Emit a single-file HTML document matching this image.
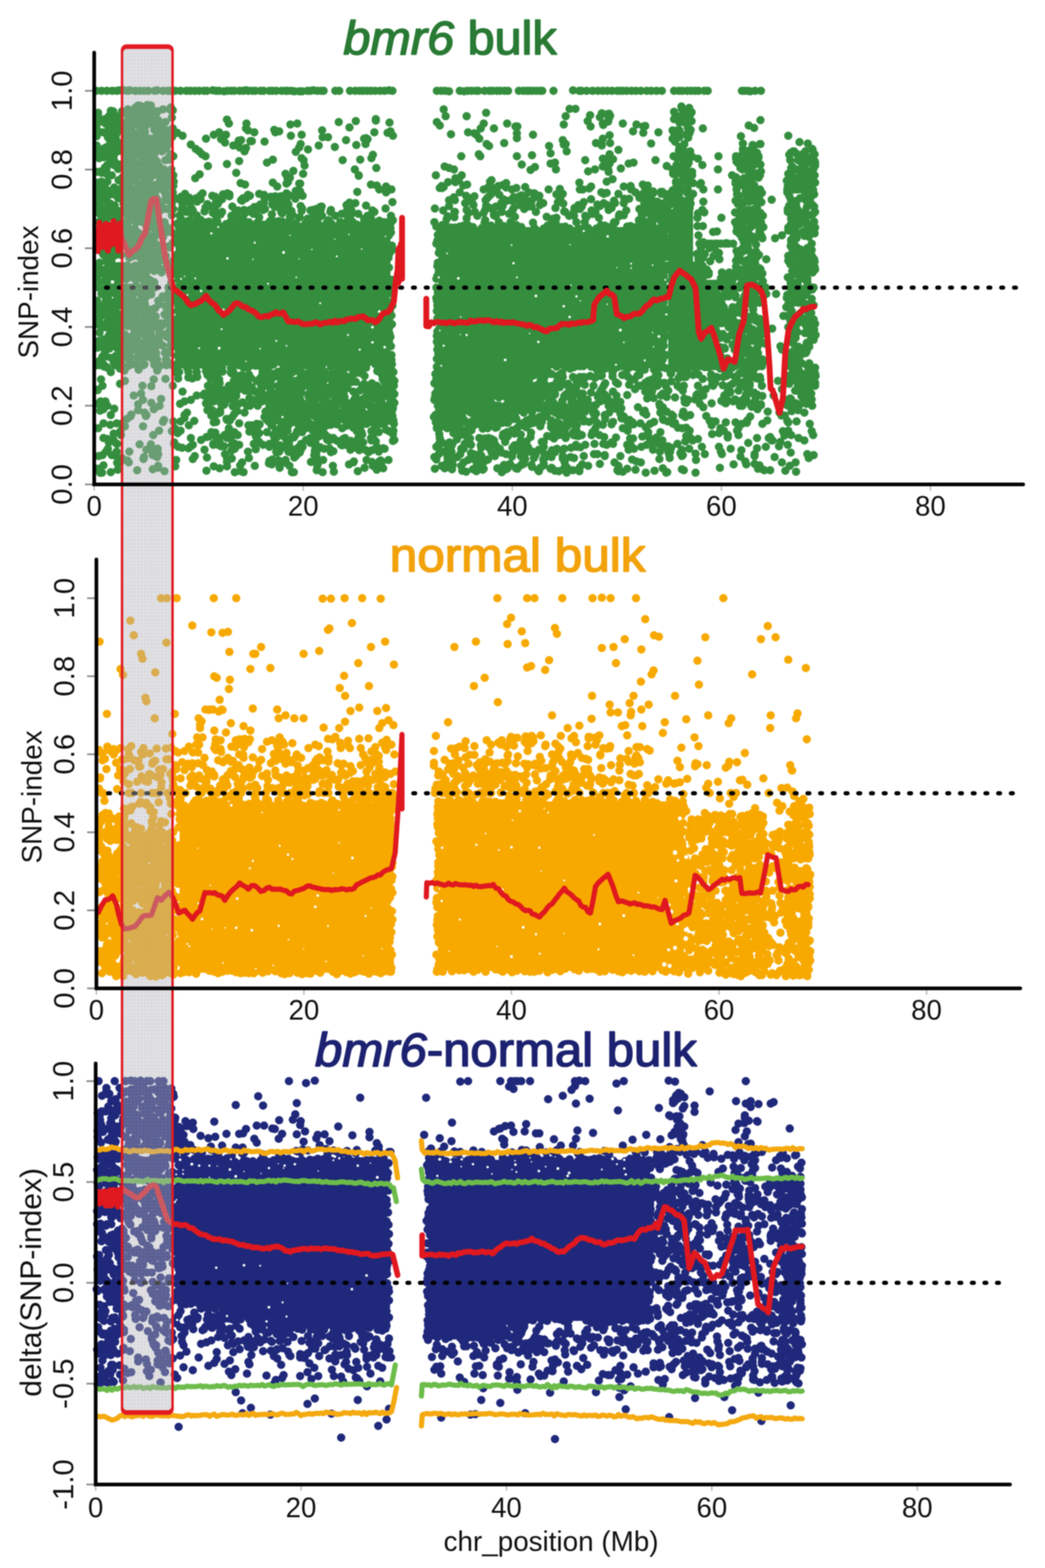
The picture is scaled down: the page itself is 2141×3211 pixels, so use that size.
<!DOCTYPE html>
<html><head><meta charset="utf-8"><style>
html,body{margin:0;padding:0;background:#fff;}
svg{display:block;}
#wrap{filter:blur(1px);width:2141px;height:3211px;}
.tk{font-family:"Liberation Sans",Arial,sans-serif;font-size:56.5px;fill:#111;}
.tky{font-family:"Liberation Sans",Arial,sans-serif;font-size:60px;fill:#111;}
.lab{font-family:"Liberation Sans",Arial,sans-serif;font-size:57px;fill:#111;}
.ttl{font-family:"Liberation Sans",Arial,sans-serif;font-size:97px;font-weight:normal;stroke-width:3px;stroke-linejoin:round;}
</style></head><body>
<div id="wrap"><svg width="2141" height="3211" viewBox="0 0 2141 3211">
<rect width="2141" height="3211" fill="#fff"/>
<rect x="364" y="456" width="436" height="293" fill="#348e3e"/>
<rect x="898" y="465" width="465" height="289" fill="#348e3e"/>
<rect x="889" y="750" width="203" height="60" fill="#348e3e"/>
<rect x="1369" y="428" width="51" height="330" fill="#348e3e"/>
<rect x="1418" y="573" width="56" height="185" fill="#348e3e"/>
<path d="M230 186h0M239 186h0M245 185h0M255 185h0M262 186h0M266 185h0M317 186h0M322 185h0M344 186h0M355 186h0M359 186h0M370 186h0M390 186h0M399 186h0M408 186h0M424 186h0M436 185h0M449 186h0M491 186h0M504 185h0M540 186h0M566 186h0M577 186h0M589 186h0M597 186h0M630 186h0M636 186h0M642 185h0M658 186h0M663 186h0M687 186h0M695 186h0M737 186h0M744 186h0M760 186h0M769 186h0M779 186h0M788 186h0M797 185h0M895 186h0M942 186h0M958 186h0M966 186h0M975 186h0M993 186h0M1003 186h0M1025 186h0M1063 186h0M1072 186h0M1079 186h0M1084 186h0M1090 186h0M1174 185h0M1187 186h0M1191 186h0M1202 186h0M1214 186h0M1254 186h0M1265 186h0M1270 186h0M1276 186h0M1313 186h0M1345 186h0M1356 186h0M1408 186h0M1424 186h0M1450 186h0M1532 186h0M197 186h0M208 186h0M219 186h0M277 186h0M286 186h0M295 186h0M304 186h0M334 186h0M348 186h0M382 186h0M418 186h0M443 186h0M459 187h0M466 186h0M474 186h0M480 186h0M498 186h0M509 186h0M517 186h0M523 186h0M534 186h0M552 186h0M558 186h0M585 186h0M603 187h0M613 187h0M619 187h0M650 186h0M717 186h0M728 186h0M752 186h0M804 186h0M904 186h0M912 186h0M920 187h0M951 187h0M980 186h0M1009 186h0M1018 186h0M1034 186h0M1041 186h0M1098 186h0M1106 186h0M1111 186h0M1134 186h0M1225 186h0M1235 186h0M1244 186h0M1284 186h0M1294 186h0M1303 186h0M1325 186h0M1334 186h0M1381 186h0M1391 186h0M1398 186h0M1416 186h0M1431 186h0M1443 186h0M1520 186h0M1525 186h0M1537 187h0M1547 186h0M1559 186h0M283 216h0M288 217h0M302 215h0M309 216h0M277 221h0M278 220h0M281 219h0M350 220h0M1396 218h0M1412 221h0M262 224h0M286 223h0M293 224h0M334 224h0M348 223h0M348 224h0M350 226h0M909 224h0M1167 223h0M1179 223h0M1397 223h0M1399 223h0M227 227h0M232 228h0M250 228h0M283 228h0M305 226h0M318 228h0M319 230h0M323 228h0M354 226h0M1381 229h0M1411 228h0M1412 228h0M201 231h0M251 231h0M257 231h0M260 234h0M267 232h0M272 233h0M279 233h0M291 233h0M294 232h0M303 231h0M321 231h0M996 231h0M1233 232h0M1248 233h0M1417 230h0M244 238h0M262 237h0M274 235h0M278 238h0M279 237h0M288 235h0M290 235h0M293 235h0M297 236h0M307 236h0M956 238h0M1209 236h0M1244 234h0M1250 237h0M1384 237h0M1398 235h0M1403 236h0M1410 237h0M1414 235h0M201 238h0M223 238h0M238 240h0M239 242h0M269 241h0M352 241h0M913 238h0M1159 238h0M1229 240h0M1248 241h0M1394 238h0M203 244h0M215 244h0M228 242h0M231 244h0M316 244h0M465 245h0M770 244h0M1247 244h0M1381 244h0M1391 244h0M1396 246h0M1558 246h0M198 249h0M232 248h0M232 248h0M244 250h0M248 248h0M264 246h0M266 248h0M287 248h0M297 248h0M307 248h0M324 246h0M339 250h0M694 250h0M729 248h0M770 247h0M895 250h0M1204 248h0M1246 249h0M1417 248h0M200 253h0M216 253h0M226 250h0M238 253h0M261 250h0M274 253h0M295 251h0M308 253h0M309 252h0M312 252h0M318 253h0M326 250h0M332 252h0M469 253h0M505 253h0M609 253h0M798 251h0M991 253h0M1039 253h0M1235 253h0M1276 253h0M1392 251h0M1396 250h0M1404 251h0M274 255h0M283 256h0M290 257h0M299 257h0M595 255h0M901 257h0M1155 255h0M1236 256h0M1304 255h0M1322 258h0M1534 257h0M223 262h0M223 259h0M240 259h0M243 259h0M258 260h0M262 259h0M263 261h0M297 259h0M322 261h0M331 259h0M716 261h0M1056 259h0M1060 259h0M1210 259h0M1318 259h0M1409 261h0M1409 259h0M1545 262h0M248 265h0M261 263h0M266 265h0M269 264h0M269 265h0M323 263h0M329 263h0M354 263h0M504 263h0M562 266h0M985 263h0M1012 263h0M1415 266h0M1440 263h0M200 267h0M229 267h0M229 269h0M237 267h0M237 267h0M242 269h0M265 267h0M288 267h0M288 267h0M291 267h0M292 267h0M296 267h0M316 266h0M333 267h0M336 267h0M342 267h0M351 267h0M353 269h0M508 267h0M572 269h0M660 267h0M800 269h0M1297 269h0M1378 267h0M1388 267h0M1392 267h0M211 271h0M267 273h0M269 272h0M283 273h0M284 271h0M297 271h0M343 271h0M363 272h0M449 271h0M521 271h0M564 271h0M767 271h0M794 272h0M959 271h0M972 273h0M1059 273h0M1318 272h0M1349 271h0M1381 272h0M1409 272h0M1413 272h0M221 276h0M238 276h0M260 276h0M272 278h0M297 277h0M338 276h0M374 278h0M438 276h0M463 276h0M596 278h0M618 276h0M924 275h0M976 276h0M1092 276h0M1249 277h0M1406 276h0M198 279h0M221 281h0M230 280h0M256 281h0M321 279h0M327 279h0M348 281h0M353 280h0M661 281h0M672 281h0M672 281h0M805 278h0M1385 280h0M1392 281h0M1410 282h0M1518 279h0M1615 278h0M237 284h0M263 284h0M268 284h0M268 284h0M276 283h0M291 284h0M309 284h0M340 284h0M347 283h0M422 284h0M453 285h0M746 284h0M750 283h0M753 285h0M982 284h0M1059 283h0M1235 284h0M1378 284h0M225 287h0M236 287h0M292 290h0M297 290h0M310 289h0M330 287h0M331 290h0M331 287h0M489 288h0M494 287h0M513 289h0M516 289h0M542 290h0M709 287h0M1153 287h0M1383 290h0M248 293h0M251 293h0M256 293h0M257 294h0M265 290h0M268 293h0M276 291h0M296 291h0M298 293h0M310 293h0M316 291h0M327 293h0M461 292h0M1033 293h0M1221 293h0M1250 293h0M1334 294h0M1638 291h0M198 298h0M268 295h0M280 298h0M293 295h0M298 296h0M309 296h0M323 298h0M346 295h0M391 296h0M616 295h0M653 298h0M730 297h0M749 295h0M997 295h0M1155 296h0M1159 295h0M1233 296h0M1402 295h0M1522 294h0M1542 297h0M1557 295h0M1558 295h0M1655 294h0M219 301h0M221 301h0M228 301h0M230 299h0M237 298h0M252 300h0M278 301h0M279 301h0M285 301h0M291 302h0M291 302h0M337 299h0M341 301h0M478 298h0M686 301h0M1002 299h0M1125 299h0M1233 298h0M1392 301h0M1545 299h0M213 304h0M235 304h0M274 304h0M285 304h0M340 304h0M401 305h0M491 302h0M504 303h0M613 302h0M631 306h0M1399 305h0M1522 305h0M1664 305h0M222 307h0M243 306h0M257 307h0M276 307h0M288 307h0M289 308h0M297 307h0M298 307h0M308 309h0M315 307h0M316 307h0M333 306h0M1267 307h0M1391 308h0M1398 308h0M1399 307h0M1536 308h0M1665 307h0M200 310h0M212 313h0M226 310h0M228 313h0M240 310h0M241 310h0M252 310h0M256 310h0M256 310h0M259 313h0M259 310h0M259 312h0M261 310h0M263 310h0M268 313h0M270 312h0M278 312h0M284 312h0M288 310h0M302 310h0M311 313h0M317 314h0M332 310h0M408 310h0M501 310h0M606 311h0M1161 310h0M1392 311h0M1392 313h0M1395 310h0M1400 312h0M1414 310h0M1522 313h0M1527 314h0M1545 310h0M1546 314h0M1551 313h0M1620 313h0M1625 310h0M1627 310h0M1650 310h0M202 316h0M206 315h0M290 317h0M292 318h0M350 316h0M414 316h0M764 317h0M981 316h0M1128 314h0M1249 316h0M1412 316h0M1526 318h0M1530 318h0M1542 316h0M1617 317h0M1632 315h0M1644 316h0M1669 316h0M217 320h0M220 320h0M225 320h0M233 320h0M256 320h0M256 321h0M257 320h0M259 320h0M260 320h0M277 320h0M291 320h0M291 320h0M295 320h0M303 320h0M347 320h0M355 320h0M421 320h0M945 320h0M984 320h0M1059 320h0M1090 318h0M1248 321h0M1380 320h0M1418 321h0M1472 320h0M1508 320h0M1523 322h0M1526 320h0M1530 322h0M1554 320h0M1653 321h0M1665 320h0M203 324h0M213 322h0M227 323h0M264 324h0M301 325h0M313 324h0M316 324h0M618 324h0M761 324h0M1235 325h0M1235 325h0M1247 322h0M1387 324h0M1395 323h0M1406 325h0M1430 325h0M1508 324h0M1545 325h0M1549 324h0M1550 324h0M1554 323h0M1642 324h0M272 330h0M301 327h0M307 329h0M308 329h0M314 326h0M339 328h0M348 327h0M490 330h0M559 327h0M622 328h0M702 328h0M738 327h0M1199 328h0M1247 328h0M1256 326h0M1343 328h0M1401 328h0M1531 330h0M1531 328h0M1551 328h0M1619 328h0M1635 328h0M1660 326h0M1666 327h0M1669 330h0M235 331h0M256 333h0M261 333h0M270 333h0M273 333h0M288 333h0M306 333h0M313 333h0M315 334h0M322 331h0M547 333h0M1137 333h0M1298 333h0M1401 333h0M1408 331h0M1411 333h0M1509 331h0M1513 333h0M1524 333h0M1534 333h0M1546 331h0M1641 332h0M1650 333h0M1656 333h0M1663 333h0M1670 333h0M220 338h0M224 335h0M233 338h0M246 337h0M255 337h0M465 336h0M1069 337h0M1128 335h0M1239 334h0M1249 335h0M1288 335h0M1386 338h0M1409 337h0M1439 338h0M1512 334h0M1517 336h0M1539 335h0M1558 337h0M265 340h0M271 339h0M293 339h0M318 341h0M326 340h0M426 340h0M624 339h0M911 341h0M1235 341h0M1244 338h0M1366 340h0M1520 340h0M1530 340h0M1545 338h0M1623 341h0M1645 338h0M1670 339h0M215 343h0M242 346h0M244 343h0M277 342h0M288 345h0M309 345h0M771 344h0M920 344h0M1096 342h0M1272 345h0M1389 343h0M1395 343h0M1403 343h0M1517 344h0M1537 343h0M1540 343h0M1621 344h0M1667 345h0M218 347h0M257 347h0M261 347h0M294 347h0M294 347h0M296 348h0M323 347h0M323 347h0M336 347h0M351 347h0M727 347h0M930 347h0M1087 348h0M1139 347h0M1219 347h0M1246 347h0M1378 347h0M1399 347h0M1471 347h0M1521 347h0M1532 349h0M1623 347h0M1632 347h0M1632 347h0M1650 347h0M1665 347h0M198 352h0M207 351h0M208 354h0M269 352h0M281 354h0M290 352h0M292 353h0M301 353h0M328 354h0M337 352h0M341 352h0M341 351h0M484 354h0M601 350h0M1205 351h0M1247 352h0M1412 353h0M1418 352h0M1534 352h0M1536 353h0M1559 351h0M1640 351h0M1647 354h0M1657 352h0M218 356h0M296 357h0M305 357h0M349 356h0M409 357h0M585 356h0M621 356h0M1379 356h0M1382 357h0M1386 356h0M1404 356h0M1542 356h0M1546 356h0M1552 355h0M1555 356h0M1556 354h0M1615 356h0M1622 357h0M1640 355h0M1650 356h0M1652 357h0M229 359h0M259 359h0M267 360h0M281 360h0M290 359h0M298 361h0M316 358h0M327 361h0M332 358h0M336 360h0M355 359h0M735 359h0M735 360h0M893 359h0M946 359h0M1399 359h0M1418 359h0M1500 359h0M1541 360h0M1543 358h0M1546 359h0M1550 359h0M1557 359h0M1623 361h0M1647 360h0M1654 360h0M1669 359h0M251 363h0M265 365h0M299 365h0M309 363h0M337 363h0M343 365h0M345 362h0M346 363h0M400 365h0M589 365h0M594 364h0M933 365h0M1400 364h0M1410 365h0M1508 363h0M1524 365h0M1535 365h0M1554 364h0M1633 365h0M1634 365h0M243 369h0M276 368h0M302 366h0M303 368h0M337 369h0M340 368h0M348 368h0M940 369h0M1007 369h0M1255 367h0M1540 367h0M199 374h0M203 374h0M208 374h0M208 372h0M220 372h0M246 370h0M260 372h0M276 371h0M295 372h0M298 372h0M303 372h0M327 372h0M356 372h0M590 373h0M918 373h0M933 373h0M1004 372h0M1243 372h0M1385 374h0M1385 372h0M1392 373h0M1399 372h0M1413 372h0M1507 372h0M1530 373h0M1612 370h0M1632 371h0M1644 373h0M1647 372h0M1663 370h0M251 374h0M257 376h0M285 376h0M291 378h0M301 374h0M308 377h0M329 376h0M335 376h0M493 375h0M502 378h0M559 374h0M587 376h0M613 376h0M615 376h0M760 378h0M957 378h0M1037 375h0M1187 374h0M1317 378h0M1412 376h0M1420 375h0M1436 375h0M1507 376h0M1511 375h0M1623 376h0M1626 376h0M1670 374h0M206 380h0M264 379h0M315 379h0M338 381h0M350 379h0M355 381h0M772 380h0M791 382h0M905 381h0M949 380h0M1021 381h0M1030 379h0M1292 381h0M1327 380h0M1391 381h0M1433 378h0M1517 379h0M1520 379h0M1521 379h0M1542 379h0M1545 379h0M1614 381h0M1661 380h0M208 383h0M234 384h0M259 384h0M291 382h0M346 382h0M568 382h0M901 385h0M906 385h0M909 383h0M1000 384h0M1010 385h0M1037 384h0M1058 385h0M1076 383h0M1211 382h0M1278 382h0M1627 386h0M1636 383h0M1638 383h0M1648 383h0M198 388h0M209 389h0M218 388h0M242 388h0M263 388h0M276 388h0M278 388h0M283 388h0M284 387h0M302 388h0M307 388h0M312 388h0M314 389h0M316 388h0M317 389h0M319 388h0M332 388h0M777 388h0M802 388h0M991 388h0M1049 388h0M1124 388h0M1147 387h0M1188 388h0M1194 388h0M1207 386h0M1293 388h0M1294 388h0M1322 388h0M1378 390h0M1383 387h0M1391 388h0M1399 388h0M1401 388h0M1405 388h0M1409 388h0M1441 388h0M1471 388h0M1509 388h0M1536 387h0M1541 388h0M1547 388h0M1557 388h0M1613 388h0M1613 389h0M1626 388h0M1632 388h0M1635 388h0M1651 388h0M1666 389h0M252 393h0M281 394h0M282 392h0M295 391h0M318 393h0M354 394h0M606 391h0M615 392h0M732 393h0M942 394h0M1018 393h0M1083 394h0M1232 394h0M1302 394h0M1338 392h0M1354 393h0M1357 393h0M1410 393h0M1528 392h0M1613 394h0M1647 391h0M1656 393h0M226 396h0M250 396h0M264 397h0M272 395h0M281 396h0M339 397h0M379 397h0M415 396h0M466 396h0M531 397h0M587 396h0M608 396h0M791 394h0M1006 395h0M1093 396h0M1095 396h0M1140 398h0M1150 395h0M1153 397h0M1237 397h0M1243 395h0M1267 397h0M1321 395h0M1332 395h0M1334 396h0M1338 396h0M1355 397h0M1358 397h0M1382 395h0M1384 397h0M1408 395h0M1420 397h0M1510 398h0M1527 398h0M1548 394h0M1561 395h0M1665 396h0M1667 397h0M198 401h0M208 400h0M227 398h0M233 398h0M245 401h0M271 399h0M286 401h0M302 401h0M303 398h0M348 400h0M353 400h0M411 400h0M435 401h0M457 398h0M470 402h0M470 398h0M508 399h0M512 401h0M541 399h0M575 402h0M591 399h0M620 401h0M955 401h0M1006 398h0M1023 399h0M1067 401h0M1069 400h0M1105 401h0M1315 400h0M1316 398h0M1331 401h0M1365 401h0M1368 398h0M1383 398h0M1387 398h0M1391 398h0M1413 398h0M1514 401h0M1529 401h0M1532 401h0M1541 399h0M1617 401h0M1668 398h0M199 402h0M215 403h0M242 406h0M246 403h0M246 403h0M259 404h0M271 406h0M283 406h0M301 405h0M302 406h0M307 403h0M315 402h0M319 403h0M354 406h0M356 404h0M371 403h0M378 406h0M388 405h0M402 406h0M441 403h0M442 406h0M498 406h0M500 406h0M504 406h0M542 406h0M555 403h0M564 402h0M579 402h0M579 402h0M584 402h0M602 402h0M930 404h0M963 406h0M972 402h0M998 406h0M1001 403h0M1052 404h0M1057 405h0M1062 403h0M1071 403h0M1075 405h0M1095 404h0M1310 405h0M1379 404h0M1390 406h0M1413 406h0M1414 406h0M1537 403h0M1548 405h0M1555 403h0M1555 406h0M1639 406h0M1652 403h0M1661 404h0M205 410h0M207 407h0M212 410h0M218 410h0M264 409h0M282 407h0M322 408h0M339 408h0M342 410h0M366 408h0M406 408h0M411 408h0M448 407h0M455 408h0M494 410h0M496 408h0M558 410h0M562 410h0M574 406h0M581 406h0M587 410h0M605 407h0M920 410h0M931 409h0M932 410h0M1031 408h0M1047 410h0M1148 408h0M1211 408h0M1279 407h0M1289 407h0M1326 408h0M1546 408h0M1548 410h0M1581 409h0M1620 408h0M1651 410h0M265 412h0M268 413h0M278 413h0M289 413h0M300 413h0M376 412h0M404 413h0M496 411h0M995 410h0M1039 411h0M1051 412h0M1080 413h0M1087 412h0M1089 412h0M1108 414h0M1143 414h0M1196 414h0M1258 411h0M1329 413h0M1334 411h0M1337 411h0M1347 413h0M1365 413h0M1369 412h0M1378 413h0M1399 411h0M1413 412h0M1441 413h0M1507 411h0M1515 411h0M1529 412h0M1535 413h0M1546 412h0M1632 412h0M1633 411h0M199 414h0M199 416h0M201 416h0M226 417h0M253 417h0M352 416h0M389 416h0M442 416h0M446 418h0M447 416h0M541 415h0M566 418h0M569 416h0M716 415h0M728 416h0M804 414h0M953 416h0M968 416h0M1027 416h0M1066 414h0M1068 416h0M1076 415h0M1113 416h0M1154 417h0M1237 416h0M1260 416h0M1278 416h0M1320 416h0M1321 416h0M1323 416h0M1355 417h0M1362 416h0M1368 416h0M1415 417h0M1512 418h0M1515 417h0M1523 416h0M1560 414h0M235 421h0M278 420h0M310 422h0M330 419h0M374 419h0M425 418h0M533 419h0M558 419h0M581 422h0M582 422h0M591 419h0M616 422h0M710 420h0M720 419h0M750 421h0M920 422h0M970 420h0M996 421h0M1028 422h0M1028 419h0M1030 422h0M1065 420h0M1084 422h0M1106 420h0M1185 420h0M1224 419h0M1229 422h0M1244 420h0M1321 421h0M1330 419h0M1338 418h0M1358 419h0M1370 421h0M1385 421h0M1396 418h0M1402 420h0M1617 421h0M1624 421h0M1626 422h0M1631 420h0M1663 418h0M205 423h0M222 425h0M223 423h0M256 423h0M283 424h0M298 425h0M349 425h0M421 425h0M423 423h0M423 425h0M436 423h0M476 423h0M521 424h0M531 426h0M563 424h0M570 423h0M571 422h0M656 424h0M659 423h0M1016 423h0M1073 425h0M1082 423h0M1089 423h0M1177 426h0M1192 423h0M1246 423h0M1253 426h0M1329 424h0M1349 425h0M1386 423h0M1398 423h0M1410 422h0M1413 426h0M1518 425h0M1519 424h0M1551 426h0M1653 424h0M1667 423h0M1668 423h0M198 430h0M208 428h0M218 426h0M259 427h0M272 428h0M308 428h0M321 428h0M341 428h0M346 428h0M355 428h0M372 429h0M387 430h0M392 426h0M440 426h0M512 430h0M517 428h0M543 428h0M578 428h0M619 427h0M641 430h0M648 428h0M790 427h0M891 427h0M994 430h0M1004 426h0M1011 428h0M1052 427h0M1074 428h0M1138 426h0M1188 428h0M1310 428h0M1315 428h0M1331 428h0M1333 428h0M1333 426h0M1342 428h0M1345 428h0M1346 428h0M1350 427h0M1353 428h0M1358 430h0M1365 427h0M1366 428h0M1533 430h0M1543 429h0M1614 428h0M1628 428h0M1633 428h0M1634 429h0M226 431h0M228 433h0M236 431h0M246 432h0M261 433h0M279 433h0M281 432h0M284 434h0M329 431h0M374 431h0M380 432h0M382 434h0M387 434h0M387 432h0M395 431h0M419 433h0M455 434h0M487 432h0M488 431h0M500 430h0M509 433h0M524 434h0M539 430h0M576 434h0M584 430h0M597 432h0M618 432h0M636 431h0M645 434h0M656 433h0M657 430h0M677 434h0M678 430h0M711 431h0M720 431h0M763 431h0M767 434h0M908 431h0M931 434h0M956 430h0M973 434h0M1028 434h0M1050 431h0M1098 434h0M1156 433h0M1158 434h0M1176 433h0M1212 431h0M1220 434h0M1247 430h0M1283 431h0M1315 433h0M1315 431h0M1323 434h0M1328 434h0M1330 431h0M1338 434h0M1345 433h0M1347 434h0M1359 432h0M1439 430h0M1614 434h0M1618 432h0M1618 431h0M1630 431h0M1650 432h0M1670 434h0M199 435h0M208 438h0M216 434h0M232 434h0M260 436h0M269 438h0M292 436h0M393 436h0M436 436h0M443 437h0M482 436h0M519 438h0M520 437h0M524 435h0M578 437h0M700 438h0M720 438h0M734 438h0M932 434h0M960 436h0M991 436h0M1012 438h0M1013 438h0M1043 438h0M1214 438h0M1317 437h0M1325 436h0M1326 436h0M1343 438h0M1344 438h0M1347 435h0M1360 435h0M1360 438h0M1364 437h0M1430 437h0M1443 435h0M1506 435h0M1518 436h0M1520 436h0M1532 438h0M1536 438h0M1545 437h0M1558 436h0M1622 438h0M1635 435h0M1648 435h0M207 442h0M218 439h0M260 440h0M268 442h0M278 441h0M283 441h0M291 442h0M308 441h0M352 441h0M368 441h0M403 441h0M452 439h0M474 442h0M500 439h0M557 439h0M595 440h0M600 441h0M753 442h0M801 442h0M1012 441h0M1166 442h0M1199 442h0M1269 439h0M1278 441h0M1315 439h0M1333 438h0M1514 440h0M1558 439h0M1622 438h0M1624 441h0M1627 441h0M1662 441h0M1666 438h0M220 442h0M229 444h0M232 446h0M244 442h0M266 444h0M274 446h0M304 443h0M313 442h0M531 445h0M594 445h0M614 445h0M639 446h0M660 442h0M687 442h0M917 443h0M931 445h0M978 442h0M1016 443h0M1055 444h0M1120 444h0M1176 442h0M1202 444h0M1268 443h0M1335 444h0M1342 444h0M1364 444h0M1369 444h0M1369 442h0M1529 442h0M1563 442h0M1621 446h0M1622 444h0M1625 445h0M1630 442h0M1639 445h0M1651 445h0M297 447h0M298 448h0M307 450h0M370 446h0M443 447h0M490 448h0M630 448h0M653 446h0M713 447h0M718 449h0M746 448h0M760 447h0M915 449h0M956 447h0M1133 448h0M1140 446h0M1227 446h0M1341 449h0M1342 447h0M1354 447h0M1429 446h0M1478 446h0M1516 448h0M1535 447h0M1539 447h0M1555 448h0M1621 449h0M1643 447h0M241 453h0M311 454h0M373 453h0M384 453h0M389 451h0M392 453h0M411 450h0M445 453h0M473 453h0M476 453h0M486 454h0M489 453h0M490 451h0M501 453h0M553 453h0M558 452h0M571 453h0M673 451h0M777 452h0M805 451h0M994 451h0M1309 451h0M1318 452h0M1337 451h0M1355 454h0M1512 452h0M1522 451h0M1523 453h0M1623 452h0M1647 453h0M1668 454h0M202 455h0M205 455h0M212 455h0M217 454h0M251 455h0M252 455h0M263 455h0M263 455h0M279 455h0M280 455h0M292 455h0M301 455h0M303 455h0M308 455h0M311 455h0M312 456h0M316 455h0M337 455h0M363 458h0M399 455h0M409 457h0M418 455h0M428 454h0M476 455h0M480 456h0M488 455h0M510 455h0M510 455h0M526 457h0M561 455h0M566 454h0M579 454h0M591 456h0M606 457h0M626 457h0M637 455h0M643 455h0M649 455h0M669 457h0M673 455h0M679 458h0M697 455h0M698 455h0M715 455h0M723 455h0M750 455h0M752 455h0M760 457h0M771 456h0M787 455h0M797 454h0M801 456h0M890 455h0M993 456h0M1022 455h0M1046 455h0M1092 456h0M1131 454h0M1138 455h0M1181 455h0M1198 455h0M1258 455h0M1261 455h0M1312 455h0M1326 455h0M1364 455h0M1368 455h0M1506 455h0M1522 456h0M1524 455h0M1539 455h0M1546 458h0M1554 455h0M1559 455h0M1626 455h0M1632 455h0M1652 455h0M213 458h0M313 461h0M317 459h0M328 459h0M329 459h0M339 462h0M366 458h0M391 460h0M435 460h0M463 459h0M536 460h0M542 460h0M597 459h0M636 459h0M653 460h0M708 458h0M731 460h0M744 459h0M906 461h0M950 462h0M959 461h0M1006 462h0M1022 461h0M1058 461h0M1122 462h0M1231 461h0M1239 462h0M1337 461h0M1541 461h0M1542 462h0M1620 460h0M1625 461h0M1638 459h0M300 464h0M340 464h0M366 465h0M894 464h0M899 466h0M916 464h0M925 466h0M942 464h0M969 465h0M996 462h0M1032 463h0M1068 465h0M1139 462h0M1149 465h0M1158 464h0M1247 465h0M1256 463h0M1285 464h0M1292 463h0M1303 465h0M1310 462h0M1319 462h0M1329 462h0M1355 466h0M1366 463h0M1429 463h0M1440 463h0M1510 464h0M1521 465h0M1539 463h0M1555 464h0M1564 465h0M1654 463h0M1670 466h0M232 466h0M257 469h0M263 468h0M275 468h0M277 470h0M302 467h0M306 466h0M337 468h0M347 468h0M800 467h0M933 466h0M987 467h0M1015 468h0M1040 468h0M1050 469h0M1095 467h0M1114 468h0M1130 468h0M1167 468h0M1185 468h0M1195 468h0M1205 467h0M1222 468h0M1350 468h0M1512 467h0M1537 466h0M1615 466h0M1629 468h0M1630 468h0M1660 467h0M217 473h0M223 471h0M225 470h0M238 472h0M256 473h0M268 470h0M318 472h0M320 472h0M346 473h0M1469 474h0M1509 474h0M1527 472h0M1531 470h0M1531 472h0M1556 474h0M1615 472h0M1628 474h0M1646 474h0M1654 473h0M1668 474h0M225 477h0M244 477h0M278 476h0M284 477h0M325 476h0M340 476h0M352 476h0M367 476h0M801 476h0M1361 475h0M1461 475h0M1557 474h0M1624 476h0M217 482h0M226 479h0M272 480h0M279 479h0M300 481h0M318 481h0M329 479h0M334 482h0M361 482h0M897 481h0M1431 482h0M1515 479h0M1519 479h0M1522 482h0M1528 482h0M1534 479h0M1602 482h0M1632 479h0M1648 479h0M1669 478h0M215 485h0M262 483h0M277 482h0M284 486h0M295 483h0M306 483h0M319 482h0M334 485h0M334 486h0M797 482h0M1361 484h0M1520 486h0M1526 485h0M1544 485h0M1558 485h0M1560 483h0M1648 483h0M1657 485h0M212 488h0M234 488h0M243 488h0M257 488h0M274 487h0M278 488h0M315 488h0M1520 487h0M1543 488h0M1548 488h0M1562 488h0M1588 488h0M1632 488h0M228 493h0M229 492h0M275 491h0M306 493h0M366 494h0M896 493h0M1362 493h0M1527 494h0M1527 490h0M1531 491h0M1537 492h0M1621 491h0M216 497h0M223 497h0M229 496h0M251 495h0M258 496h0M261 496h0M272 496h0M272 495h0M284 495h0M293 495h0M298 498h0M306 496h0M307 496h0M316 496h0M354 497h0M1441 496h0M1524 496h0M1621 495h0M255 500h0M266 498h0M299 499h0M308 501h0M308 501h0M894 499h0M1366 500h0M1433 499h0M1435 498h0M1444 499h0M1447 501h0M1451 499h0M1457 499h0M1465 499h0M1470 499h0M1477 499h0M1485 499h0M1488 498h0M1492 499h0M1502 499h0M1549 501h0M1663 499h0M204 503h0M222 503h0M266 504h0M278 504h0M288 505h0M288 503h0M324 503h0M332 503h0M346 504h0M366 502h0M803 503h0M1532 504h0M1620 504h0M1630 504h0M241 509h0M262 508h0M291 508h0M297 508h0M307 508h0M319 508h0M322 507h0M324 508h0M348 507h0M901 509h0M1366 510h0M1436 508h0M1454 508h0M1464 508h0M1521 509h0M1527 506h0M1532 508h0M1623 509h0M1628 508h0M1629 508h0M1634 508h0M1654 508h0M233 512h0M270 512h0M271 511h0M288 513h0M302 512h0M306 512h0M308 513h0M329 513h0M368 510h0M804 512h0M1534 513h0M1640 511h0M1649 513h0M1663 512h0M210 518h0M211 517h0M217 515h0M219 515h0M226 518h0M235 516h0M264 515h0M267 515h0M285 516h0M294 516h0M305 516h0M313 516h0M315 517h0M318 516h0M899 518h0M1473 518h0M1509 514h0M1524 514h0M1548 516h0M1549 515h0M1629 515h0M1650 518h0M1655 518h0M212 522h0M238 522h0M248 522h0M295 519h0M302 520h0M312 522h0M329 520h0M364 520h0M798 519h0M1358 520h0M1428 520h0M1444 520h0M1515 522h0M1518 518h0M1555 522h0M1621 522h0M1642 521h0M225 523h0M264 524h0M272 525h0M284 525h0M286 525h0M313 524h0M340 524h0M1366 526h0M1462 524h0M1512 523h0M1513 525h0M1539 525h0M1615 524h0M1631 523h0M1648 524h0M1664 525h0M229 530h0M265 528h0M324 527h0M325 527h0M336 527h0M360 529h0M796 528h0M1440 528h0M1550 527h0M1622 529h0M1663 528h0M219 532h0M289 531h0M296 531h0M301 532h0M312 531h0M331 533h0M1431 531h0M1474 531h0M1530 533h0M1537 531h0M1538 531h0M1570 531h0M1615 534h0M1616 531h0M1623 531h0M1641 532h0M1663 531h0M1668 531h0M1668 531h0M204 538h0M217 535h0M221 537h0M224 534h0M228 538h0M295 535h0M320 535h0M354 535h0M364 536h0M1455 535h0M1508 534h0M1520 534h0M1525 537h0M1544 537h0M1621 534h0M1650 535h0M1669 536h0M297 540h0M306 541h0M312 541h0M897 538h0M1434 539h0M1541 541h0M1547 539h0M1619 541h0M1634 540h0M1640 539h0M1661 539h0M1667 539h0M202 544h0M234 544h0M244 545h0M257 545h0M261 544h0M274 546h0M277 544h0M287 544h0M309 543h0M342 544h0M354 545h0M368 545h0M896 545h0M1366 544h0M1423 544h0M1439 544h0M1508 546h0M1530 545h0M1537 546h0M1623 543h0M1650 543h0M1666 544h0M220 549h0M229 547h0M233 547h0M313 546h0M325 548h0M352 549h0M797 548h0M1429 550h0M1536 547h0M1555 549h0M1645 550h0M1658 547h0M1659 547h0M1669 547h0M199 552h0M215 552h0M218 551h0M220 552h0M231 552h0M238 552h0M277 552h0M296 552h0M298 551h0M298 550h0M311 550h0M317 552h0M318 552h0M319 552h0M331 553h0M331 552h0M349 552h0M1363 554h0M1438 552h0M1448 552h0M1511 552h0M1516 552h0M1547 552h0M1558 551h0M1632 552h0M1634 552h0M1637 553h0M1658 552h0M1660 551h0M1661 552h0M1663 552h0M1670 552h0M211 555h0M214 556h0M223 555h0M230 557h0M244 558h0M253 554h0M264 554h0M267 556h0M271 555h0M273 556h0M296 557h0M316 555h0M328 554h0M361 555h0M899 556h0M1422 557h0M1432 555h0M1437 556h0M1508 555h0M1521 557h0M1524 554h0M1623 555h0M1640 556h0M204 558h0M213 562h0M219 560h0M261 561h0M265 558h0M285 560h0M300 558h0M331 558h0M1452 558h0M1479 558h0M1494 558h0M1514 558h0M1515 558h0M1518 558h0M1519 559h0M1524 561h0M1538 558h0M1543 558h0M1552 558h0M1562 560h0M1633 558h0M1639 558h0M1641 558h0M1649 560h0M1655 558h0M1664 558h0M1665 558h0M232 564h0M237 565h0M243 565h0M246 565h0M264 566h0M349 562h0M362 563h0M896 565h0M1360 565h0M1427 562h0M1435 564h0M1443 565h0M1451 562h0M1452 562h0M1491 564h0M1505 562h0M1510 565h0M1513 563h0M1519 565h0M1521 563h0M1537 565h0M1538 565h0M1549 564h0M1626 562h0M198 568h0M222 568h0M222 569h0M235 567h0M244 570h0M263 569h0M276 568h0M278 570h0M297 567h0M1423 569h0M1436 568h0M1477 570h0M1491 568h0M1518 569h0M1551 567h0M1559 568h0M1614 568h0M1619 568h0M1643 568h0M1652 566h0M198 571h0M243 573h0M258 572h0M277 572h0M283 571h0M303 571h0M366 572h0M802 573h0M894 571h0M1480 573h0M1484 571h0M1501 573h0M1534 571h0M1617 570h0M1639 571h0M1649 572h0M1654 571h0M199 575h0M204 577h0M216 574h0M296 577h0M298 577h0M308 577h0M308 574h0M309 575h0M309 575h0M316 578h0M1361 574h0M1397 578h0M1414 578h0M1426 578h0M1432 578h0M1487 574h0M1490 576h0M1543 577h0M1563 576h0M1654 578h0M219 579h0M242 579h0M298 581h0M303 578h0M303 579h0M305 579h0M351 578h0M351 578h0M1378 579h0M1407 578h0M1442 580h0M1465 581h0M1476 579h0M1522 581h0M1620 580h0M1629 579h0M1634 580h0M279 586h0M368 583h0M797 584h0M1379 582h0M1388 584h0M1452 582h0M1500 582h0M1517 583h0M1530 584h0M1557 584h0M202 589h0M216 589h0M230 589h0M231 589h0M235 589h0M235 589h0M252 589h0M258 589h0M261 589h0M267 589h0M267 589h0M272 589h0M275 589h0M279 589h0M279 589h0M286 589h0M287 589h0M290 589h0M305 589h0M309 589h0M310 586h0M313 589h0M317 586h0M317 589h0M345 589h0M348 590h0M894 589h0M1382 589h0M1475 587h0M1481 589h0M1481 589h0M1487 589h0M1496 587h0M1499 590h0M1500 589h0M1510 589h0M1511 588h0M1512 589h0M1515 589h0M1516 589h0M1527 589h0M1528 589h0M1528 589h0M1529 589h0M1534 589h0M1546 589h0M1551 589h0M1561 589h0M1569 589h0M1619 589h0M1620 589h0M1627 589h0M1635 589h0M1637 589h0M1652 589h0M1654 589h0M1659 589h0M1663 589h0M1664 589h0M1665 589h0M1667 589h0M259 592h0M270 592h0M299 590h0M367 591h0M801 593h0M1364 590h0M1462 592h0M1501 592h0M1537 592h0M1546 590h0M1653 590h0M1664 593h0M256 595h0M284 594h0M291 597h0M1485 598h0M1492 597h0M1497 594h0M1551 597h0M1643 595h0M1647 595h0M208 602h0M220 599h0M235 601h0M242 602h0M262 599h0M266 600h0M276 599h0M292 601h0M345 601h0M361 601h0M797 599h0M897 600h0M1364 601h0M1378 601h0M1468 601h0M1494 602h0M1494 598h0M1570 602h0M1590 602h0M1621 600h0M1624 599h0M1633 599h0M1642 598h0M1643 600h0M1654 598h0M220 605h0M247 603h0M247 606h0M289 603h0M297 603h0M308 603h0M310 603h0M344 605h0M345 605h0M1507 605h0M1528 602h0M1531 602h0M1543 605h0M1613 604h0M1617 605h0M1636 604h0M1636 606h0M1647 605h0M1651 604h0M221 608h0M272 607h0M300 607h0M333 607h0M344 608h0M362 609h0M802 609h0M894 610h0M1363 608h0M1477 607h0M1480 607h0M1488 607h0M1493 607h0M1507 609h0M1507 608h0M1525 607h0M1613 608h0M1626 609h0M1645 608h0M217 610h0M246 611h0M258 611h0M289 613h0M293 610h0M298 610h0M335 610h0M344 613h0M1461 610h0M1535 610h0M1549 613h0M1551 613h0M1563 610h0M1612 610h0M1663 612h0M199 616h0M217 616h0M237 617h0M244 617h0M259 616h0M264 616h0M270 616h0M273 616h0M274 617h0M292 617h0M324 616h0M362 618h0M798 617h0M895 616h0M1382 615h0M1544 616h0M1556 614h0M1559 614h0M1559 616h0M1561 616h0M1632 616h0M228 619h0M232 622h0M262 620h0M263 621h0M290 619h0M347 620h0M1360 619h0M1468 619h0M1476 622h0M1478 620h0M1518 618h0M1519 619h0M1556 620h0M1626 620h0M1636 620h0M1645 620h0M203 626h0M212 626h0M212 625h0M214 623h0M217 624h0M241 623h0M248 623h0M249 626h0M273 624h0M273 624h0M277 626h0M280 626h0M282 623h0M283 625h0M290 626h0M290 626h0M297 623h0M326 623h0M804 626h0M1479 624h0M1514 626h0M1538 623h0M1541 626h0M1615 623h0M1648 624h0M1653 623h0M1659 626h0M1661 623h0M1667 625h0M256 628h0M295 629h0M339 627h0M344 628h0M345 629h0M347 627h0M365 626h0M896 626h0M1376 628h0M1469 627h0M1483 629h0M1501 629h0M1543 627h0M1611 629h0M1663 628h0M205 631h0M211 631h0M224 634h0M230 634h0M266 632h0M267 630h0M287 631h0M295 631h0M308 634h0M318 631h0M1366 634h0M1376 633h0M1464 634h0M1504 634h0M1543 634h0M1620 634h0M1657 634h0M218 637h0M224 636h0M237 636h0M281 637h0M292 636h0M293 636h0M364 636h0M799 636h0M895 637h0M1525 636h0M1622 637h0M1647 634h0M203 638h0M206 641h0M233 639h0M233 641h0M259 640h0M263 639h0M269 642h0M301 639h0M311 642h0M342 639h0M350 639h0M1478 639h0M1493 639h0M1498 639h0M1512 640h0M1639 642h0M1656 639h0M1662 641h0M251 643h0M299 644h0M301 643h0M308 644h0M337 644h0M368 645h0M802 646h0M900 646h0M1376 643h0M1467 645h0M1499 643h0M1502 645h0M1522 644h0M1545 646h0M1638 643h0M201 647h0M206 646h0M217 647h0M237 648h0M242 647h0M256 647h0M260 647h0M261 647h0M273 647h0M274 648h0M296 647h0M296 647h0M298 647h0M299 647h0M309 650h0M319 648h0M1488 647h0M1499 647h0M1527 647h0M1540 647h0M1544 649h0M1605 647h0M1613 647h0M1629 649h0M1657 647h0M203 652h0M222 654h0M225 652h0M238 653h0M281 653h0M283 653h0M288 652h0M304 653h0M305 653h0M351 652h0M363 653h0M896 652h0M1366 654h0M1468 653h0M1478 651h0M1480 651h0M1531 653h0M1537 651h0M1537 651h0M1539 653h0M1556 653h0M1625 650h0M1639 653h0M1641 653h0M1648 653h0M1656 653h0M1660 653h0M203 656h0M203 655h0M233 658h0M233 658h0M249 658h0M271 655h0M285 656h0M298 656h0M305 658h0M310 656h0M312 657h0M315 656h0M342 658h0M797 655h0M1383 655h0M1476 656h0M1482 656h0M1504 658h0M1530 656h0M1534 656h0M1547 656h0M1551 656h0M1561 658h0M1619 656h0M1636 656h0M1650 656h0M1662 654h0M1667 654h0M223 660h0M231 660h0M240 658h0M267 660h0M268 661h0M273 658h0M305 658h0M318 660h0M353 658h0M362 662h0M1465 662h0M1489 661h0M1495 661h0M1554 660h0M1634 660h0M1637 660h0M1660 660h0M199 664h0M200 662h0M217 663h0M231 666h0M253 664h0M263 662h0M273 664h0M281 666h0M284 662h0M311 664h0M316 663h0M329 662h0M330 666h0M334 665h0M803 664h0M1365 662h0M1478 662h0M1487 662h0M1506 665h0M1508 663h0M1515 662h0M1559 665h0M1648 662h0M1670 663h0M207 670h0M215 670h0M216 670h0M249 670h0M262 668h0M277 670h0M278 670h0M291 670h0M293 667h0M299 670h0M299 670h0M319 669h0M324 667h0M329 670h0M349 667h0M1493 670h0M1515 670h0M1521 670h0M1529 670h0M1529 666h0M1532 670h0M1535 670h0M1615 670h0M1627 670h0M1629 670h0M1629 670h0M1631 667h0M1652 668h0M1663 669h0M1666 670h0M222 672h0M226 672h0M234 673h0M275 674h0M300 671h0M308 672h0M309 670h0M328 670h0M362 672h0M797 672h0M900 673h0M1363 672h0M1465 672h0M1558 674h0M1582 673h0M226 675h0M238 675h0M246 678h0M247 677h0M277 675h0M326 675h0M351 677h0M1502 677h0M1502 675h0M1526 675h0M1543 675h0M1563 677h0M1567 677h0M1618 675h0M1668 675h0M204 681h0M228 682h0M230 682h0M247 680h0M284 679h0M292 682h0M295 680h0M309 680h0M344 682h0M346 679h0M896 679h0M1360 681h0M1377 679h0M1468 679h0M1502 682h0M1520 682h0M1537 680h0M1543 679h0M1545 682h0M1560 682h0M1620 682h0M1621 679h0M1631 679h0M1634 680h0M1649 682h0M1651 680h0M1654 682h0M1661 679h0M243 686h0M256 685h0M274 684h0M293 685h0M326 685h0M334 685h0M339 685h0M368 683h0M798 683h0M1475 685h0M1481 684h0M1561 682h0M223 687h0M228 689h0M232 688h0M269 690h0M298 687h0M309 687h0M342 690h0M343 688h0M363 688h0M895 688h0M1364 688h0M1481 687h0M1497 687h0M1501 686h0M1508 690h0M1536 690h0M1539 687h0M1545 690h0M1554 690h0M1560 686h0M1671 686h0M238 693h0M270 693h0M276 691h0M280 692h0M304 693h0M348 693h0M352 692h0M800 690h0M1469 691h0M1476 692h0M1525 693h0M1538 692h0M1544 692h0M1553 693h0M1620 693h0M1630 692h0M1662 693h0M203 698h0M213 695h0M214 695h0M220 696h0M238 697h0M256 697h0M322 695h0M323 695h0M352 697h0M364 697h0M1359 697h0M1489 695h0M1509 696h0M1515 695h0M1529 695h0M1533 697h0M1544 694h0M1547 698h0M1550 695h0M1556 694h0M1617 695h0M1665 696h0M1667 696h0M227 698h0M234 699h0M248 699h0M292 702h0M304 701h0M320 699h0M324 699h0M326 699h0M351 702h0M797 699h0M895 700h0M1463 699h0M1523 701h0M1534 699h0M1542 698h0M1563 702h0M1653 702h0M209 704h0M212 704h0M256 706h0M262 706h0M279 704h0M285 706h0M322 705h0M330 706h0M1501 706h0M1504 704h0M1517 704h0M1555 704h0M1568 704h0M1625 703h0M207 706h0M211 710h0M213 709h0M217 708h0M235 708h0M266 708h0M274 710h0M274 708h0M286 710h0M290 708h0M293 708h0M309 708h0M314 706h0M334 708h0M350 707h0M353 710h0M360 708h0M801 709h0M898 708h0M1360 708h0M1516 708h0M1523 710h0M1553 708h0M1599 709h0M1636 710h0M1654 706h0M1658 710h0M200 712h0M240 713h0M261 712h0M268 712h0M276 713h0M301 711h0M318 713h0M1476 711h0M1484 712h0M1485 714h0M1551 713h0M1648 712h0M224 714h0M242 714h0M270 716h0M274 716h0M279 718h0M292 716h0M316 714h0M896 716h0M1383 717h0M1466 717h0M1505 716h0M1521 715h0M1524 715h0M1535 715h0M1602 716h0M1631 714h0M1634 716h0M215 720h0M347 719h0M366 718h0M1536 722h0M1624 720h0M1653 719h0M251 723h0M259 723h0M291 723h0M293 723h0M298 723h0M303 723h0M318 723h0M320 723h0M320 724h0M338 723h0M344 723h0M347 723h0M898 725h0M1382 726h0M1515 723h0M1517 723h0M1518 723h0M1524 723h0M1528 723h0M1533 723h0M1540 723h0M1549 723h0M1553 723h0M1613 723h0M1635 724h0M1643 725h0M1649 723h0M1651 723h0M210 730h0M218 730h0M237 729h0M309 730h0M363 728h0M802 727h0M1365 727h0M1467 727h0M1476 728h0M1518 730h0M1639 729h0M211 733h0M211 730h0M228 733h0M259 733h0M267 731h0M281 733h0M294 733h0M306 731h0M1379 733h0M1468 734h0M1539 733h0M1542 731h0M1621 731h0M236 737h0M247 736h0M313 736h0M322 736h0M340 737h0M367 737h0M802 737h0M895 735h0M1358 736h0M1480 736h0M1490 734h0M1518 736h0M1538 737h0M1550 737h0M1562 736h0M1613 736h0M1626 734h0M1630 736h0M1633 736h0M1634 738h0M204 739h0M343 740h0M1382 741h0M1481 742h0M1492 739h0M1502 741h0M1519 741h0M1530 742h0M1533 739h0M1556 739h0M1562 740h0M1563 741h0M1620 740h0M1622 742h0M1636 742h0M199 744h0M233 742h0M248 745h0M266 742h0M280 744h0M296 746h0M321 746h0M364 744h0M769 746h0M803 746h0M900 743h0M1525 744h0M1527 745h0M1544 744h0M1546 744h0M1551 744h0M1562 744h0M1643 744h0M1658 744h0M198 748h0M205 748h0M214 748h0M236 748h0M237 748h0M268 747h0M284 747h0M294 748h0M316 747h0M328 749h0M341 748h0M353 748h0M364 749h0M372 746h0M393 748h0M408 747h0M418 748h0M479 749h0M489 748h0M516 748h0M524 749h0M552 746h0M560 747h0M580 747h0M588 747h0M615 749h0M625 748h0M641 748h0M660 748h0M689 750h0M699 749h0M705 747h0M741 748h0M777 750h0M797 750h0M1187 750h0M1195 750h0M1275 750h0M1417 746h0M1432 747h0M1462 748h0M1503 747h0M1530 749h0M1614 749h0M1619 746h0M1628 747h0M1654 749h0M214 751h0M220 753h0M262 750h0M282 750h0M383 753h0M399 750h0M427 753h0M436 752h0M446 750h0M455 751h0M473 754h0M499 753h0M508 753h0M535 751h0M546 752h0M596 753h0M607 754h0M636 752h0M654 754h0M678 751h0M714 752h0M724 750h0M733 753h0M750 753h0M787 752h0M895 751h0M896 750h0M925 752h0M952 752h0M969 751h0M1007 751h0M1023 752h0M1043 752h0M1050 753h0M1087 750h0M1095 750h0M1104 753h0M1114 752h0M1140 751h0M1158 752h0M1176 752h0M1211 751h0M1248 752h0M1265 752h0M1294 751h0M1304 752h0M1356 752h0M1386 754h0M1398 753h0M1444 752h0M1451 752h0M1483 750h0M1483 750h0M1492 751h0M1499 754h0M1506 750h0M1520 750h0M1538 750h0M1539 750h0M1545 752h0M1547 753h0M1553 750h0M1561 750h0M1670 753h0M246 755h0M252 755h0M284 757h0M907 755h0M917 756h0M934 758h0M944 755h0M961 755h0M980 757h0M1013 757h0M1031 756h0M1059 757h0M1068 757h0M1078 757h0M1121 757h0M1168 755h0M1222 756h0M1229 757h0M1240 755h0M1259 755h0M1285 757h0M1311 757h0M1321 757h0M1340 757h0M1346 757h0M1364 754h0M1476 755h0M1487 756h0M1526 757h0M1624 755h0M1663 756h0M1666 756h0M227 762h0M255 759h0M322 759h0M367 762h0M386 762h0M403 762h0M422 760h0M430 760h0M439 761h0M445 760h0M456 761h0M478 762h0M538 762h0M546 762h0M552 762h0M569 762h0M571 761h0M574 762h0M582 762h0M585 762h0M600 762h0M615 759h0M641 762h0M644 760h0M651 762h0M659 762h0M665 761h0M702 761h0M724 758h0M726 761h0M728 762h0M737 762h0M740 762h0M773 760h0M779 762h0M786 762h0M787 760h0M790 758h0M794 760h0M803 759h0M806 762h0M1408 762h0M1486 758h0M1493 762h0M1522 759h0M1523 762h0M1525 762h0M1527 759h0M1529 762h0M1543 761h0M1624 762h0M1632 759h0M1637 759h0M1638 762h0M1657 758h0M1663 759h0M1665 759h0M361 763h0M448 763h0M473 763h0M475 765h0M541 765h0M551 763h0M554 764h0M615 764h0M629 765h0M645 762h0M665 765h0M680 765h0M691 763h0M730 764h0M739 764h0M781 765h0M794 764h0M939 763h0M983 765h0M989 763h0M1014 765h0M1021 764h0M1032 764h0M1046 763h0M1063 765h0M1070 763h0M1074 764h0M1074 763h0M1116 763h0M1124 763h0M1130 766h0M1150 766h0M1151 765h0M1152 763h0M1255 763h0M1374 765h0M1375 765h0M1425 762h0M1516 764h0M1628 763h0M1670 765h0M425 768h0M430 768h0M445 769h0M496 768h0M510 767h0M538 768h0M560 766h0M566 768h0M579 768h0M594 766h0M627 766h0M666 766h0M702 768h0M706 768h0M706 768h0M722 768h0M747 770h0M892 766h0M909 768h0M926 770h0M946 770h0M982 768h0M1022 769h0M1027 770h0M1093 769h0M1096 766h0M1106 766h0M1117 770h0M1141 770h0M1146 768h0M1232 768h0M1233 769h0M1275 768h0M1306 769h0M1310 768h0M1344 769h0M1349 768h0M1394 768h0M1420 768h0M1431 767h0M1457 767h0M1488 770h0M1494 767h0M1513 767h0M1528 767h0M1528 768h0M1538 770h0M1613 770h0M1622 770h0M1648 766h0M1652 769h0M1652 767h0M1659 769h0M1667 768h0M1670 768h0M1671 770h0M386 773h0M404 772h0M482 770h0M489 770h0M492 770h0M507 772h0M514 774h0M536 771h0M538 772h0M563 771h0M575 772h0M621 772h0M663 772h0M663 772h0M691 772h0M719 772h0M801 772h0M952 770h0M966 772h0M982 772h0M1011 772h0M1053 772h0M1072 772h0M1074 772h0M1153 772h0M1174 772h0M1188 772h0M1196 772h0M1199 773h0M1209 770h0M1220 772h0M1231 770h0M1255 771h0M1287 772h0M1401 772h0M1405 772h0M1468 772h0M1470 773h0M1482 772h0M1506 772h0M1534 771h0M1540 772h0M1541 772h0M1543 772h0M1548 772h0M1557 772h0M1614 772h0M1618 772h0M1644 772h0M1651 772h0M1654 772h0M207 777h0M315 777h0M339 776h0M365 775h0M394 775h0M431 775h0M433 777h0M449 777h0M510 777h0M532 776h0M552 777h0M556 777h0M557 776h0M582 777h0M582 777h0M584 777h0M594 775h0M613 777h0M619 776h0M622 776h0M626 775h0M627 777h0M632 775h0M643 777h0M644 777h0M644 774h0M649 778h0M659 775h0M665 777h0M678 777h0M688 777h0M715 775h0M784 776h0M788 775h0M789 774h0M794 777h0M798 775h0M802 774h0M805 777h0M894 776h0M897 776h0M898 777h0M911 775h0M918 774h0M951 777h0M985 777h0M996 777h0M997 777h0M1004 777h0M1082 777h0M1108 776h0M1144 776h0M1177 774h0M1219 774h0M1293 777h0M1300 777h0M1340 775h0M1390 775h0M1440 776h0M1457 776h0M1509 777h0M1550 775h0M1629 776h0M1647 777h0M1653 777h0M1668 777h0M256 780h0M479 780h0M482 782h0M483 782h0M500 779h0M526 780h0M541 780h0M576 779h0M584 781h0M584 778h0M598 780h0M599 780h0M607 780h0M634 779h0M650 778h0M684 781h0M700 780h0M706 778h0M713 780h0M717 780h0M721 782h0M724 780h0M729 782h0M787 781h0M791 779h0M808 780h0M901 781h0M950 779h0M954 779h0M961 780h0M970 782h0M989 779h0M1005 778h0M1041 779h0M1041 782h0M1049 782h0M1057 781h0M1077 782h0M1080 780h0M1114 780h0M1141 782h0M1150 779h0M1328 780h0M1334 778h0M1375 781h0M1558 778h0M1594 780h0M1615 781h0M1618 780h0M1629 779h0M1631 780h0M1633 780h0M1642 779h0M1652 781h0M1654 780h0M246 786h0M446 786h0M450 785h0M493 786h0M497 784h0M620 786h0M620 783h0M621 785h0M628 785h0M633 782h0M635 785h0M651 786h0M685 786h0M692 785h0M705 785h0M709 786h0M716 783h0M762 785h0M890 785h0M938 785h0M946 785h0M985 784h0M999 784h0M1004 783h0M1018 783h0M1031 785h0M1031 783h0M1044 783h0M1106 784h0M1164 786h0M1182 783h0M1196 786h0M1240 785h0M1262 783h0M1322 784h0M1329 786h0M1351 783h0M1361 784h0M1465 784h0M1522 783h0M1530 785h0M1617 786h0M1635 784h0M1670 784h0M448 790h0M545 788h0M578 789h0M607 788h0M636 789h0M655 789h0M746 786h0M971 789h0M992 789h0M1064 788h0M1149 787h0M1198 788h0M1266 786h0M1289 788h0M1459 788h0M1481 789h0M1501 786h0M1530 787h0M1536 786h0M1561 790h0M1670 788h0M1670 790h0M210 790h0M292 790h0M310 791h0M354 790h0M426 790h0M428 790h0M443 790h0M469 790h0M476 792h0M476 790h0M479 792h0M486 790h0M488 793h0M489 792h0M506 790h0M510 790h0M516 793h0M535 790h0M536 790h0M542 790h0M549 790h0M557 790h0M570 790h0M572 790h0M589 790h0M590 790h0M603 794h0M605 791h0M616 790h0M618 793h0M622 790h0M630 790h0M641 790h0M646 790h0M651 790h0M664 791h0M679 790h0M680 790h0M682 791h0M692 791h0M705 790h0M742 790h0M749 790h0M752 790h0M752 790h0M763 790h0M764 790h0M772 790h0M789 790h0M793 790h0M795 790h0M807 790h0M896 790h0M899 790h0M905 794h0M926 790h0M934 790h0M934 790h0M936 793h0M984 790h0M1003 790h0M1004 791h0M1034 790h0M1049 790h0M1051 790h0M1053 790h0M1059 790h0M1067 790h0M1074 794h0M1097 790h0M1100 790h0M1103 790h0M1115 790h0M1115 793h0M1122 791h0M1132 790h0M1137 790h0M1147 793h0M1163 790h0M1178 792h0M1181 792h0M1216 790h0M1237 790h0M1308 790h0M1311 790h0M1341 792h0M1347 790h0M1364 790h0M1388 790h0M1392 793h0M1401 790h0M1430 790h0M1461 790h0M1495 790h0M1517 790h0M1519 790h0M1526 792h0M1527 792h0M1535 790h0M1536 790h0M1635 790h0M1639 790h0M1640 792h0M1652 790h0M1658 790h0M1669 790h0M1669 790h0M434 796h0M483 797h0M486 795h0M536 797h0M554 796h0M572 797h0M572 795h0M580 796h0M587 798h0M608 797h0M618 795h0M638 795h0M690 797h0M696 796h0M712 795h0M745 796h0M762 798h0M775 796h0M790 795h0M791 797h0M794 796h0M803 795h0M927 795h0M933 796h0M944 796h0M957 798h0M1000 797h0M1017 794h0M1059 795h0M1062 797h0M1072 797h0M1081 796h0M1126 797h0M1135 795h0M1174 796h0M1233 797h0M1301 797h0M1323 797h0M1326 796h0M1326 796h0M1446 797h0M1602 797h0M1643 794h0M1651 795h0M1656 797h0M1658 795h0M1659 794h0M199 798h0M200 799h0M435 801h0M442 799h0M459 801h0M459 799h0M467 801h0M487 799h0M502 800h0M511 801h0M580 799h0M582 799h0M587 799h0M589 799h0M637 800h0M650 800h0M650 799h0M686 802h0M737 800h0M765 801h0M768 799h0M769 801h0M775 799h0M794 800h0M803 800h0M803 800h0M912 799h0M954 800h0M956 800h0M959 798h0M989 799h0M1039 800h0M1048 801h0M1059 799h0M1080 798h0M1101 798h0M1230 802h0M1336 801h0M1369 800h0M1399 800h0M1441 800h0M1513 800h0M1629 800h0M1630 800h0M1631 800h0M1654 800h0M374 802h0M443 804h0M454 805h0M473 805h0M523 802h0M573 804h0M575 804h0M579 802h0M589 805h0M604 804h0M616 806h0M617 804h0M636 805h0M665 803h0M676 802h0M688 804h0M694 804h0M696 802h0M724 802h0M753 802h0M767 805h0M782 802h0M804 802h0M894 804h0M896 802h0M947 805h0M952 805h0M972 802h0M984 802h0M1020 802h0M1077 802h0M1090 803h0M1090 804h0M1091 805h0M1122 802h0M1177 802h0M1180 802h0M1211 804h0M1233 803h0M1256 802h0M1322 802h0M1327 803h0M1491 802h0M1496 804h0M1496 802h0M1531 803h0M1545 804h0M1644 802h0M1658 804h0M274 810h0M289 806h0M403 810h0M416 809h0M419 806h0M421 806h0M423 809h0M427 806h0M445 809h0M453 809h0M458 809h0M475 810h0M482 808h0M531 806h0M531 809h0M534 807h0M552 806h0M561 806h0M575 809h0M592 809h0M593 806h0M598 806h0M633 806h0M645 809h0M662 806h0M666 806h0M674 808h0M683 810h0M700 809h0M704 806h0M751 810h0M759 806h0M768 806h0M780 810h0M798 810h0M804 808h0M808 807h0M892 808h0M892 806h0M894 809h0M911 810h0M913 809h0M924 809h0M925 806h0M1008 806h0M1034 809h0M1047 806h0M1067 806h0M1079 808h0M1091 809h0M1092 809h0M1093 806h0M1095 808h0M1101 806h0M1110 808h0M1116 807h0M1119 806h0M1123 806h0M1137 808h0M1137 806h0M1159 808h0M1162 806h0M1166 806h0M1167 806h0M1179 806h0M1185 806h0M1189 806h0M1192 809h0M1194 806h0M1226 809h0M1239 808h0M1263 810h0M1285 809h0M1354 810h0M1358 806h0M1427 809h0M1429 807h0M1441 810h0M1484 810h0M1528 809h0M1534 806h0M1551 808h0M1585 810h0M1662 806h0M422 812h0M434 813h0M442 814h0M471 813h0M484 811h0M544 810h0M571 813h0M594 811h0M597 813h0M611 813h0M632 812h0M637 813h0M644 812h0M650 813h0M655 813h0M689 811h0M690 812h0M706 813h0M729 813h0M751 811h0M760 813h0M774 812h0M785 813h0M903 814h0M913 813h0M960 813h0M964 813h0M965 813h0M976 811h0M989 811h0M997 811h0M1008 812h0M1022 814h0M1025 812h0M1035 812h0M1038 811h0M1047 813h0M1053 811h0M1073 812h0M1086 812h0M1092 813h0M1093 811h0M1118 811h0M1122 813h0M1156 811h0M1159 812h0M1173 813h0M1174 811h0M1225 813h0M1244 813h0M1366 813h0M1562 811h0M1642 811h0M330 817h0M433 815h0M434 815h0M454 816h0M465 815h0M472 815h0M511 815h0M549 816h0M552 816h0M567 816h0M582 815h0M615 818h0M642 814h0M652 815h0M695 815h0M699 816h0M704 818h0M726 818h0M744 817h0M751 817h0M755 815h0M769 817h0M803 815h0M891 815h0M892 815h0M901 815h0M925 816h0M929 814h0M936 817h0M939 815h0M946 817h0M947 816h0M950 816h0M960 818h0M968 817h0M970 816h0M991 815h0M993 818h0M1048 817h0M1051 817h0M1053 816h0M1056 817h0M1068 816h0M1079 817h0M1190 815h0M1195 815h0M1195 815h0M1231 818h0M1326 816h0M1339 815h0M1383 814h0M1402 816h0M1424 818h0M1484 815h0M1506 818h0M1548 815h0M1619 816h0M1621 818h0M1651 815h0M1661 818h0M1663 818h0M293 819h0M391 819h0M437 821h0M445 819h0M476 819h0M518 819h0M528 818h0M546 820h0M563 819h0M575 818h0M579 819h0M585 821h0M594 819h0M613 819h0M614 820h0M635 818h0M662 819h0M705 822h0M754 819h0M800 819h0M890 819h0M909 821h0M922 820h0M928 822h0M929 820h0M932 819h0M933 819h0M934 818h0M938 822h0M948 821h0M949 821h0M957 819h0M961 819h0M974 821h0M979 822h0M982 819h0M991 819h0M1005 819h0M1055 821h0M1071 819h0M1081 820h0M1082 821h0M1107 819h0M1130 819h0M1152 821h0M1193 819h0M1204 819h0M1243 821h0M1264 822h0M1410 819h0M1431 820h0M1431 818h0M1478 821h0M1488 821h0M1490 819h0M1502 822h0M1505 821h0M1511 821h0M1523 818h0M1529 819h0M1614 819h0M1614 819h0M1646 819h0M206 822h0M216 822h0M310 825h0M378 822h0M422 826h0M430 825h0M430 822h0M438 822h0M497 824h0M519 822h0M537 822h0M553 824h0M577 826h0M586 824h0M605 825h0M669 824h0M674 825h0M686 822h0M697 822h0M720 825h0M739 825h0M753 822h0M781 822h0M807 824h0M808 825h0M906 825h0M912 825h0M918 822h0M922 822h0M922 823h0M926 826h0M930 822h0M936 825h0M939 824h0M939 824h0M941 822h0M942 824h0M949 822h0M952 822h0M961 824h0M980 823h0M991 824h0M1047 825h0M1096 825h0M1128 823h0M1133 823h0M1171 823h0M1174 822h0M1189 824h0M1192 825h0M1194 822h0M1195 823h0M1198 822h0M1230 822h0M1252 823h0M1271 823h0M1403 824h0M1406 825h0M1485 825h0M1545 825h0M1548 825h0M1621 823h0M201 827h0M283 828h0M369 827h0M453 827h0M459 829h0M461 826h0M480 827h0M489 827h0M561 827h0M601 827h0M627 827h0M647 828h0M669 827h0M711 826h0M715 826h0M720 828h0M738 826h0M900 827h0M911 827h0M923 827h0M929 827h0M940 829h0M948 829h0M1000 828h0M1005 826h0M1012 830h0M1040 826h0M1045 827h0M1052 828h0M1069 826h0M1090 828h0M1123 826h0M1134 827h0M1203 827h0M1221 829h0M1351 827h0M1434 827h0M1458 826h0M1487 826h0M1524 826h0M1541 828h0M1542 826h0M1559 830h0M1559 828h0M1613 830h0M1631 826h0M1652 827h0M206 831h0M220 831h0M220 831h0M327 831h0M477 832h0M506 831h0M512 831h0M528 831h0M552 831h0M554 831h0M563 831h0M565 831h0M568 833h0M588 832h0M598 831h0M606 834h0M616 831h0M620 831h0M634 831h0M636 831h0M636 832h0M661 831h0M666 831h0M680 831h0M684 833h0M690 831h0M705 831h0M722 831h0M727 831h0M731 831h0M736 831h0M742 831h0M744 830h0M757 831h0M760 831h0M774 831h0M782 831h0M782 831h0M787 831h0M792 831h0M794 831h0M795 831h0M795 833h0M796 831h0M804 832h0M897 831h0M899 831h0M911 831h0M917 831h0M918 831h0M919 831h0M925 831h0M927 832h0M927 831h0M932 831h0M934 830h0M936 831h0M941 833h0M948 831h0M954 831h0M956 830h0M958 831h0M964 831h0M973 831h0M980 831h0M996 831h0M998 831h0M1000 831h0M1002 831h0M1002 831h0M1006 832h0M1018 831h0M1023 831h0M1037 830h0M1040 831h0M1062 831h0M1070 831h0M1074 831h0M1089 833h0M1097 831h0M1107 831h0M1112 831h0M1120 831h0M1123 831h0M1123 831h0M1124 831h0M1129 831h0M1137 831h0M1138 831h0M1143 831h0M1144 831h0M1147 831h0M1155 831h0M1185 831h0M1186 831h0M1186 831h0M1211 831h0M1247 831h0M1307 834h0M1352 832h0M1516 831h0M1521 831h0M1539 831h0M1540 833h0M1546 831h0M1546 831h0M1615 831h0M1629 831h0M1635 830h0M1637 831h0M1664 831h0M234 837h0M315 838h0M318 835h0M552 834h0M561 835h0M574 835h0M599 837h0M684 834h0M740 837h0M766 836h0M767 835h0M767 837h0M779 834h0M786 835h0M805 836h0M917 836h0M919 837h0M921 836h0M927 834h0M936 835h0M937 836h0M963 836h0M968 835h0M973 835h0M981 837h0M1015 837h0M1015 836h0M1041 835h0M1101 835h0M1103 836h0M1116 835h0M1117 835h0M1121 837h0M1146 836h0M1159 836h0M1163 836h0M1173 837h0M1184 837h0M1184 835h0M1190 836h0M1199 836h0M1252 835h0M1261 837h0M1261 835h0M1264 835h0M1271 837h0M1273 836h0M1358 834h0M1441 834h0M1552 838h0M205 841h0M212 838h0M283 840h0M425 840h0M435 840h0M451 841h0M556 840h0M583 840h0M601 841h0M613 840h0M615 841h0M630 840h0M635 840h0M640 840h0M651 841h0M655 840h0M688 841h0M715 841h0M733 838h0M741 841h0M790 838h0M792 838h0M801 841h0M903 838h0M912 838h0M921 839h0M924 841h0M925 838h0M930 841h0M943 841h0M949 841h0M951 838h0M955 839h0M959 838h0M962 838h0M969 839h0M977 838h0M980 838h0M1017 839h0M1024 840h0M1026 838h0M1034 838h0M1044 841h0M1047 840h0M1058 840h0M1061 840h0M1062 840h0M1075 841h0M1089 838h0M1126 841h0M1134 838h0M1148 840h0M1152 840h0M1166 841h0M1173 840h0M1175 840h0M1179 838h0M1197 838h0M1198 838h0M1200 838h0M1212 839h0M1321 841h0M1635 840h0M296 845h0M383 845h0M451 845h0M486 842h0M501 845h0M544 843h0M567 843h0M574 845h0M583 844h0M587 844h0M587 844h0M622 842h0M624 845h0M632 844h0M658 845h0M663 845h0M669 845h0M669 844h0M670 845h0M680 842h0M697 845h0M700 845h0M703 845h0M713 843h0M728 845h0M735 844h0M744 845h0M759 845h0M773 845h0M781 843h0M790 843h0M790 842h0M803 842h0M899 845h0M899 843h0M905 844h0M905 843h0M908 844h0M921 842h0M930 844h0M940 845h0M941 845h0M948 845h0M964 845h0M967 845h0M968 843h0M974 843h0M977 845h0M983 842h0M986 845h0M986 845h0M994 842h0M999 845h0M999 843h0M1001 842h0M1014 845h0M1045 843h0M1053 844h0M1073 845h0M1073 844h0M1090 844h0M1115 845h0M1134 843h0M1138 845h0M1154 845h0M1157 845h0M1163 844h0M1185 843h0M1186 845h0M1199 843h0M1218 843h0M1248 845h0M1318 845h0M1353 845h0M1366 843h0M1400 843h0M1573 843h0M1597 845h0M1622 842h0M1648 845h0M227 850h0M269 849h0M300 850h0M378 850h0M440 850h0M446 847h0M480 848h0M556 850h0M608 847h0M613 850h0M623 846h0M669 850h0M687 850h0M745 850h0M763 850h0M772 850h0M792 848h0M797 848h0M892 850h0M909 849h0M918 848h0M922 850h0M929 850h0M936 848h0M941 850h0M994 850h0M1001 848h0M1022 849h0M1042 850h0M1046 850h0M1053 847h0M1053 850h0M1055 848h0M1145 850h0M1184 847h0M1186 847h0M1186 850h0M1216 847h0M1221 847h0M1239 850h0M1271 847h0M1324 849h0M1376 849h0M1398 850h0M1414 850h0M267 853h0M299 852h0M433 851h0M476 854h0M542 854h0M568 851h0M589 852h0M597 852h0M611 854h0M630 854h0M645 853h0M650 851h0M671 853h0M671 854h0M710 850h0M719 852h0M742 852h0M746 854h0M756 852h0M797 851h0M799 852h0M802 853h0M804 852h0M889 854h0M899 852h0M913 852h0M914 852h0M916 851h0M925 853h0M926 850h0M935 853h0M939 854h0M940 853h0M942 854h0M947 854h0M980 853h0M981 852h0M994 851h0M1003 852h0M1008 851h0M1032 854h0M1035 854h0M1105 854h0M1120 853h0M1153 851h0M1160 850h0M1175 852h0M1182 853h0M1274 852h0M1278 853h0M1379 852h0M1404 854h0M1447 852h0M1537 853h0M1601 851h0M1608 851h0M260 858h0M378 856h0M464 858h0M547 858h0M547 858h0M551 858h0M562 858h0M569 858h0M593 855h0M593 858h0M601 858h0M615 858h0M627 858h0M657 858h0M658 858h0M661 858h0M662 858h0M664 857h0M668 855h0M669 856h0M670 858h0M677 858h0M687 858h0M689 856h0M693 858h0M726 857h0M728 858h0M761 856h0M766 858h0M767 858h0M776 857h0M781 855h0M784 856h0M786 858h0M789 858h0M890 854h0M893 855h0M896 856h0M900 856h0M903 858h0M906 858h0M907 858h0M910 858h0M911 854h0M914 856h0M917 858h0M919 858h0M922 858h0M933 858h0M938 858h0M939 858h0M972 858h0M981 855h0M983 858h0M984 854h0M986 857h0M988 858h0M989 858h0M990 854h0M995 858h0M998 858h0M1004 857h0M1027 858h0M1034 854h0M1035 858h0M1040 856h0M1050 858h0M1051 858h0M1058 858h0M1086 858h0M1097 858h0M1099 858h0M1103 856h0M1161 857h0M1162 857h0M1180 858h0M1195 858h0M1218 858h0M1240 858h0M1273 856h0M1274 857h0M1358 858h0M336 860h0M398 862h0M465 860h0M471 861h0M546 859h0M571 861h0M592 861h0M599 860h0M608 859h0M654 859h0M656 861h0M680 861h0M703 859h0M709 861h0M722 859h0M736 859h0M762 861h0M794 862h0M806 861h0M911 860h0M927 861h0M947 861h0M952 861h0M978 859h0M990 861h0M1000 861h0M1013 860h0M1031 862h0M1038 861h0M1079 861h0M1130 861h0M1180 859h0M1290 860h0M1359 860h0M1531 861h0M1572 861h0M1613 862h0M334 864h0M355 863h0M370 863h0M438 865h0M443 864h0M550 863h0M557 864h0M559 864h0M575 864h0M586 865h0M586 862h0M590 865h0M595 865h0M595 864h0M598 865h0M604 863h0M608 865h0M608 863h0M611 862h0M615 866h0M622 862h0M625 865h0M627 864h0M651 865h0M659 865h0M675 863h0M678 865h0M686 865h0M713 865h0M716 865h0M728 864h0M742 864h0M746 865h0M762 862h0M766 863h0M781 865h0M790 864h0M790 863h0M893 865h0M900 863h0M904 864h0M918 864h0M921 863h0M924 863h0M941 864h0M944 863h0M965 865h0M967 863h0M967 865h0M973 865h0M982 864h0M988 865h0M988 866h0M996 864h0M1005 863h0M1009 863h0M1015 864h0M1033 865h0M1041 865h0M1076 864h0M1110 864h0M1142 865h0M1163 866h0M1170 863h0M1170 864h0M1196 863h0M1207 864h0M1223 866h0M1256 864h0M1285 862h0M1296 865h0M1340 864h0M1368 863h0M1454 862h0M1459 863h0M1466 863h0M1487 865h0M1507 865h0M1615 865h0M1632 863h0M212 867h0M226 870h0M239 867h0M249 868h0M252 866h0M490 867h0M526 868h0M532 869h0M579 870h0M623 870h0M633 866h0M634 868h0M644 870h0M665 869h0M678 870h0M680 866h0M685 866h0M688 866h0M690 869h0M713 866h0M721 869h0M735 868h0M748 866h0M751 868h0M766 868h0M775 868h0M781 868h0M807 868h0M895 868h0M900 868h0M902 868h0M909 867h0M914 868h0M938 868h0M942 868h0M944 867h0M959 869h0M959 868h0M978 868h0M979 868h0M1013 870h0M1029 866h0M1040 866h0M1071 867h0M1086 868h0M1093 866h0M1129 867h0M1147 868h0M1162 866h0M1173 867h0M1174 868h0M1235 870h0M1253 869h0M1298 869h0M1312 867h0M1332 868h0M1379 868h0M1383 866h0M1520 868h0M1530 866h0M1562 868h0M1659 868h0M256 873h0M293 873h0M387 871h0M509 871h0M515 871h0M530 871h0M556 871h0M558 870h0M591 871h0M612 871h0M626 873h0M660 871h0M670 871h0M710 872h0M718 870h0M740 871h0M899 873h0M918 873h0M918 871h0M931 870h0M967 871h0M971 871h0M1063 873h0M1074 872h0M1107 873h0M1145 870h0M1162 873h0M1163 872h0M1182 871h0M1287 874h0M1458 871h0M201 877h0M358 877h0M469 877h0M574 877h0M584 876h0M626 877h0M701 877h0M724 876h0M770 874h0M895 877h0M900 877h0M915 876h0M916 877h0M917 876h0M919 874h0M925 875h0M932 877h0M937 874h0M940 877h0M962 874h0M999 877h0M999 874h0M1015 876h0M1018 875h0M1059 877h0M1077 874h0M1078 875h0M1129 875h0M1142 878h0M1220 877h0M1276 877h0M1323 875h0M1389 876h0M1398 877h0M1406 876h0M1476 877h0M1513 877h0M526 882h0M565 881h0M574 881h0M576 880h0M589 882h0M639 880h0M650 879h0M654 880h0M656 880h0M662 881h0M791 880h0M940 878h0M941 879h0M966 881h0M989 878h0M1049 881h0M1052 881h0M1134 881h0M1157 881h0M1286 882h0M1510 882h0M247 883h0M326 882h0M352 883h0M368 883h0M370 882h0M433 885h0M468 884h0M480 885h0M511 884h0M547 885h0M582 885h0M609 883h0M619 885h0M731 883h0M739 882h0M761 883h0M776 885h0M797 883h0M806 882h0M950 882h0M955 884h0M960 884h0M1039 885h0M1047 884h0M1088 886h0M1174 886h0M1178 882h0M1182 884h0M1214 885h0M1328 885h0M1353 885h0M1413 882h0M1483 882h0M1604 883h0M1615 882h0M1663 883h0M233 888h0M364 887h0M441 886h0M480 889h0M531 887h0M564 887h0M568 888h0M607 888h0M741 886h0M742 890h0M765 888h0M805 889h0M900 889h0M929 887h0M1031 889h0M1033 888h0M1040 889h0M1046 887h0M1054 888h0M1061 887h0M1459 889h0M1473 887h0M248 891h0M314 891h0M428 894h0M460 891h0M475 893h0M487 891h0M524 893h0M527 891h0M560 891h0M566 891h0M604 893h0M662 891h0M667 891h0M943 891h0M956 894h0M1030 894h0M1040 891h0M1067 890h0M1121 893h0M1129 894h0M1141 891h0M1144 891h0M1153 891h0M1159 891h0M1175 891h0M1180 892h0M1185 893h0M1192 891h0M1212 891h0M1228 891h0M1316 894h0M1406 893h0M1491 891h0M1513 891h0M1607 892h0M1621 891h0M1666 891h0M212 897h0M391 897h0M423 895h0M443 896h0M449 897h0M465 897h0M564 895h0M569 894h0M584 896h0M599 895h0M602 896h0M636 897h0M642 895h0M646 894h0M653 894h0M671 895h0M674 896h0M683 897h0M707 897h0M734 897h0M760 897h0M765 898h0M901 897h0M982 897h0M1001 897h0M1040 894h0M1087 895h0M1135 898h0M1159 897h0M1238 895h0M1262 896h0M1291 898h0M1330 896h0M1345 896h0M1415 897h0M1491 896h0M1551 897h0M1575 897h0M1578 895h0M1636 897h0M220 899h0M232 900h0M412 901h0M563 899h0M627 901h0M640 901h0M645 900h0M670 900h0M671 901h0M680 900h0M703 899h0M708 899h0M767 901h0M808 901h0M936 900h0M959 900h0M963 898h0M984 898h0M993 898h0M1007 899h0M1297 898h0M1340 900h0M1430 899h0M228 902h0M357 906h0M442 906h0M450 906h0M526 904h0M531 905h0M563 905h0M592 905h0M646 906h0M674 902h0M691 903h0M713 905h0M719 903h0M744 906h0M761 902h0M770 904h0M805 903h0M1012 902h0M1035 905h0M1067 902h0M1079 904h0M1110 905h0M1114 905h0M1357 902h0M1404 904h0M1419 902h0M1581 902h0M1583 902h0M1599 905h0M1648 902h0M223 906h0M238 908h0M240 909h0M286 910h0M309 910h0M437 909h0M476 909h0M480 908h0M520 909h0M528 907h0M552 909h0M588 907h0M588 910h0M592 909h0M617 909h0M636 907h0M741 910h0M900 908h0M907 907h0M921 906h0M927 909h0M952 909h0M996 909h0M1003 907h0M1218 909h0M1236 909h0M1253 906h0M1256 909h0M1338 907h0M1351 910h0M1388 909h0M1533 907h0M357 910h0M395 911h0M437 911h0M447 911h0M453 914h0M459 914h0M475 911h0M490 911h0M539 911h0M565 913h0M574 912h0M699 911h0M701 912h0M707 911h0M719 911h0M725 911h0M729 911h0M734 912h0M922 914h0M925 913h0M952 911h0M965 911h0M985 912h0M1015 911h0M1054 912h0M1060 911h0M1180 911h0M1199 911h0M1243 911h0M1285 911h0M1293 913h0M1325 911h0M1363 914h0M1369 914h0M1596 914h0M1614 911h0M365 915h0M373 917h0M391 914h0M552 915h0M578 917h0M593 915h0M612 916h0M620 915h0M648 916h0M656 916h0M724 917h0M772 915h0M894 915h0M898 915h0M919 917h0M986 917h0M1002 917h0M1050 917h0M1058 915h0M1062 916h0M1064 916h0M1070 915h0M1082 916h0M1114 915h0M1170 917h0M1181 915h0M1189 916h0M1314 915h0M1375 917h0M1438 915h0M1473 915h0M1569 915h0M221 919h0M300 921h0M312 922h0M323 919h0M386 918h0M419 921h0M481 919h0M524 920h0M590 919h0M608 919h0M612 919h0M616 922h0M646 919h0M664 919h0M675 918h0M718 921h0M736 922h0M750 922h0M762 922h0M785 918h0M788 919h0M917 922h0M945 919h0M950 919h0M1024 919h0M1079 919h0M1084 921h0M1104 921h0M1111 921h0M1131 922h0M1141 919h0M1152 922h0M1156 919h0M1288 921h0M1299 919h0M1338 921h0M1397 921h0M1412 919h0M1497 919h0M1551 918h0M217 925h0M239 925h0M265 925h0M474 923h0M508 925h0M566 925h0M572 925h0M591 925h0M594 926h0M645 924h0M649 924h0M678 926h0M683 924h0M776 925h0M908 925h0M909 925h0M914 923h0M925 925h0M1007 926h0M1018 925h0M1052 925h0M1066 923h0M1086 925h0M1091 925h0M1136 925h0M1352 925h0M1369 925h0M1373 925h0M1477 925h0M1519 922h0M324 930h0M461 930h0M567 927h0M614 927h0M755 926h0M899 930h0M917 929h0M943 930h0M965 928h0M970 930h0M982 930h0M1028 927h0M1037 930h0M1075 930h0M1115 930h0M1125 930h0M1137 926h0M1217 930h0M1224 930h0M1394 928h0M1425 929h0M1444 930h0M1479 930h0M1546 930h0M1620 927h0M1654 930h0M202 934h0M210 932h0M229 932h0M313 932h0M322 931h0M607 933h0M644 932h0M648 933h0M919 930h0M966 931h0M986 933h0M1097 932h0M1239 932h0M1371 931h0M1399 932h0M1667 932h0M238 934h0M295 936h0M322 936h0M399 934h0M424 937h0M603 937h0M890 936h0M917 936h0M937 936h0M1014 934h0M1049 935h0M1067 934h0M1117 937h0M1130 934h0M1130 936h0M1153 934h0M1169 936h0M1196 934h0M1239 934h0M1271 934h0M1397 934h0M1517 935h0M1546 934h0M1587 936h0M248 942h0M250 938h0M294 940h0M361 942h0M395 940h0M465 938h0M475 939h0M510 938h0M558 941h0M585 942h0M650 942h0M662 942h0M751 942h0M796 942h0M894 941h0M917 938h0M929 939h0M929 939h0M959 942h0M972 941h0M998 942h0M1000 941h0M1076 940h0M1094 938h0M1113 941h0M1153 939h0M1157 938h0M1176 938h0M1295 941h0M1351 940h0M1372 938h0M1657 938h0M261 943h0M552 944h0M568 946h0M571 943h0M725 945h0M762 946h0M777 945h0M780 943h0M989 945h0M989 944h0M991 946h0M1072 943h0M1304 945h0M1426 942h0M1527 945h0M240 948h0M242 947h0M245 947h0M246 947h0M264 947h0M465 946h0M496 947h0M551 949h0M579 947h0M586 948h0M637 946h0M724 947h0M766 949h0M782 947h0M914 950h0M950 947h0M982 947h0M1045 950h0M1114 950h0M1157 947h0M1229 950h0M1259 947h0M1313 947h0M1546 950h0M1602 947h0M1630 947h0M212 953h0M324 954h0M492 953h0M522 954h0M557 951h0M593 954h0M650 954h0M651 950h0M682 954h0M715 951h0M764 954h0M768 951h0M777 951h0M905 954h0M922 953h0M928 952h0M945 954h0M977 953h0M1032 953h0M1033 952h0M1067 953h0M1073 950h0M1089 952h0M1114 953h0M1193 951h0M1267 954h0M1503 951h0M1529 951h0M1556 953h0M1618 954h0M359 955h0M438 955h0M465 955h0M915 957h0M987 955h0M1090 956h0M1188 957h0M1205 954h0M1553 957h0M199 960h0M202 960h0M313 961h0M324 958h0M450 959h0M573 958h0M747 958h0M785 959h0M891 960h0M911 959h0M926 961h0M969 961h0M991 960h0M1019 959h0M1024 960h0M1037 961h0M1040 959h0M1057 959h0M1057 958h0M1060 960h0M1107 958h0M1128 960h0M1130 958h0M1131 959h0M1155 960h0M1162 958h0M1285 960h0M1358 959h0M1397 961h0M1475 958h0M1553 960h0M1555 958h0M1564 962h0M241 962h0M281 963h0M337 965h0M423 964h0M493 965h0M649 963h0M733 965h0M772 962h0M947 964h0M976 965h0M989 962h0M1102 962h0M1104 965h0M1137 964h0M1145 965h0M1174 963h0M1187 965h0M1265 963h0M1267 965h0M1302 962h0M1341 964h0M1401 963h0M1566 963h0M1578 963h0M1609 964h0M1631 966h0M205 968h0M209 968h0M227 967h0M481 967h0M499 967h0M598 967h0M602 967h0M661 967h0M684 966h0M955 966h0M1028 967h0M1161 968h0M1276 966h0M1323 968h0M1365 968h0M1367 967h0M1425 968h0" stroke="#348e3e" stroke-width="17.0" stroke-linecap="round" fill="none"/>
<g fill="#fff"><circle cx="400" cy="570" r="1.9"/><circle cx="587" cy="708" r="1.7"/><circle cx="594" cy="482" r="1.4"/><circle cx="581" cy="517" r="2.9"/><circle cx="449" cy="713" r="2.9"/><circle cx="799" cy="610" r="1.3"/><circle cx="777" cy="638" r="2.8"/><circle cx="639" cy="511" r="1.5"/><circle cx="713" cy="686" r="2.0"/><circle cx="741" cy="510" r="1.6"/><circle cx="458" cy="634" r="2.2"/><circle cx="533" cy="714" r="1.7"/><circle cx="686" cy="490" r="1.3"/><circle cx="613" cy="530" r="1.3"/><circle cx="737" cy="716" r="2.3"/><circle cx="607" cy="568" r="1.8"/><circle cx="549" cy="581" r="2.0"/><circle cx="656" cy="621" r="2.0"/><circle cx="371" cy="571" r="2.1"/><circle cx="466" cy="529" r="2.6"/><circle cx="566" cy="698" r="2.1"/><circle cx="408" cy="713" r="2.0"/><circle cx="401" cy="622" r="2.1"/><circle cx="378" cy="566" r="1.4"/><circle cx="690" cy="525" r="2.1"/><circle cx="384" cy="604" r="1.9"/><circle cx="788" cy="711" r="2.7"/><circle cx="808" cy="538" r="2.7"/><circle cx="447" cy="465" r="2.1"/><circle cx="790" cy="484" r="1.5"/><circle cx="715" cy="480" r="1.4"/><circle cx="518" cy="531" r="1.5"/><circle cx="763" cy="670" r="2.7"/><circle cx="425" cy="604" r="2.9"/><circle cx="454" cy="674" r="2.1"/><circle cx="504" cy="740" r="1.6"/><circle cx="433" cy="478" r="2.4"/><circle cx="763" cy="701" r="2.6"/><circle cx="412" cy="596" r="2.4"/><circle cx="522" cy="497" r="2.2"/><circle cx="1168" cy="501" r="1.4"/><circle cx="1363" cy="573" r="1.9"/><circle cx="1271" cy="676" r="3.0"/><circle cx="1167" cy="649" r="2.6"/><circle cx="1103" cy="700" r="2.6"/><circle cx="916" cy="519" r="1.7"/><circle cx="1196" cy="473" r="2.3"/><circle cx="1207" cy="662" r="1.3"/><circle cx="909" cy="708" r="2.3"/><circle cx="1098" cy="606" r="2.8"/><circle cx="956" cy="686" r="2.4"/><circle cx="904" cy="749" r="1.9"/><circle cx="944" cy="649" r="1.6"/><circle cx="1170" cy="584" r="1.6"/><circle cx="1189" cy="616" r="1.5"/><circle cx="1337" cy="681" r="1.5"/><circle cx="939" cy="570" r="2.8"/><circle cx="1263" cy="637" r="1.7"/><circle cx="899" cy="568" r="2.2"/><circle cx="1059" cy="568" r="2.0"/><circle cx="1337" cy="543" r="1.7"/><circle cx="1321" cy="738" r="2.2"/><circle cx="1085" cy="683" r="1.4"/><circle cx="1262" cy="747" r="2.2"/><circle cx="1339" cy="710" r="1.6"/><circle cx="1181" cy="607" r="2.4"/><circle cx="1278" cy="701" r="1.8"/><circle cx="1035" cy="737" r="2.8"/><circle cx="1264" cy="548" r="1.3"/><circle cx="1293" cy="540" r="2.1"/><circle cx="1244" cy="623" r="1.6"/><circle cx="943" cy="685" r="1.3"/><circle cx="1052" cy="539" r="2.5"/><circle cx="1293" cy="549" r="1.7"/><circle cx="1155" cy="627" r="2.6"/><circle cx="1141" cy="675" r="2.4"/><circle cx="1350" cy="689" r="2.8"/><circle cx="901" cy="677" r="1.7"/><circle cx="1245" cy="484" r="2.6"/><circle cx="1048" cy="502" r="1.8"/></g>
<rect x="368" y="1649" width="434" height="343" fill="#f7a900"/>
<rect x="897" y="1641" width="504" height="347" fill="#f7a900"/>
<path d="M330 1225h0M342 1225h0M362 1225h0M438 1225h0M484 1225h0M661 1226h0M678 1226h0M706 1225h0M742 1225h0M780 1226h0M1019 1225h0M1080 1225h0M1095 1225h0M1152 1225h0M1214 1225h0M1233 1224h0M1251 1225h0M1303 1225h0M1482 1225h0M1047 1265h0M1322 1268h0M267 1271h0M721 1276h0M394 1281h0M1039 1278h0M1573 1282h0M672 1290h0M675 1287h0M1137 1286h0M1069 1293h0M433 1295h0M456 1296h0M467 1294h0M1141 1298h0M274 1301h0M1340 1301h0M1350 1304h0M1445 1305h0M1589 1305h0M1280 1309h0M1559 1309h0M204 1314h0M789 1314h0M975 1314h0M341 1316h0M1076 1317h0M1040 1319h0M535 1325h0M760 1325h0M931 1325h0M1257 1325h0M1233 1327h0M654 1333h0M1314 1330h0M470 1335h0M289 1339h0M519 1339h0M523 1339h0M622 1339h0M292 1349h0M1125 1352h0M1429 1353h0M1615 1351h0M734 1358h0M807 1361h0M1262 1358h0M1088 1364h0M554 1368h0M1080 1367h0M1651 1368h0M247 1370h0M513 1370h0M1117 1372h0M1339 1373h0M318 1377h0M252 1382h0M1335 1381h0M1541 1381h0M439 1385h0M705 1384h0M444 1388h0M993 1388h0M471 1392h0M1313 1396h0M756 1405h0M971 1405h0M1432 1402h0M696 1409h0M469 1411h0M707 1425h0M1213 1425h0M1298 1425h0M1383 1425h0M298 1429h0M450 1433h0M300 1436h0M1020 1438h0M1290 1440h0M1249 1443h0M1329 1443h0M736 1449h0M791 1450h0M421 1453h0M428 1454h0M430 1453h0M436 1453h0M454 1453h0M518 1451h0M568 1453h0M1314 1453h0M448 1457h0M456 1454h0M718 1456h0M773 1456h0M358 1462h0M1251 1459h0M1266 1459h0M1293 1458h0M1634 1461h0M219 1462h0M585 1465h0M1131 1465h0M1292 1465h0M1451 1465h0M1579 1465h0M317 1471h0M407 1471h0M571 1471h0M603 1471h0M622 1471h0M1212 1472h0M1406 1473h0M1498 1471h0M1631 1471h0M413 1477h0M796 1475h0M473 1481h0M707 1478h0M783 1481h0M918 1479h0M1362 1479h0M1493 1481h0M410 1484h0M806 1485h0M1281 1485h0M499 1487h0M663 1490h0M1187 1486h0M1274 1487h0M1316 1487h0M410 1491h0M695 1491h0M777 1491h0M1163 1491h0M1578 1491h0M439 1496h0M513 1496h0M463 1500h0M1358 1501h0M353 1503h0M1108 1506h0M1228 1506h0M1285 1506h0M687 1509h0M893 1507h0M1047 1509h0M1077 1508h0M1089 1507h0M1149 1507h0M1176 1507h0M1206 1509h0M404 1510h0M415 1510h0M501 1513h0M573 1510h0M672 1513h0M681 1514h0M736 1513h0M755 1512h0M1045 1514h0M1054 1512h0M1060 1511h0M1085 1510h0M1092 1510h0M1171 1512h0M1206 1512h0M1210 1510h0M1221 1510h0M1423 1510h0M1653 1514h0M442 1514h0M452 1516h0M483 1516h0M491 1514h0M512 1514h0M557 1516h0M713 1517h0M792 1515h0M954 1518h0M997 1516h0M1028 1516h0M1223 1516h0M509 1520h0M547 1519h0M570 1521h0M579 1519h0M697 1521h0M783 1521h0M1021 1521h0M1075 1519h0M1078 1522h0M1086 1521h0M1087 1522h0M1093 1518h0M1180 1520h0M402 1525h0M408 1525h0M441 1524h0M492 1523h0M582 1525h0M599 1522h0M646 1525h0M697 1522h0M802 1525h0M1006 1525h0M1026 1525h0M1082 1525h0M1089 1522h0M1118 1525h0M1138 1523h0M1220 1525h0M220 1529h0M269 1528h0M387 1529h0M474 1529h0M500 1530h0M568 1527h0M653 1528h0M713 1527h0M769 1530h0M942 1529h0M972 1528h0M1037 1529h0M1038 1527h0M1038 1529h0M1053 1527h0M1117 1528h0M1144 1529h0M1204 1528h0M1250 1528h0M1304 1530h0M1311 1530h0M1431 1528h0M247 1532h0M294 1532h0M321 1533h0M340 1533h0M351 1531h0M439 1532h0M482 1530h0M632 1532h0M698 1532h0M717 1532h0M739 1532h0M789 1531h0M924 1533h0M935 1532h0M952 1532h0M1148 1533h0M1236 1532h0M1243 1533h0M1249 1532h0M1396 1531h0M203 1536h0M221 1536h0M233 1534h0M238 1537h0M263 1534h0M378 1538h0M442 1536h0M448 1534h0M452 1534h0M537 1534h0M570 1534h0M791 1536h0M1081 1538h0M1288 1538h0M1326 1534h0M1331 1537h0M230 1541h0M289 1540h0M359 1538h0M365 1541h0M395 1541h0M406 1541h0M453 1540h0M671 1539h0M761 1539h0M889 1538h0M1003 1541h0M1144 1541h0M1184 1542h0M1526 1542h0M209 1543h0M233 1545h0M264 1545h0M291 1543h0M293 1545h0M307 1543h0M490 1545h0M498 1545h0M561 1544h0M575 1545h0M587 1542h0M608 1545h0M744 1545h0M772 1545h0M808 1545h0M932 1545h0M932 1545h0M962 1546h0M972 1546h0M1041 1545h0M1131 1545h0M1170 1545h0M1230 1545h0M265 1548h0M772 1548h0M776 1548h0M1040 1547h0M1061 1549h0M1174 1549h0M1230 1547h0M1304 1547h0M215 1554h0M262 1553h0M419 1552h0M467 1552h0M499 1552h0M518 1551h0M575 1554h0M589 1554h0M606 1551h0M617 1552h0M650 1554h0M655 1551h0M673 1551h0M748 1552h0M954 1551h0M1106 1550h0M1136 1551h0M1142 1552h0M1146 1553h0M1171 1552h0M1192 1552h0M1200 1554h0M1271 1553h0M1284 1554h0M1302 1551h0M1308 1553h0M210 1557h0M250 1555h0M252 1556h0M275 1557h0M284 1558h0M318 1558h0M341 1555h0M346 1555h0M447 1557h0M462 1556h0M477 1558h0M535 1556h0M562 1556h0M565 1558h0M595 1558h0M662 1557h0M672 1556h0M762 1556h0M911 1556h0M939 1557h0M994 1555h0M1205 1556h0M1388 1558h0M238 1562h0M313 1561h0M373 1561h0M457 1561h0M473 1560h0M531 1559h0M591 1560h0M597 1561h0M647 1558h0M650 1561h0M673 1560h0M752 1561h0M759 1560h0M776 1560h0M889 1562h0M983 1561h0M995 1561h0M1004 1560h0M1029 1562h0M1040 1559h0M1109 1558h0M1133 1561h0M1151 1560h0M1168 1561h0M1288 1560h0M1297 1561h0M1302 1561h0M1311 1561h0M1494 1560h0M1510 1561h0M312 1564h0M385 1564h0M394 1563h0M406 1563h0M555 1563h0M585 1564h0M692 1563h0M704 1564h0M762 1563h0M921 1564h0M930 1563h0M938 1563h0M960 1564h0M1018 1563h0M1031 1563h0M1036 1563h0M1057 1563h0M1074 1564h0M1082 1565h0M1096 1564h0M1300 1564h0M1425 1563h0M1429 1565h0M359 1567h0M389 1569h0M416 1567h0M489 1567h0M610 1568h0M641 1567h0M699 1567h0M718 1569h0M739 1567h0M889 1568h0M932 1568h0M933 1570h0M977 1567h0M992 1567h0M1094 1567h0M1100 1569h0M1131 1567h0M1161 1567h0M1252 1567h0M1270 1566h0M1424 1569h0M1448 1567h0M1492 1568h0M1619 1567h0M285 1570h0M287 1570h0M361 1573h0M393 1571h0M482 1574h0M489 1573h0M489 1571h0M511 1572h0M529 1573h0M631 1573h0M757 1572h0M777 1572h0M921 1573h0M931 1571h0M949 1572h0M981 1573h0M1013 1572h0M1080 1572h0M1108 1574h0M1118 1573h0M1131 1571h0M1159 1571h0M1163 1571h0M1166 1573h0M1232 1573h0M1393 1571h0M1487 1572h0M218 1575h0M246 1575h0M251 1577h0M266 1575h0M326 1576h0M334 1575h0M361 1575h0M378 1577h0M424 1577h0M495 1575h0M502 1577h0M623 1578h0M650 1576h0M653 1577h0M669 1577h0M777 1575h0M918 1576h0M930 1575h0M1011 1576h0M1013 1577h0M1037 1578h0M1161 1577h0M1173 1577h0M1176 1578h0M1197 1575h0M1205 1575h0M1622 1577h0M1623 1578h0M353 1581h0M434 1580h0M473 1579h0M501 1580h0M507 1580h0M519 1580h0M564 1578h0M611 1580h0M642 1579h0M702 1582h0M723 1579h0M751 1580h0M810 1580h0M899 1580h0M993 1579h0M1024 1581h0M1138 1579h0M1269 1578h0M256 1584h0M306 1585h0M349 1585h0M470 1585h0M477 1585h0M547 1584h0M609 1586h0M668 1585h0M699 1582h0M717 1583h0M769 1585h0M775 1584h0M775 1584h0M789 1582h0M800 1585h0M902 1583h0M929 1585h0M953 1583h0M954 1585h0M985 1585h0M992 1582h0M1008 1584h0M1020 1586h0M1042 1585h0M1078 1586h0M1160 1583h0M1179 1585h0M1207 1586h0M1292 1585h0M1309 1585h0M242 1588h0M311 1588h0M329 1587h0M394 1588h0M408 1588h0M427 1589h0M438 1586h0M439 1588h0M466 1588h0M537 1589h0M565 1588h0M587 1588h0M645 1589h0M658 1588h0M662 1588h0M679 1590h0M680 1587h0M707 1588h0M708 1588h0M781 1590h0M782 1586h0M898 1588h0M907 1588h0M937 1589h0M970 1588h0M985 1586h0M987 1589h0M1033 1588h0M1034 1590h0M1047 1587h0M1056 1587h0M1096 1586h0M1128 1588h0M1130 1588h0M1154 1588h0M1174 1586h0M1195 1588h0M1210 1590h0M1298 1588h0M1304 1588h0M205 1592h0M205 1594h0M290 1590h0M321 1591h0M356 1594h0M370 1594h0M390 1592h0M391 1594h0M399 1593h0M403 1591h0M407 1594h0M439 1590h0M481 1591h0M499 1591h0M512 1593h0M516 1590h0M573 1592h0M598 1592h0M606 1594h0M622 1594h0M627 1594h0M641 1590h0M752 1593h0M788 1592h0M944 1594h0M987 1594h0M999 1594h0M1013 1594h0M1042 1590h0M1052 1592h0M1067 1590h0M1131 1593h0M1138 1594h0M1148 1594h0M1162 1594h0M1168 1590h0M1173 1591h0M1211 1594h0M1212 1594h0M1228 1592h0M1236 1594h0M1564 1594h0M354 1597h0M394 1596h0M416 1596h0M457 1596h0M460 1597h0M497 1597h0M549 1597h0M603 1596h0M627 1597h0M637 1596h0M640 1595h0M642 1597h0M646 1595h0M680 1596h0M690 1598h0M693 1596h0M756 1598h0M764 1597h0M911 1598h0M913 1597h0M940 1596h0M960 1596h0M963 1598h0M980 1598h0M1025 1597h0M1043 1594h0M1052 1598h0M1072 1595h0M1100 1598h0M1127 1596h0M1155 1596h0M1182 1596h0M1227 1597h0M1241 1598h0M1257 1596h0M1269 1598h0M1349 1596h0M1408 1595h0M1516 1598h0M1521 1597h0M253 1600h0M281 1601h0M297 1599h0M303 1601h0M423 1601h0M457 1600h0M463 1601h0M591 1599h0M600 1598h0M623 1601h0M631 1600h0M723 1600h0M732 1600h0M743 1601h0M744 1599h0M778 1598h0M935 1600h0M995 1602h0M1051 1601h0M1054 1599h0M1054 1600h0M1228 1600h0M1369 1598h0M1393 1602h0M1471 1601h0M331 1602h0M393 1603h0M487 1605h0M489 1603h0M581 1602h0M581 1605h0M593 1603h0M607 1603h0M611 1605h0M661 1605h0M673 1602h0M712 1605h0M719 1605h0M731 1605h0M905 1605h0M905 1605h0M931 1603h0M958 1602h0M959 1605h0M979 1605h0M989 1606h0M1009 1605h0M1014 1605h0M1042 1605h0M1079 1603h0M1145 1603h0M1192 1603h0M1209 1605h0M1235 1605h0M1252 1602h0M1365 1605h0M1381 1605h0M1384 1604h0M1451 1605h0M264 1606h0M355 1607h0M390 1609h0M401 1610h0M421 1609h0M451 1609h0M460 1609h0M466 1609h0M493 1607h0M523 1607h0M548 1610h0M623 1607h0M630 1610h0M666 1606h0M673 1610h0M754 1609h0M784 1610h0M807 1606h0M895 1607h0M913 1607h0M914 1609h0M915 1607h0M953 1610h0M1007 1607h0M1015 1607h0M1034 1610h0M1049 1609h0M1058 1609h0M1119 1606h0M1175 1607h0M1203 1609h0M1205 1609h0M1208 1609h0M1288 1607h0M1296 1609h0M1326 1608h0M1531 1607h0M330 1612h0M354 1612h0M422 1612h0M493 1612h0M512 1611h0M570 1614h0M577 1614h0M578 1612h0M694 1611h0M700 1613h0M717 1613h0M726 1612h0M730 1612h0M738 1612h0M774 1612h0M776 1611h0M789 1612h0M921 1612h0M931 1614h0M998 1612h0M1007 1612h0M1040 1611h0M1047 1614h0M1110 1612h0M1143 1611h0M1342 1612h0M1447 1613h0M1601 1614h0M1613 1613h0M203 1615h0M240 1616h0M360 1616h0M369 1618h0M414 1615h0M431 1615h0M458 1616h0M498 1615h0M527 1614h0M558 1614h0M606 1615h0M617 1616h0M627 1616h0M708 1615h0M717 1618h0M732 1615h0M736 1617h0M738 1616h0M892 1615h0M912 1617h0M1003 1617h0M1059 1617h0M1075 1616h0M1111 1616h0M1152 1615h0M1173 1615h0M1180 1614h0M363 1619h0M430 1620h0M445 1620h0M484 1620h0M655 1620h0M902 1620h0M936 1622h0M1073 1618h0M1097 1621h0M1106 1618h0M1138 1621h0M1172 1620h0M1259 1620h0M1333 1620h0M1624 1621h0M209 1624h0M209 1624h0M211 1624h0M264 1624h0M270 1624h0M289 1624h0M312 1624h0M317 1624h0M323 1624h0M325 1624h0M343 1624h0M362 1623h0M379 1624h0M380 1624h0M409 1624h0M413 1624h0M433 1624h0M435 1624h0M445 1624h0M477 1624h0M494 1624h0M523 1624h0M526 1624h0M545 1623h0M575 1624h0M576 1624h0M581 1624h0M594 1624h0M600 1624h0M601 1624h0M611 1624h0M619 1623h0M627 1624h0M627 1624h0M629 1624h0M653 1624h0M664 1624h0M673 1624h0M702 1624h0M727 1624h0M727 1624h0M728 1624h0M746 1624h0M754 1624h0M757 1624h0M772 1624h0M776 1624h0M786 1624h0M796 1624h0M796 1624h0M804 1624h0M891 1624h0M906 1624h0M913 1624h0M915 1625h0M926 1624h0M931 1624h0M953 1624h0M960 1624h0M984 1624h0M990 1623h0M993 1624h0M1004 1624h0M1006 1624h0M1026 1623h0M1065 1624h0M1072 1624h0M1075 1624h0M1088 1626h0M1097 1624h0M1099 1624h0M1100 1624h0M1118 1624h0M1147 1624h0M1148 1624h0M1162 1625h0M1163 1624h0M1164 1625h0M1187 1624h0M1215 1623h0M1216 1624h0M1236 1624h0M1245 1624h0M1253 1624h0M1284 1624h0M1299 1624h0M1321 1624h0M1328 1625h0M1454 1624h0M1497 1624h0M1508 1624h0M1575 1624h0M213 1626h0M468 1630h0M592 1629h0M596 1626h0M624 1629h0M630 1627h0M792 1630h0M975 1627h0M1043 1629h0M1098 1630h0M1123 1627h0M1280 1628h0M1280 1628h0M1286 1626h0M1400 1626h0M1627 1630h0M368 1630h0M436 1633h0M464 1632h0M473 1632h0M479 1631h0M522 1630h0M612 1632h0M704 1631h0M735 1634h0M736 1632h0M777 1630h0M778 1634h0M806 1632h0M1057 1631h0M1117 1631h0M1145 1630h0M1230 1632h0M1249 1632h0M1503 1632h0M348 1635h0M370 1637h0M407 1637h0M489 1636h0M523 1635h0M545 1636h0M609 1637h0M609 1635h0M706 1638h0M752 1635h0M757 1635h0M765 1635h0M809 1634h0M940 1638h0M962 1638h0M1051 1638h0M1058 1637h0M1212 1637h0M1373 1637h0M1475 1635h0M1646 1636h0M214 1640h0M288 1642h0M365 1639h0M401 1639h0M423 1640h0M426 1642h0M549 1638h0M570 1639h0M588 1642h0M588 1641h0M611 1642h0M679 1642h0M681 1639h0M722 1639h0M776 1642h0M804 1639h0M898 1641h0M917 1642h0M922 1639h0M952 1641h0M989 1640h0M997 1641h0M1004 1642h0M1042 1639h0M1078 1639h0M1088 1642h0M1112 1639h0M1140 1641h0M1156 1641h0M1178 1638h0M1193 1639h0M1204 1640h0M1219 1641h0M1257 1639h0M1285 1639h0M1303 1640h0M1321 1639h0M1337 1642h0M1383 1640h0M1399 1641h0M1638 1641h0M285 1646h0M300 1644h0M325 1643h0M350 1646h0M352 1643h0M368 1646h0M397 1644h0M423 1646h0M448 1642h0M454 1643h0M454 1642h0M457 1645h0M459 1642h0M478 1644h0M479 1644h0M529 1645h0M551 1646h0M590 1645h0M599 1643h0M636 1644h0M637 1646h0M658 1644h0M679 1646h0M715 1646h0M739 1644h0M784 1643h0M791 1644h0M797 1644h0M899 1643h0M907 1643h0M931 1645h0M968 1642h0M1015 1642h0M1024 1645h0M1033 1645h0M1096 1642h0M1149 1642h0M1169 1645h0M1185 1644h0M1232 1643h0M1239 1644h0M1248 1645h0M1274 1642h0M1292 1644h0M1327 1643h0M1346 1645h0M1494 1646h0M1592 1644h0M299 1648h0M364 1650h0M378 1650h0M394 1649h0M411 1650h0M420 1647h0M438 1646h0M450 1647h0M456 1648h0M476 1649h0M481 1648h0M485 1649h0M498 1648h0M507 1648h0M511 1646h0M542 1647h0M557 1650h0M574 1649h0M585 1646h0M595 1647h0M611 1648h0M621 1650h0M646 1647h0M656 1647h0M664 1647h0M681 1649h0M691 1646h0M693 1648h0M709 1646h0M722 1648h0M737 1650h0M744 1648h0M772 1647h0M780 1647h0M791 1647h0M798 1647h0M803 1650h0M1633 1649h0M1639 1649h0M1643 1650h0M271 1652h0M308 1653h0M404 1653h0M431 1650h0M466 1651h0M495 1651h0M520 1651h0M528 1651h0M539 1651h0M565 1652h0M628 1651h0M638 1652h0M673 1651h0M702 1651h0M729 1652h0M756 1651h0M765 1651h0M897 1652h0M1401 1652h0M1603 1651h0M1627 1651h0M1631 1654h0M1658 1654h0M254 1656h0M265 1655h0M1547 1655h0M1637 1655h0M1643 1657h0M1644 1656h0M1655 1656h0M267 1660h0M308 1661h0M370 1660h0M803 1659h0M898 1660h0M1403 1658h0M1406 1661h0M1597 1660h0M1618 1662h0M1629 1661h0M1629 1661h0M1637 1661h0M1643 1661h0M1656 1661h0M216 1665h0M223 1666h0M315 1663h0M1444 1665h0M1548 1665h0M1549 1666h0M210 1669h0M255 1669h0M351 1667h0M368 1667h0M798 1667h0M896 1667h0M1398 1668h0M1448 1669h0M1465 1669h0M1477 1670h0M1495 1667h0M1500 1667h0M1532 1669h0M1540 1666h0M1557 1669h0M1625 1669h0M1638 1667h0M1659 1667h0M214 1673h0M225 1672h0M244 1672h0M255 1672h0M1460 1672h0M1486 1673h0M1517 1673h0M1518 1672h0M1521 1671h0M1563 1672h0M1636 1674h0M1637 1671h0M1641 1672h0M1645 1672h0M1650 1671h0M1651 1671h0M208 1677h0M214 1678h0M235 1677h0M248 1675h0M314 1674h0M368 1678h0M800 1676h0M897 1676h0M1430 1678h0M1444 1677h0M1458 1677h0M1463 1674h0M1467 1678h0M1489 1674h0M1522 1675h0M1537 1677h0M1543 1676h0M1544 1677h0M1548 1678h0M1555 1678h0M1557 1677h0M1557 1676h0M1647 1674h0M1648 1677h0M208 1682h0M226 1678h0M242 1682h0M253 1679h0M311 1682h0M330 1682h0M1417 1678h0M1421 1682h0M1439 1679h0M1474 1682h0M1489 1682h0M1559 1680h0M1632 1680h0M255 1684h0M269 1686h0M338 1684h0M800 1684h0M1399 1685h0M1433 1685h0M1440 1685h0M1454 1685h0M1474 1684h0M1503 1683h0M1531 1682h0M1531 1682h0M1564 1685h0M1633 1686h0M1655 1686h0M247 1688h0M251 1689h0M256 1689h0M268 1687h0M312 1688h0M896 1688h0M1414 1690h0M1414 1689h0M1435 1688h0M1475 1688h0M1516 1689h0M1542 1690h0M1554 1688h0M1615 1689h0M1617 1689h0M1621 1690h0M1649 1688h0M203 1691h0M223 1692h0M256 1691h0M326 1691h0M366 1694h0M801 1693h0M1431 1693h0M1444 1692h0M1473 1693h0M1484 1692h0M1494 1690h0M1525 1691h0M1531 1691h0M1537 1693h0M1548 1694h0M1557 1691h0M1560 1693h0M1624 1691h0M1631 1693h0M1637 1691h0M1657 1691h0M202 1697h0M238 1698h0M240 1695h0M245 1696h0M249 1695h0M280 1694h0M282 1698h0M289 1697h0M897 1694h0M1451 1697h0M1471 1696h0M1533 1697h0M1546 1695h0M1549 1695h0M1554 1697h0M256 1701h0M277 1699h0M310 1699h0M799 1701h0M1420 1701h0M1430 1701h0M1439 1701h0M1451 1700h0M1474 1700h0M1506 1699h0M1543 1700h0M216 1704h0M226 1704h0M236 1704h0M246 1704h0M250 1703h0M284 1706h0M287 1706h0M325 1704h0M327 1703h0M332 1704h0M352 1704h0M355 1704h0M899 1706h0M1400 1703h0M1412 1704h0M1444 1704h0M1455 1702h0M1458 1704h0M1458 1704h0M1463 1704h0M1479 1705h0M1489 1704h0M1491 1704h0M1504 1704h0M1506 1706h0M1522 1704h0M1537 1704h0M1540 1704h0M1598 1703h0M1613 1705h0M1617 1704h0M1618 1703h0M1637 1704h0M1650 1704h0M1653 1704h0M207 1708h0M209 1708h0M216 1709h0M218 1710h0M235 1709h0M237 1709h0M240 1708h0M275 1707h0M304 1707h0M316 1709h0M334 1708h0M346 1708h0M351 1707h0M1428 1707h0M1499 1709h0M1564 1708h0M1590 1708h0M1616 1709h0M1629 1709h0M1639 1707h0M1640 1709h0M1658 1709h0M212 1710h0M216 1710h0M220 1713h0M222 1712h0M237 1710h0M239 1713h0M241 1712h0M253 1713h0M266 1713h0M269 1711h0M271 1711h0M277 1713h0M279 1713h0M288 1710h0M294 1713h0M317 1713h0M804 1713h0M1420 1713h0M1422 1710h0M1435 1713h0M1465 1713h0M1470 1711h0M1517 1713h0M1538 1710h0M1557 1712h0M1583 1710h0M1637 1711h0M1643 1711h0M202 1714h0M235 1717h0M255 1717h0M256 1717h0M267 1715h0M274 1717h0M305 1717h0M309 1715h0M317 1715h0M1412 1715h0M1421 1715h0M1437 1717h0M1458 1717h0M1461 1715h0M1501 1717h0M1507 1715h0M1526 1717h0M1588 1716h0M1599 1715h0M1612 1717h0M1642 1717h0M1651 1716h0M220 1718h0M226 1722h0M226 1720h0M238 1720h0M243 1720h0M250 1718h0M266 1721h0M270 1718h0M282 1720h0M296 1722h0M308 1720h0M331 1718h0M338 1720h0M343 1718h0M349 1719h0M353 1721h0M804 1722h0M1428 1719h0M1511 1721h0M1555 1720h0M1563 1720h0M1595 1722h0M1629 1720h0M1637 1720h0M203 1722h0M283 1724h0M298 1724h0M304 1723h0M315 1724h0M347 1722h0M894 1723h0M1397 1724h0M1475 1724h0M1481 1722h0M1496 1725h0M1506 1724h0M1517 1725h0M1547 1724h0M1560 1724h0M1620 1724h0M1622 1725h0M1628 1724h0M1657 1724h0M275 1729h0M310 1730h0M314 1728h0M316 1730h0M323 1727h0M325 1728h0M804 1729h0M1398 1729h0M1418 1726h0M1459 1727h0M1464 1728h0M1466 1728h0M1477 1730h0M1490 1728h0M1500 1728h0M1515 1727h0M1524 1727h0M1532 1727h0M1536 1727h0M1537 1727h0M1541 1727h0M1541 1730h0M1544 1730h0M1546 1730h0M1565 1730h0M1565 1730h0M1570 1727h0M1582 1730h0M1618 1730h0M1630 1727h0M1631 1728h0M1656 1727h0M1657 1728h0M207 1733h0M252 1733h0M285 1732h0M293 1733h0M351 1733h0M367 1731h0M898 1730h0M1459 1733h0M1475 1733h0M1481 1730h0M1499 1732h0M1501 1730h0M1525 1733h0M1527 1733h0M1546 1733h0M1550 1733h0M1555 1731h0M1564 1730h0M1583 1733h0M1633 1733h0M1634 1732h0M1641 1733h0M1658 1733h0M250 1736h0M253 1737h0M271 1737h0M272 1737h0M288 1736h0M305 1738h0M329 1737h0M340 1736h0M350 1737h0M357 1734h0M367 1738h0M805 1738h0M1422 1737h0M1543 1735h0M1546 1735h0M1588 1734h0M1597 1737h0M1611 1737h0M1633 1735h0M204 1741h0M212 1740h0M262 1741h0M277 1738h0M307 1739h0M311 1740h0M319 1739h0M329 1739h0M331 1739h0M335 1740h0M336 1740h0M337 1739h0M898 1739h0M1400 1740h0M1446 1739h0M1453 1739h0M1514 1739h0M1525 1739h0M1527 1739h0M1634 1741h0M1646 1742h0M210 1742h0M220 1742h0M246 1742h0M252 1743h0M265 1743h0M269 1743h0M270 1742h0M271 1742h0M271 1743h0M284 1742h0M284 1744h0M290 1742h0M293 1746h0M294 1742h0M308 1744h0M315 1744h0M322 1742h0M339 1744h0M1415 1742h0M1483 1745h0M1523 1742h0M1524 1745h0M1543 1744h0M1557 1744h0M1560 1742h0M1568 1742h0M1617 1744h0M1650 1745h0M1658 1744h0M212 1748h0M240 1748h0M254 1746h0M267 1746h0M286 1746h0M294 1746h0M300 1749h0M310 1749h0M313 1748h0M329 1750h0M346 1748h0M354 1746h0M355 1746h0M357 1748h0M366 1746h0M804 1749h0M1400 1749h0M1462 1749h0M1478 1746h0M1511 1747h0M1533 1749h0M1580 1749h0M1609 1746h0M1611 1749h0M1617 1746h0M1624 1749h0M1625 1747h0M1628 1749h0M1635 1747h0M1651 1750h0M1657 1746h0M1659 1750h0M222 1751h0M251 1751h0M301 1753h0M305 1754h0M324 1751h0M328 1754h0M900 1751h0M1439 1750h0M1456 1751h0M1501 1751h0M1521 1751h0M1522 1750h0M1526 1751h0M1611 1751h0M1618 1753h0M1624 1754h0M1636 1752h0M1652 1750h0M218 1758h0M232 1758h0M233 1758h0M240 1758h0M244 1758h0M248 1758h0M255 1758h0M276 1758h0M276 1758h0M277 1758h0M278 1758h0M283 1758h0M284 1758h0M286 1758h0M287 1758h0M303 1758h0M304 1758h0M312 1758h0M313 1757h0M318 1758h0M320 1758h0M322 1758h0M331 1758h0M343 1758h0M345 1758h0M349 1758h0M355 1758h0M357 1758h0M358 1758h0M358 1757h0M365 1758h0M804 1755h0M1404 1757h0M1424 1758h0M1439 1756h0M1444 1758h0M1464 1758h0M1465 1758h0M1473 1758h0M1473 1758h0M1476 1758h0M1476 1758h0M1480 1758h0M1497 1758h0M1509 1758h0M1510 1758h0M1521 1758h0M1523 1756h0M1534 1758h0M1538 1756h0M1546 1758h0M1552 1756h0M1555 1755h0M1612 1758h0M1614 1758h0M1620 1758h0M1625 1758h0M1626 1758h0M1626 1758h0M1645 1757h0M1645 1758h0M1654 1758h0M1656 1758h0M215 1760h0M252 1761h0M267 1760h0M321 1760h0M353 1758h0M1436 1761h0M1474 1761h0M1516 1762h0M1640 1760h0M210 1764h0M215 1766h0M222 1763h0M227 1764h0M230 1765h0M245 1766h0M297 1764h0M326 1765h0M342 1764h0M353 1764h0M898 1766h0M1405 1766h0M1449 1763h0M1449 1765h0M1524 1764h0M226 1767h0M235 1770h0M241 1768h0M245 1770h0M248 1769h0M269 1770h0M272 1768h0M288 1769h0M290 1768h0M318 1767h0M319 1768h0M321 1766h0M333 1768h0M335 1770h0M343 1767h0M366 1767h0M804 1767h0M1414 1768h0M1419 1768h0M1429 1770h0M1431 1770h0M1464 1768h0M1507 1770h0M1513 1770h0M1532 1767h0M1599 1770h0M1600 1766h0M1613 1769h0M1614 1770h0M1615 1769h0M257 1771h0M273 1772h0M280 1772h0M282 1772h0M314 1772h0M320 1773h0M356 1774h0M1410 1773h0M1421 1771h0M1425 1772h0M1436 1773h0M1474 1773h0M1510 1772h0M1517 1771h0M1535 1773h0M1557 1771h0M204 1776h0M215 1775h0M256 1774h0M264 1778h0M276 1775h0M282 1774h0M312 1775h0M316 1774h0M320 1777h0M320 1776h0M327 1774h0M339 1774h0M344 1775h0M370 1776h0M803 1775h0M898 1774h0M1402 1778h0M1561 1776h0M1566 1777h0M1582 1775h0M1583 1774h0M1604 1776h0M1628 1777h0M211 1778h0M213 1778h0M220 1778h0M221 1780h0M246 1778h0M247 1778h0M272 1779h0M290 1781h0M300 1779h0M300 1781h0M305 1778h0M310 1778h0M328 1781h0M329 1780h0M348 1779h0M357 1778h0M1418 1782h0M1452 1782h0M1462 1778h0M1472 1780h0M1475 1779h0M1484 1782h0M1517 1782h0M1535 1778h0M1546 1778h0M1552 1778h0M1576 1778h0M1590 1778h0M1598 1780h0M1652 1778h0M1654 1780h0M215 1783h0M217 1786h0M222 1783h0M228 1784h0M241 1784h0M260 1784h0M282 1783h0M289 1785h0M297 1784h0M299 1784h0M305 1786h0M307 1785h0M311 1784h0M316 1784h0M326 1784h0M329 1784h0M334 1784h0M338 1784h0M354 1784h0M798 1784h0M897 1786h0M1402 1783h0M1445 1784h0M1499 1782h0M1548 1784h0M1562 1785h0M1616 1784h0M1640 1784h0M211 1788h0M212 1789h0M220 1790h0M234 1788h0M237 1786h0M262 1788h0M280 1790h0M281 1786h0M281 1790h0M283 1787h0M284 1789h0M288 1789h0M312 1789h0M1417 1787h0M1425 1789h0M1425 1789h0M1459 1788h0M1473 1788h0M1475 1787h0M1524 1789h0M1534 1789h0M1537 1789h0M1545 1788h0M1545 1786h0M1548 1790h0M1576 1787h0M1600 1787h0M1614 1789h0M1619 1786h0M1622 1787h0M1626 1789h0M203 1791h0M209 1792h0M229 1793h0M250 1793h0M260 1793h0M264 1791h0M303 1792h0M310 1791h0M347 1793h0M367 1791h0M898 1793h0M1413 1791h0M1467 1792h0M1479 1792h0M1520 1791h0M1541 1793h0M1559 1793h0M1611 1794h0M1640 1793h0M1652 1792h0M1660 1791h0M207 1796h0M233 1796h0M256 1796h0M292 1796h0M303 1796h0M304 1796h0M320 1796h0M324 1796h0M328 1796h0M334 1797h0M339 1796h0M343 1796h0M357 1794h0M804 1795h0M1404 1795h0M1432 1796h0M1442 1796h0M1482 1797h0M1483 1796h0M1510 1796h0M1522 1796h0M1603 1796h0M1615 1796h0M1619 1795h0M1658 1796h0M204 1799h0M224 1802h0M254 1801h0M268 1799h0M279 1801h0M318 1800h0M321 1798h0M323 1801h0M334 1798h0M335 1800h0M358 1802h0M1417 1798h0M1460 1802h0M1515 1800h0M1552 1799h0M1603 1798h0M1613 1799h0M1629 1799h0M1641 1799h0M1649 1800h0M1651 1799h0M221 1802h0M232 1803h0M246 1804h0M286 1802h0M306 1804h0M307 1802h0M347 1804h0M348 1802h0M368 1804h0M802 1803h0M894 1803h0M1398 1804h0M1413 1802h0M1460 1805h0M1498 1804h0M1515 1802h0M1533 1804h0M1536 1802h0M1541 1806h0M1549 1805h0M1569 1805h0M1601 1802h0M1614 1804h0M1630 1804h0M1637 1803h0M214 1806h0M219 1806h0M225 1806h0M225 1809h0M235 1806h0M238 1807h0M249 1806h0M273 1806h0M274 1806h0M279 1809h0M288 1809h0M292 1806h0M299 1809h0M301 1806h0M313 1806h0M315 1806h0M318 1806h0M349 1810h0M355 1808h0M1441 1806h0M1474 1806h0M1477 1807h0M1480 1806h0M1483 1806h0M1509 1806h0M1516 1806h0M1517 1808h0M1531 1808h0M1541 1810h0M1556 1810h0M1595 1806h0M1646 1809h0M1653 1806h0M1658 1806h0M219 1811h0M234 1814h0M244 1814h0M252 1811h0M267 1811h0M303 1811h0M303 1813h0M307 1812h0M319 1812h0M338 1811h0M343 1812h0M365 1810h0M897 1810h0M1405 1811h0M1418 1811h0M1520 1814h0M1521 1813h0M1645 1814h0M1646 1811h0M1656 1813h0M1657 1814h0M1657 1811h0M226 1815h0M229 1818h0M242 1817h0M243 1817h0M272 1818h0M301 1815h0M311 1816h0M318 1818h0M341 1817h0M1433 1818h0M1443 1818h0M1502 1817h0M1513 1815h0M1518 1817h0M1537 1817h0M1597 1818h0M1651 1814h0M1659 1816h0M214 1821h0M222 1819h0M342 1818h0M801 1820h0M896 1819h0M1401 1822h0M1503 1819h0M1513 1820h0M1525 1820h0M1525 1821h0M1548 1820h0M1550 1819h0M1618 1820h0M1625 1821h0M1630 1819h0M1653 1821h0M1656 1821h0M205 1826h0M219 1824h0M221 1824h0M235 1824h0M236 1823h0M247 1823h0M248 1824h0M253 1824h0M255 1825h0M256 1823h0M260 1824h0M265 1824h0M274 1824h0M276 1824h0M288 1824h0M300 1823h0M309 1824h0M310 1824h0M315 1824h0M334 1824h0M340 1824h0M352 1824h0M1454 1824h0M1466 1824h0M1486 1824h0M1489 1824h0M1509 1823h0M1512 1824h0M1526 1824h0M1532 1825h0M1553 1824h0M1553 1824h0M1569 1824h0M1583 1824h0M1612 1824h0M1621 1824h0M1630 1823h0M1634 1824h0M1645 1824h0M1650 1824h0M1653 1824h0M1655 1822h0M1655 1825h0M203 1827h0M221 1829h0M272 1827h0M299 1827h0M312 1827h0M325 1830h0M330 1830h0M330 1829h0M804 1828h0M1402 1828h0M1491 1830h0M1538 1830h0M1553 1828h0M1630 1830h0M1637 1829h0M226 1833h0M246 1833h0M254 1834h0M255 1832h0M298 1833h0M302 1831h0M319 1832h0M337 1830h0M357 1834h0M1420 1833h0M1422 1832h0M1438 1834h0M1502 1831h0M1504 1830h0M1525 1834h0M1531 1834h0M1550 1834h0M1570 1830h0M1597 1834h0M1625 1830h0M1626 1833h0M1638 1834h0M1649 1834h0M1651 1831h0M1659 1831h0M245 1838h0M249 1834h0M255 1836h0M264 1834h0M277 1836h0M283 1836h0M284 1835h0M284 1838h0M307 1838h0M310 1835h0M311 1838h0M315 1836h0M351 1835h0M359 1836h0M364 1838h0M799 1838h0M1413 1837h0M1427 1838h0M1432 1835h0M1448 1834h0M1457 1836h0M1492 1837h0M1493 1835h0M1503 1835h0M1548 1836h0M1570 1836h0M1620 1836h0M1633 1836h0M1643 1837h0M1643 1837h0M1646 1836h0M1646 1835h0M223 1840h0M237 1840h0M247 1840h0M255 1840h0M271 1839h0M272 1840h0M276 1841h0M280 1840h0M288 1838h0M308 1841h0M319 1840h0M323 1842h0M323 1840h0M342 1840h0M348 1840h0M895 1839h0M1410 1841h0M1504 1838h0M1512 1840h0M1512 1838h0M1530 1840h0M1542 1838h0M1546 1840h0M1547 1841h0M1549 1840h0M1551 1841h0M1615 1838h0M1621 1841h0M1624 1840h0M1636 1838h0M1642 1839h0M1659 1840h0M230 1844h0M235 1844h0M254 1844h0M273 1845h0M293 1845h0M315 1844h0M318 1844h0M329 1842h0M330 1845h0M1487 1845h0M1487 1843h0M1494 1844h0M1519 1842h0M1531 1845h0M1535 1843h0M1563 1846h0M1622 1844h0M1625 1842h0M1637 1846h0M1646 1842h0M254 1849h0M262 1846h0M262 1846h0M264 1849h0M292 1846h0M308 1846h0M351 1846h0M894 1848h0M1399 1849h0M1432 1849h0M1440 1846h0M1457 1846h0M1469 1849h0M1487 1846h0M1571 1846h0M1599 1849h0M1614 1847h0M230 1853h0M265 1850h0M292 1850h0M296 1851h0M301 1853h0M301 1850h0M306 1853h0M321 1852h0M331 1853h0M336 1853h0M337 1853h0M350 1854h0M1412 1853h0M1417 1853h0M1436 1851h0M1462 1853h0M1470 1851h0M1488 1851h0M1502 1853h0M1519 1853h0M1543 1853h0M1562 1853h0M1580 1850h0M1609 1853h0M1638 1850h0M1647 1853h0M1654 1852h0M210 1856h0M219 1855h0M224 1857h0M252 1858h0M254 1856h0M305 1856h0M339 1856h0M340 1858h0M371 1855h0M896 1858h0M1402 1856h0M1448 1856h0M1468 1857h0M1473 1856h0M1478 1856h0M1528 1855h0M1550 1858h0M1564 1855h0M1582 1857h0M1622 1857h0M1634 1855h0M1656 1858h0M1656 1856h0M206 1861h0M222 1859h0M227 1859h0M229 1859h0M250 1860h0M303 1859h0M305 1860h0M318 1861h0M320 1860h0M333 1861h0M357 1859h0M1416 1860h0M1495 1860h0M1512 1861h0M1518 1860h0M1532 1862h0M1544 1858h0M1604 1859h0M1635 1860h0M1654 1860h0M219 1864h0M230 1863h0M234 1864h0M239 1864h0M245 1866h0M249 1862h0M266 1864h0M267 1864h0M271 1864h0M272 1864h0M300 1864h0M310 1864h0M325 1864h0M330 1862h0M331 1863h0M335 1866h0M336 1864h0M347 1864h0M356 1864h0M357 1864h0M368 1865h0M1402 1864h0M1413 1864h0M1415 1864h0M1423 1864h0M1425 1864h0M1428 1865h0M1429 1864h0M1463 1864h0M1476 1863h0M1477 1864h0M1497 1864h0M1512 1864h0M1530 1864h0M1532 1862h0M1534 1864h0M1548 1864h0M1556 1865h0M1562 1864h0M1581 1864h0M1615 1864h0M1617 1865h0M1619 1864h0M1621 1863h0M1645 1864h0M1648 1863h0M221 1869h0M239 1869h0M250 1868h0M274 1869h0M284 1868h0M294 1869h0M318 1867h0M334 1869h0M803 1866h0M1435 1869h0M1600 1869h0M1652 1869h0M206 1874h0M211 1872h0M215 1872h0M216 1872h0M240 1872h0M255 1871h0M256 1873h0M271 1872h0M272 1872h0M293 1872h0M296 1872h0M318 1873h0M330 1872h0M336 1872h0M339 1873h0M344 1872h0M798 1874h0M1397 1873h0M1438 1873h0M1451 1870h0M1489 1872h0M1493 1873h0M1497 1872h0M1519 1871h0M1549 1872h0M1557 1872h0M1569 1873h0M1616 1872h0M1622 1870h0M225 1876h0M257 1878h0M268 1874h0M272 1876h0M278 1877h0M292 1877h0M301 1874h0M317 1877h0M317 1874h0M325 1874h0M341 1878h0M897 1876h0M1421 1876h0M1423 1878h0M1424 1874h0M1426 1875h0M1432 1874h0M1466 1874h0M1479 1876h0M1493 1874h0M1494 1874h0M1501 1875h0M1510 1875h0M1514 1875h0M1517 1874h0M1541 1876h0M1562 1878h0M1588 1876h0M1614 1874h0M1648 1875h0M222 1882h0M224 1879h0M229 1881h0M232 1879h0M239 1879h0M240 1881h0M248 1879h0M279 1879h0M312 1879h0M324 1882h0M326 1879h0M333 1879h0M339 1881h0M345 1879h0M345 1879h0M349 1879h0M353 1881h0M1410 1879h0M1498 1879h0M1514 1879h0M1521 1880h0M1546 1879h0M1550 1879h0M1567 1878h0M1577 1879h0M1615 1879h0M1626 1881h0M1651 1879h0M1654 1879h0M1655 1879h0M1657 1881h0M278 1883h0M299 1885h0M324 1882h0M340 1885h0M342 1882h0M349 1885h0M355 1884h0M359 1883h0M371 1883h0M804 1883h0M896 1884h0M1405 1885h0M1422 1885h0M1461 1883h0M1498 1884h0M1533 1883h0M1537 1883h0M1539 1883h0M1546 1885h0M1553 1883h0M1555 1885h0M1609 1886h0M1620 1883h0M1622 1885h0M1644 1885h0M210 1886h0M263 1888h0M268 1887h0M281 1887h0M287 1888h0M293 1887h0M327 1889h0M329 1887h0M334 1890h0M1431 1886h0M1434 1887h0M1473 1886h0M1491 1888h0M1495 1890h0M1545 1886h0M1586 1889h0M1628 1888h0M1636 1888h0M1652 1887h0M207 1891h0M209 1891h0M229 1891h0M239 1891h0M245 1892h0M246 1894h0M251 1891h0M275 1891h0M282 1891h0M287 1891h0M289 1891h0M294 1891h0M296 1893h0M297 1894h0M313 1890h0M338 1891h0M344 1893h0M345 1891h0M353 1892h0M355 1891h0M370 1891h0M801 1893h0M895 1894h0M1399 1894h0M1413 1891h0M1437 1891h0M1438 1891h0M1447 1891h0M1458 1891h0M1471 1891h0M1475 1892h0M1487 1891h0M1514 1891h0M1517 1891h0M1520 1891h0M1523 1891h0M1557 1891h0M1620 1893h0M1630 1891h0M1639 1891h0M1643 1891h0M1656 1890h0M232 1896h0M252 1896h0M264 1897h0M267 1896h0M277 1897h0M304 1896h0M317 1897h0M325 1895h0M349 1894h0M358 1898h0M1429 1898h0M1429 1896h0M1502 1898h0M1504 1895h0M1563 1895h0M1612 1895h0M1619 1895h0M1622 1897h0M1636 1895h0M1638 1895h0M1656 1897h0M217 1901h0M232 1901h0M232 1899h0M237 1901h0M277 1900h0M285 1901h0M314 1901h0M325 1900h0M330 1901h0M335 1901h0M351 1901h0M364 1900h0M1398 1902h0M1419 1899h0M1457 1901h0M1457 1901h0M1466 1901h0M1481 1901h0M1497 1899h0M1501 1900h0M1515 1902h0M1518 1902h0M1522 1901h0M1525 1899h0M1532 1901h0M1541 1901h0M1543 1899h0M1545 1901h0M1551 1900h0M205 1903h0M207 1904h0M208 1906h0M217 1904h0M239 1904h0M250 1904h0M274 1904h0M287 1906h0M290 1905h0M305 1904h0M309 1903h0M322 1903h0M322 1903h0M339 1905h0M897 1904h0M1440 1903h0M1464 1904h0M1535 1904h0M1537 1905h0M1540 1903h0M1540 1906h0M1543 1903h0M1561 1905h0M1619 1904h0M1639 1903h0M1646 1905h0M221 1910h0M225 1906h0M231 1907h0M241 1910h0M254 1908h0M265 1907h0M271 1910h0M281 1908h0M288 1906h0M289 1910h0M308 1906h0M318 1909h0M324 1910h0M325 1909h0M326 1910h0M326 1906h0M351 1909h0M802 1909h0M1400 1909h0M1432 1910h0M1445 1910h0M1459 1910h0M1473 1910h0M1513 1907h0M1534 1910h0M1566 1910h0M1599 1910h0M1621 1910h0M1628 1908h0M1641 1910h0M1643 1910h0M1646 1910h0M1652 1909h0M213 1914h0M214 1911h0M217 1914h0M247 1914h0M281 1913h0M285 1911h0M292 1913h0M295 1914h0M318 1913h0M326 1910h0M335 1912h0M371 1911h0M899 1911h0M1440 1912h0M1447 1913h0M1503 1911h0M1621 1914h0M202 1915h0M205 1916h0M216 1915h0M233 1915h0M241 1918h0M254 1917h0M262 1917h0M280 1915h0M298 1915h0M307 1918h0M330 1916h0M332 1917h0M352 1917h0M352 1917h0M354 1915h0M1430 1917h0M1450 1918h0M1456 1915h0M1463 1917h0M1473 1915h0M1479 1915h0M1480 1917h0M1481 1914h0M1528 1917h0M1538 1914h0M1550 1915h0M1555 1916h0M1637 1915h0M1643 1915h0M1646 1915h0M1649 1915h0M209 1920h0M236 1921h0M240 1921h0M242 1919h0M247 1919h0M253 1920h0M274 1920h0M310 1921h0M317 1920h0M799 1920h0M896 1918h0M1402 1922h0M1413 1919h0M1444 1919h0M1462 1920h0M1572 1920h0M1574 1921h0M254 1923h0M273 1923h0M275 1924h0M281 1924h0M286 1926h0M292 1926h0M299 1924h0M311 1924h0M317 1924h0M325 1924h0M330 1924h0M336 1924h0M348 1924h0M1426 1924h0M1440 1924h0M1442 1925h0M1465 1924h0M1480 1922h0M1513 1924h0M1517 1925h0M1551 1926h0M1559 1924h0M1570 1925h0M1624 1926h0M1628 1923h0M1640 1924h0M1659 1926h0M235 1930h0M249 1927h0M279 1927h0M293 1927h0M302 1927h0M306 1929h0M310 1927h0M316 1929h0M317 1928h0M322 1930h0M367 1927h0M798 1929h0M899 1930h0M1401 1929h0M1432 1927h0M1448 1927h0M1493 1928h0M1515 1927h0M1518 1930h0M1526 1927h0M1530 1927h0M1548 1927h0M1580 1930h0M1617 1930h0M1641 1929h0M1645 1930h0M1652 1930h0M1657 1928h0M221 1931h0M230 1932h0M235 1931h0M250 1932h0M255 1931h0M275 1934h0M296 1934h0M300 1934h0M342 1934h0M356 1933h0M1414 1933h0M1473 1932h0M1502 1933h0M1518 1932h0M1541 1933h0M1565 1930h0M1616 1931h0M219 1935h0M223 1935h0M241 1935h0M250 1935h0M250 1935h0M257 1935h0M260 1935h0M281 1935h0M282 1935h0M284 1935h0M294 1938h0M322 1935h0M326 1935h0M334 1936h0M341 1936h0M1399 1936h0M1466 1937h0M1481 1937h0M1491 1937h0M1523 1935h0M1526 1938h0M1561 1935h0M1576 1937h0M1584 1935h0M1641 1935h0M242 1941h0M253 1938h0M280 1940h0M332 1940h0M347 1941h0M364 1939h0M1426 1942h0M1550 1940h0M1551 1942h0M1597 1940h0M1612 1940h0M1623 1939h0M1626 1941h0M1645 1940h0M1650 1940h0M1650 1941h0M216 1944h0M228 1943h0M248 1944h0M255 1943h0M264 1943h0M265 1942h0M269 1944h0M277 1943h0M294 1945h0M294 1944h0M312 1942h0M315 1944h0M325 1944h0M326 1942h0M330 1944h0M336 1944h0M358 1944h0M800 1946h0M1439 1945h0M1519 1945h0M1526 1944h0M1526 1944h0M1539 1944h0M1561 1942h0M1610 1944h0M1654 1944h0M1654 1944h0M204 1948h0M242 1948h0M264 1946h0M306 1946h0M338 1946h0M370 1947h0M1412 1946h0M1433 1947h0M1440 1947h0M1443 1948h0M1458 1947h0M1474 1949h0M1492 1950h0M1502 1950h0M1504 1947h0M1521 1950h0M1535 1948h0M1562 1947h0M1615 1946h0M1630 1948h0M1653 1947h0M1657 1950h0M1660 1948h0M221 1953h0M239 1951h0M275 1951h0M284 1954h0M290 1952h0M299 1951h0M318 1951h0M322 1951h0M355 1951h0M367 1953h0M1431 1951h0M1435 1951h0M1436 1951h0M1438 1951h0M1458 1951h0M1460 1951h0M1477 1951h0M1478 1951h0M1482 1951h0M1494 1951h0M1510 1950h0M1556 1951h0M1572 1954h0M1594 1950h0M1610 1952h0M1645 1951h0M1651 1952h0M1658 1951h0M203 1957h0M203 1955h0M209 1956h0M215 1957h0M220 1957h0M233 1956h0M236 1957h0M262 1957h0M271 1957h0M275 1956h0M296 1957h0M311 1957h0M318 1957h0M320 1957h0M324 1956h0M325 1956h0M344 1955h0M803 1955h0M894 1955h0M1401 1958h0M1429 1957h0M1433 1955h0M1436 1956h0M1470 1957h0M1478 1957h0M1523 1957h0M1555 1957h0M1591 1956h0M1593 1955h0M1641 1955h0M1645 1957h0M1658 1957h0M206 1960h0M228 1959h0M255 1962h0M280 1960h0M283 1958h0M303 1961h0M307 1960h0M310 1961h0M323 1961h0M325 1960h0M341 1960h0M356 1959h0M1445 1959h0M1471 1962h0M1536 1959h0M1636 1960h0M1648 1961h0M211 1965h0M220 1963h0M256 1963h0M293 1966h0M297 1963h0M340 1963h0M348 1963h0M358 1965h0M364 1966h0M799 1964h0M900 1964h0M1410 1965h0M1417 1965h0M1430 1962h0M1448 1965h0M1475 1964h0M1498 1962h0M1519 1965h0M1555 1964h0M1556 1965h0M1616 1963h0M1645 1965h0M203 1969h0M205 1967h0M209 1967h0M224 1967h0M229 1969h0M254 1968h0M265 1967h0M282 1969h0M298 1967h0M308 1967h0M316 1968h0M324 1967h0M338 1967h0M342 1969h0M353 1966h0M1416 1966h0M1432 1970h0M1437 1969h0M1454 1967h0M1508 1967h0M1528 1967h0M1532 1967h0M1565 1967h0M1570 1969h0M1577 1967h0M1595 1967h0M1657 1967h0M1660 1967h0M230 1971h0M297 1971h0M301 1972h0M354 1972h0M370 1971h0M799 1972h0M1398 1972h0M1431 1973h0M1451 1972h0M1460 1971h0M1471 1973h0M1479 1972h0M1487 1971h0M1529 1972h0M1545 1971h0M1557 1970h0M1570 1971h0M1574 1971h0M1613 1974h0M1618 1971h0M1625 1971h0M213 1975h0M222 1977h0M250 1976h0M255 1978h0M287 1977h0M293 1975h0M297 1977h0M300 1976h0M308 1977h0M310 1974h0M320 1974h0M328 1974h0M329 1978h0M351 1974h0M899 1975h0M1413 1977h0M1440 1977h0M1463 1974h0M1465 1976h0M1483 1974h0M1522 1975h0M1535 1977h0M1554 1974h0M1573 1974h0M1621 1976h0M1621 1977h0M1626 1977h0M1649 1976h0M1656 1974h0M231 1980h0M237 1979h0M239 1981h0M268 1980h0M275 1982h0M285 1982h0M308 1982h0M309 1980h0M314 1978h0M324 1980h0M336 1982h0M356 1980h0M802 1982h0M1402 1981h0M1419 1982h0M1421 1978h0M1479 1978h0M1499 1982h0M1507 1982h0M1512 1978h0M1528 1980h0M1538 1978h0M1564 1980h0M1626 1980h0M1631 1981h0M1631 1979h0M216 1985h0M223 1984h0M277 1983h0M306 1986h0M315 1983h0M316 1985h0M333 1986h0M353 1986h0M355 1986h0M896 1985h0M931 1985h0M960 1984h0M979 1986h0M1015 1985h0M1022 1986h0M1043 1986h0M1132 1986h0M1140 1984h0M1158 1984h0M1177 1985h0M1203 1985h0M1210 1984h0M1220 1985h0M1284 1986h0M1304 1985h0M1330 1984h0M1372 1985h0M1496 1984h0M1507 1986h0M1540 1986h0M1547 1985h0M1607 1984h0M1610 1986h0M1621 1986h0M1638 1985h0M1648 1984h0M1657 1986h0M251 1990h0M263 1988h0M279 1988h0M289 1988h0M315 1988h0M334 1986h0M340 1988h0M355 1986h0M429 1988h0M467 1988h0M476 1988h0M528 1988h0M549 1989h0M564 1989h0M648 1988h0M699 1988h0M738 1988h0M746 1990h0M764 1989h0M772 1990h0M789 1989h0M801 1990h0M895 1990h0M926 1989h0M941 1987h0M951 1987h0M970 1990h0M1059 1988h0M1075 1989h0M1086 1990h0M1105 1988h0M1148 1989h0M1186 1988h0M1239 1989h0M1255 1986h0M1267 1989h0M1293 1988h0M1310 1989h0M1337 1989h0M1357 1987h0M1364 1990h0M1381 1989h0M1435 1987h0M1451 1988h0M1476 1986h0M1480 1988h0M1523 1988h0M1536 1988h0M1549 1988h0M1566 1989h0M1597 1990h0M1598 1988h0M1625 1990h0M1633 1987h0M209 1993h0M225 1990h0M275 1992h0M292 1992h0M351 1993h0M370 1993h0M376 1991h0M387 1991h0M396 1990h0M402 1994h0M439 1990h0M447 1993h0M456 1990h0M484 1991h0M493 1993h0M501 1992h0M510 1993h0M520 1993h0M538 1992h0M576 1993h0M593 1993h0M609 1992h0M630 1993h0M636 1994h0M656 1992h0M682 1990h0M710 1991h0M727 1991h0M756 1994h0M780 1993h0M799 1990h0M907 1990h0M995 1990h0M1030 1990h0M1049 1991h0M1095 1990h0M1122 1991h0M1229 1990h0M1275 1991h0M1321 1990h0M1391 1991h0M1434 1991h0M1474 1992h0M1496 1992h0M1498 1993h0M1505 1993h0M1514 1990h0M1516 1991h0M1528 1992h0M1548 1991h0M1582 1993h0M239 1995h0M242 1996h0M242 1996h0M279 1995h0M305 1995h0M318 1996h0M318 1996h0M321 1996h0M332 1997h0M336 1994h0M353 1995h0M355 1996h0M583 1995h0M619 1995h0M690 1995h0M718 1994h0M1410 1994h0M1487 1996h0M1504 1995h0M1513 1997h0M1556 1997h0M1561 1997h0M1579 1996h0M1591 1997h0M1635 1996h0M1637 1997h0M1640 1997h0M238 1999h0M252 1999h0M308 1999h0M319 2000h0M1518 1999h0M1610 1999h0M1625 1998h0M1654 1999h0" stroke="#f7a900" stroke-width="17.0" stroke-linecap="round" fill="none"/>
<g fill="#fff"><circle cx="672" cy="1896" r="2.1"/><circle cx="801" cy="1852" r="2.2"/><circle cx="573" cy="1732" r="2.3"/><circle cx="419" cy="1835" r="1.6"/><circle cx="516" cy="1905" r="2.8"/><circle cx="388" cy="1938" r="2.0"/><circle cx="651" cy="1834" r="2.7"/><circle cx="512" cy="1778" r="2.2"/><circle cx="457" cy="1972" r="1.8"/><circle cx="783" cy="1943" r="1.4"/><circle cx="761" cy="1860" r="1.4"/><circle cx="646" cy="1857" r="2.8"/><circle cx="744" cy="1957" r="1.5"/><circle cx="431" cy="1813" r="1.5"/><circle cx="599" cy="1759" r="2.2"/><circle cx="590" cy="1750" r="2.6"/><circle cx="405" cy="1737" r="1.3"/><circle cx="486" cy="1840" r="2.5"/><circle cx="695" cy="1659" r="2.1"/><circle cx="560" cy="1977" r="1.7"/><circle cx="484" cy="1900" r="2.7"/><circle cx="591" cy="1924" r="1.7"/><circle cx="571" cy="1896" r="2.4"/><circle cx="695" cy="1726" r="1.8"/><circle cx="384" cy="1933" r="2.0"/><circle cx="749" cy="1876" r="2.2"/><circle cx="474" cy="1649" r="2.7"/><circle cx="537" cy="1664" r="1.7"/><circle cx="461" cy="1900" r="1.6"/><circle cx="524" cy="1984" r="1.8"/><circle cx="414" cy="1882" r="2.8"/><circle cx="683" cy="1788" r="1.5"/><circle cx="719" cy="1819" r="1.8"/><circle cx="406" cy="1850" r="2.1"/><circle cx="518" cy="1763" r="2.3"/><circle cx="435" cy="1903" r="1.3"/><circle cx="486" cy="1840" r="2.6"/><circle cx="722" cy="1757" r="2.9"/><circle cx="622" cy="1943" r="1.3"/><circle cx="668" cy="1969" r="1.8"/><circle cx="1018" cy="1938" r="1.6"/><circle cx="942" cy="1883" r="2.2"/><circle cx="1098" cy="1913" r="2.5"/><circle cx="1048" cy="1735" r="2.8"/><circle cx="1226" cy="1944" r="2.2"/><circle cx="1105" cy="1736" r="2.5"/><circle cx="1022" cy="1741" r="2.0"/><circle cx="1072" cy="1899" r="2.9"/><circle cx="1029" cy="1822" r="2.8"/><circle cx="1123" cy="1664" r="1.9"/><circle cx="1308" cy="1828" r="2.1"/><circle cx="1109" cy="1784" r="1.6"/><circle cx="1156" cy="1803" r="2.1"/><circle cx="920" cy="1948" r="1.5"/><circle cx="976" cy="1730" r="2.4"/><circle cx="1155" cy="1912" r="1.4"/><circle cx="1048" cy="1959" r="3.0"/><circle cx="1115" cy="1656" r="1.4"/><circle cx="1065" cy="1661" r="2.7"/><circle cx="1106" cy="1953" r="2.2"/><circle cx="905" cy="1845" r="2.5"/><circle cx="900" cy="1820" r="1.7"/><circle cx="1298" cy="1956" r="2.0"/><circle cx="1278" cy="1875" r="3.0"/><circle cx="1348" cy="1838" r="1.3"/><circle cx="1217" cy="1710" r="1.9"/><circle cx="995" cy="1707" r="1.7"/><circle cx="906" cy="1736" r="2.6"/><circle cx="1050" cy="1680" r="1.7"/><circle cx="1229" cy="1892" r="2.9"/><circle cx="1370" cy="1945" r="3.1"/><circle cx="1393" cy="1676" r="4.0"/><circle cx="1405" cy="1904" r="4.0"/><circle cx="1388" cy="1892" r="3.1"/><circle cx="1372" cy="1978" r="4.2"/><circle cx="1405" cy="1922" r="4.8"/><circle cx="1389" cy="1762" r="2.8"/><circle cx="1383" cy="1941" r="4.2"/><circle cx="1385" cy="1804" r="3.2"/><circle cx="1383" cy="1746" r="4.7"/><circle cx="1406" cy="1755" r="4.1"/><circle cx="1370" cy="1853" r="3.8"/><circle cx="1361" cy="1975" r="4.6"/><circle cx="1375" cy="1867" r="4.5"/></g>
<rect x="364" y="2375" width="429" height="293" fill="#1f287a"/>
<rect x="457" y="2669" width="336" height="33" fill="#1f287a"/>
<rect x="575" y="2697" width="219" height="24" fill="#1f287a"/>
<rect x="878" y="2375" width="454" height="330" fill="#1f287a"/>
<rect x="878" y="2710" width="151" height="33" fill="#1f287a"/>
<path d="M202 2214h0M257 2214h0M268 2213h0M288 2213h0M301 2214h0M308 2214h0M325 2214h0M645 2213h0M1025 2214h0M1060 2214h0M1068 2214h0M1086 2214h0M1187 2213h0M1278 2214h0M1370 2213h0M235 2214h0M276 2214h0M335 2214h0M592 2214h0M943 2215h0M959 2214h0M1047 2214h0M1054 2214h0M1178 2214h0M1199 2214h0M1383 2215h0M1528 2214h0M627 2218h0M1263 2219h0M1043 2225h0M1178 2224h0M218 2228h0M245 2228h0M282 2227h0M294 2228h0M294 2227h0M329 2230h0M334 2229h0M339 2229h0M351 2229h0M269 2231h0M274 2231h0M282 2232h0M309 2232h0M316 2231h0M322 2230h0M342 2231h0M1052 2230h0M1171 2232h0M218 2235h0M259 2235h0M276 2237h0M284 2238h0M296 2236h0M323 2236h0M1454 2235h0M221 2241h0M224 2240h0M248 2242h0M254 2238h0M281 2238h0M282 2241h0M336 2241h0M355 2240h0M1388 2241h0M1391 2238h0M1395 2240h0M209 2244h0M270 2243h0M276 2243h0M339 2243h0M341 2243h0M529 2245h0M1153 2244h0M1385 2244h0M273 2248h0M285 2250h0M300 2249h0M306 2247h0M329 2247h0M342 2248h0M351 2249h0M356 2246h0M738 2248h0M873 2248h0M1208 2250h0M1389 2250h0M1394 2246h0M1402 2247h0M237 2251h0M270 2252h0M309 2252h0M331 2253h0M336 2253h0M1123 2251h0M1379 2253h0M228 2255h0M258 2256h0M282 2256h0M323 2255h0M329 2257h0M331 2256h0M1382 2256h0M1508 2255h0M1538 2255h0M1585 2257h0M267 2258h0M276 2259h0M303 2258h0M309 2259h0M310 2258h0M330 2259h0M608 2259h0M1180 2260h0M1379 2259h0M1528 2260h0M1554 2261h0M1579 2260h0M222 2266h0M240 2262h0M261 2262h0M263 2264h0M274 2265h0M296 2265h0M333 2263h0M346 2265h0M483 2263h0M539 2264h0M1402 2265h0M1423 2264h0M240 2269h0M243 2267h0M244 2268h0M248 2268h0M273 2268h0M291 2269h0M298 2267h0M312 2268h0M351 2270h0M1350 2269h0M1399 2270h0M1538 2267h0M221 2273h0M225 2272h0M250 2274h0M262 2272h0M308 2271h0M323 2273h0M333 2273h0M340 2271h0M346 2273h0M1266 2274h0M207 2278h0M208 2276h0M211 2276h0M217 2276h0M270 2275h0M307 2276h0M307 2275h0M325 2275h0M1423 2277h0M200 2280h0M229 2279h0M238 2279h0M263 2280h0M296 2280h0M329 2280h0M605 2282h0M204 2285h0M236 2284h0M265 2285h0M281 2283h0M300 2285h0M349 2284h0M351 2285h0M1371 2284h0M1386 2286h0M1526 2284h0M253 2289h0M266 2290h0M269 2287h0M277 2288h0M282 2288h0M315 2289h0M315 2288h0M352 2290h0M359 2289h0M1374 2286h0M1392 2286h0M1526 2289h0M205 2293h0M228 2290h0M228 2291h0M263 2294h0M303 2291h0M316 2294h0M334 2293h0M346 2292h0M358 2294h0M600 2293h0M1387 2293h0M252 2295h0M260 2295h0M270 2298h0M276 2295h0M282 2297h0M301 2297h0M305 2297h0M320 2297h0M320 2298h0M335 2297h0M347 2294h0M380 2296h0M439 2297h0M572 2294h0M616 2296h0M1534 2295h0M1551 2296h0M1552 2297h0M207 2302h0M226 2300h0M228 2298h0M258 2300h0M261 2301h0M279 2299h0M289 2299h0M292 2301h0M293 2300h0M305 2299h0M309 2298h0M325 2301h0M329 2300h0M333 2299h0M395 2299h0M926 2299h0M1394 2301h0M1513 2301h0M1525 2300h0M207 2304h0M250 2304h0M268 2303h0M286 2306h0M308 2305h0M311 2303h0M316 2303h0M330 2302h0M338 2303h0M351 2303h0M358 2304h0M383 2306h0M393 2306h0M526 2305h0M541 2305h0M615 2304h0M1035 2306h0M1047 2305h0M1078 2302h0M208 2307h0M227 2306h0M240 2307h0M248 2308h0M266 2307h0M279 2309h0M283 2307h0M291 2307h0M322 2306h0M323 2309h0M329 2307h0M329 2308h0M346 2307h0M348 2308h0M367 2308h0M693 2307h0M1388 2308h0M1392 2309h0M1402 2307h0M217 2312h0M233 2313h0M278 2314h0M321 2311h0M350 2311h0M371 2311h0M396 2312h0M504 2312h0M558 2311h0M563 2312h0M1022 2312h0M1025 2311h0M1507 2314h0M1618 2311h0M200 2316h0M265 2315h0M282 2316h0M288 2317h0M299 2316h0M302 2315h0M303 2316h0M330 2314h0M342 2315h0M343 2316h0M344 2314h0M363 2318h0M625 2317h0M757 2318h0M1012 2317h0M1052 2318h0M1075 2317h0M1183 2315h0M1382 2318h0M1530 2317h0M211 2318h0M242 2320h0M248 2322h0M290 2319h0M293 2320h0M311 2319h0M313 2321h0M320 2320h0M328 2318h0M337 2321h0M351 2319h0M498 2321h0M578 2322h0M1098 2321h0M1105 2321h0M1215 2320h0M1384 2322h0M1392 2322h0M230 2322h0M279 2324h0M284 2325h0M285 2325h0M292 2325h0M308 2325h0M317 2325h0M324 2322h0M343 2325h0M343 2323h0M344 2325h0M348 2324h0M352 2325h0M376 2324h0M411 2326h0M464 2322h0M490 2322h0M608 2323h0M651 2324h0M665 2323h0M722 2325h0M869 2324h0M1324 2324h0M1376 2325h0M1399 2326h0M1400 2323h0M200 2329h0M233 2329h0M257 2328h0M258 2329h0M277 2328h0M299 2328h0M307 2328h0M310 2328h0M338 2327h0M344 2328h0M347 2328h0M350 2327h0M362 2327h0M372 2328h0M441 2328h0M757 2329h0M1526 2327h0M221 2334h0M224 2332h0M225 2331h0M274 2332h0M297 2330h0M309 2334h0M311 2333h0M355 2331h0M427 2331h0M521 2332h0M571 2332h0M648 2331h0M901 2331h0M1029 2332h0M1135 2333h0M1180 2332h0M1353 2333h0M1395 2333h0M202 2335h0M227 2336h0M237 2338h0M265 2338h0M280 2338h0M303 2337h0M348 2338h0M675 2337h0M925 2337h0M1033 2335h0M1296 2334h0M1398 2337h0M207 2340h0M268 2341h0M280 2338h0M300 2341h0M301 2340h0M302 2341h0M302 2338h0M319 2341h0M325 2338h0M328 2340h0M350 2338h0M352 2340h0M371 2339h0M378 2338h0M526 2340h0M622 2338h0M772 2341h0M1399 2341h0M1513 2339h0M235 2342h0M264 2344h0M275 2342h0M277 2345h0M325 2345h0M328 2342h0M365 2343h0M372 2343h0M390 2345h0M655 2345h0M1033 2344h0M1149 2346h0M1174 2346h0M1276 2346h0M1401 2345h0M1439 2345h0M1533 2343h0M1538 2342h0M277 2349h0M294 2348h0M299 2348h0M345 2346h0M377 2348h0M389 2348h0M432 2348h0M455 2346h0M483 2350h0M776 2348h0M910 2348h0M1106 2349h0M1372 2349h0M232 2352h0M233 2353h0M260 2352h0M312 2351h0M348 2351h0M350 2353h0M357 2350h0M359 2352h0M365 2353h0M497 2350h0M620 2354h0M668 2353h0M883 2352h0M1387 2353h0M1396 2351h0M229 2355h0M252 2356h0M269 2357h0M286 2354h0M291 2355h0M319 2354h0M326 2355h0M337 2357h0M344 2358h0M364 2356h0M376 2355h0M377 2358h0M382 2358h0M397 2355h0M433 2355h0M607 2357h0M631 2356h0M683 2356h0M711 2357h0M731 2355h0M769 2356h0M776 2356h0M879 2357h0M903 2358h0M931 2358h0M970 2356h0M1069 2355h0M1078 2356h0M1141 2355h0M1142 2358h0M1238 2357h0M1376 2355h0M1382 2358h0M226 2362h0M249 2361h0M251 2358h0M270 2361h0M277 2361h0M277 2359h0M322 2361h0M333 2359h0M337 2361h0M354 2361h0M380 2359h0M414 2361h0M496 2362h0M500 2361h0M610 2358h0M616 2360h0M691 2359h0M705 2360h0M778 2362h0M797 2359h0M800 2359h0M943 2359h0M987 2359h0M1049 2360h0M1119 2360h0M1135 2359h0M1136 2360h0M1188 2359h0M1247 2362h0M1302 2358h0M1304 2359h0M1321 2360h0M1346 2359h0M1393 2359h0M1418 2360h0M1426 2359h0M1445 2359h0M1515 2360h0M1551 2361h0M1561 2359h0M1604 2362h0M204 2364h0M215 2363h0M219 2365h0M240 2365h0M260 2366h0M268 2365h0M275 2365h0M315 2366h0M341 2365h0M347 2363h0M355 2365h0M359 2365h0M377 2362h0M406 2365h0M444 2363h0M447 2364h0M475 2366h0M539 2364h0M572 2366h0M671 2364h0M729 2362h0M896 2366h0M900 2364h0M932 2362h0M972 2365h0M973 2363h0M985 2364h0M1058 2366h0M1066 2363h0M1085 2362h0M1096 2365h0M1184 2362h0M1248 2365h0M1304 2366h0M1349 2365h0M1356 2364h0M1372 2364h0M1372 2364h0M1378 2365h0M1407 2365h0M1422 2363h0M1440 2363h0M1462 2363h0M1491 2365h0M1501 2366h0M1546 2363h0M1631 2365h0M200 2370h0M212 2368h0M218 2369h0M222 2368h0M317 2369h0M327 2368h0M329 2367h0M344 2370h0M347 2367h0M996 2366h0M1072 2367h0M1463 2370h0M1518 2367h0M1526 2367h0M1538 2369h0M1598 2368h0M1629 2366h0M202 2373h0M220 2370h0M231 2373h0M242 2373h0M259 2371h0M272 2372h0M279 2372h0M332 2370h0M355 2373h0M355 2373h0M398 2373h0M411 2373h0M426 2373h0M436 2373h0M465 2372h0M580 2372h0M591 2373h0M651 2373h0M662 2374h0M672 2373h0M696 2373h0M714 2372h0M779 2374h0M786 2372h0M879 2371h0M966 2373h0M986 2372h0M995 2373h0M1030 2371h0M1048 2373h0M1066 2371h0M1077 2372h0M1093 2373h0M1101 2372h0M1120 2373h0M1146 2373h0M1192 2372h0M1218 2373h0M1228 2372h0M1248 2373h0M1291 2373h0M1345 2371h0M1361 2372h0M1376 2373h0M1382 2374h0M1450 2371h0M1478 2373h0M1504 2373h0M1600 2371h0M1612 2372h0M230 2377h0M276 2377h0M285 2375h0M290 2376h0M297 2377h0M306 2376h0M317 2374h0M366 2375h0M368 2376h0M375 2378h0M383 2376h0M419 2376h0M447 2378h0M454 2375h0M473 2377h0M500 2376h0M534 2376h0M543 2376h0M561 2376h0M572 2375h0M599 2377h0M618 2375h0M635 2375h0M644 2376h0M679 2377h0M706 2378h0M733 2377h0M742 2378h0M751 2376h0M761 2375h0M770 2377h0M880 2377h0M888 2375h0M906 2375h0M942 2375h0M958 2376h0M975 2376h0M1006 2375h0M1040 2376h0M1057 2376h0M1083 2377h0M1113 2377h0M1131 2376h0M1167 2374h0M1200 2375h0M1211 2375h0M1237 2375h0M1257 2377h0M1281 2378h0M1301 2374h0M1311 2376h0M1317 2376h0M1327 2377h0M1330 2376h0M1355 2374h0M1379 2375h0M1525 2376h0M1547 2376h0M1590 2376h0M272 2378h0M277 2381h0M296 2381h0M317 2381h0M481 2379h0M506 2378h0M518 2378h0M555 2379h0M608 2379h0M625 2379h0M690 2379h0M725 2379h0M914 2378h0M930 2379h0M1157 2379h0M1184 2378h0M1343 2382h0M1355 2382h0M1356 2381h0M1358 2382h0M1365 2382h0M1373 2379h0M1413 2378h0M1544 2381h0M1642 2381h0M214 2383h0M219 2385h0M260 2385h0M264 2386h0M273 2383h0M279 2383h0M294 2384h0M294 2385h0M306 2382h0M311 2383h0M318 2383h0M328 2383h0M338 2384h0M796 2382h0M875 2386h0M1352 2382h0M1363 2383h0M1540 2384h0M208 2389h0M264 2386h0M275 2388h0M295 2390h0M298 2386h0M305 2388h0M306 2388h0M335 2389h0M339 2388h0M366 2386h0M1348 2387h0M1418 2387h0M1503 2389h0M1635 2389h0M233 2391h0M264 2392h0M267 2391h0M280 2393h0M302 2391h0M319 2390h0M878 2393h0M1332 2392h0M1481 2393h0M1518 2392h0M1547 2392h0M1582 2391h0M1600 2393h0M1639 2393h0M199 2396h0M205 2395h0M215 2397h0M239 2395h0M276 2397h0M294 2397h0M301 2398h0M318 2397h0M329 2395h0M790 2395h0M1352 2394h0M1386 2396h0M1419 2398h0M229 2399h0M241 2399h0M264 2401h0M284 2401h0M288 2400h0M304 2401h0M313 2400h0M323 2401h0M353 2400h0M795 2402h0M879 2401h0M1393 2398h0M1398 2400h0M1415 2400h0M1416 2400h0M1422 2398h0M1472 2400h0M1542 2398h0M1603 2402h0M1612 2400h0M223 2403h0M281 2405h0M289 2406h0M307 2405h0M346 2403h0M351 2403h0M361 2404h0M1402 2403h0M1408 2406h0M1429 2402h0M1505 2402h0M1510 2405h0M206 2409h0M233 2410h0M253 2408h0M258 2408h0M302 2408h0M325 2409h0M352 2408h0M1407 2409h0M1513 2409h0M1513 2410h0M1532 2408h0M1532 2407h0M1532 2407h0M1541 2407h0M1619 2410h0M1623 2408h0M1640 2410h0M205 2412h0M217 2410h0M319 2411h0M334 2413h0M345 2411h0M362 2410h0M793 2412h0M880 2412h0M1334 2412h0M1382 2414h0M1393 2411h0M1404 2412h0M1525 2412h0M1602 2414h0M1602 2414h0M218 2415h0M223 2415h0M226 2417h0M239 2416h0M270 2417h0M271 2416h0M301 2415h0M304 2418h0M355 2415h0M1384 2414h0M1392 2415h0M1402 2415h0M1403 2414h0M1415 2417h0M1527 2418h0M1636 2415h0M243 2418h0M262 2419h0M312 2422h0M314 2421h0M340 2421h0M366 2421h0M791 2422h0M881 2419h0M1332 2422h0M1389 2418h0M1405 2421h0M1504 2421h0M1537 2421h0M1588 2422h0M1598 2420h0M1611 2419h0M1627 2420h0M1634 2419h0M1637 2420h0M200 2423h0M217 2423h0M252 2425h0M262 2424h0M271 2425h0M1411 2424h0M1414 2425h0M1456 2422h0M1488 2426h0M1507 2423h0M1577 2423h0M1586 2423h0M1606 2425h0M1626 2426h0M1640 2424h0M203 2429h0M223 2427h0M224 2430h0M230 2429h0M233 2428h0M262 2427h0M268 2428h0M271 2428h0M318 2426h0M318 2429h0M319 2428h0M324 2427h0M366 2430h0M1334 2430h0M1344 2430h0M1376 2426h0M1425 2427h0M1470 2428h0M1509 2426h0M1592 2429h0M1599 2427h0M1617 2427h0M1622 2428h0M258 2431h0M260 2433h0M317 2434h0M327 2430h0M334 2430h0M348 2430h0M355 2434h0M792 2431h0M877 2430h0M1394 2432h0M1547 2433h0M1568 2430h0M1577 2432h0M1614 2431h0M1624 2433h0M235 2436h0M236 2437h0M276 2438h0M297 2436h0M796 2438h0M1367 2437h0M1382 2438h0M1422 2435h0M1501 2435h0M1516 2434h0M1535 2438h0M1602 2435h0M1606 2435h0M1608 2434h0M1626 2435h0M1637 2438h0M1640 2436h0M1640 2437h0M216 2441h0M225 2441h0M259 2439h0M285 2440h0M287 2439h0M326 2439h0M331 2439h0M341 2439h0M361 2439h0M876 2439h0M1333 2440h0M1343 2439h0M1380 2438h0M1384 2440h0M1386 2440h0M1419 2439h0M1573 2441h0M1597 2442h0M1600 2440h0M1621 2441h0M1631 2439h0M227 2446h0M261 2446h0M267 2442h0M311 2444h0M315 2445h0M326 2445h0M330 2442h0M346 2444h0M349 2443h0M877 2446h0M1360 2443h0M1377 2443h0M1398 2444h0M1402 2444h0M1433 2443h0M1487 2445h0M1511 2445h0M1513 2444h0M1592 2446h0M1623 2445h0M209 2448h0M240 2449h0M252 2447h0M300 2450h0M308 2449h0M331 2446h0M335 2449h0M366 2448h0M1329 2448h0M1355 2448h0M1364 2450h0M1373 2450h0M1376 2449h0M1395 2447h0M1513 2447h0M1534 2448h0M1537 2450h0M1552 2446h0M1627 2446h0M1637 2446h0M1641 2447h0M213 2452h0M245 2453h0M263 2454h0M269 2452h0M298 2454h0M330 2451h0M353 2453h0M1344 2451h0M1364 2454h0M1365 2453h0M1371 2451h0M1377 2453h0M1398 2453h0M1404 2453h0M1410 2454h0M1484 2453h0M1514 2451h0M1611 2452h0M1630 2450h0M1637 2452h0M1640 2453h0M1643 2452h0M210 2457h0M223 2455h0M232 2458h0M232 2456h0M237 2457h0M242 2456h0M250 2457h0M278 2455h0M292 2456h0M294 2455h0M330 2457h0M792 2457h0M878 2456h0M1334 2456h0M1352 2456h0M1370 2455h0M1411 2457h0M1466 2456h0M1534 2455h0M1549 2457h0M1553 2456h0M1606 2455h0M1626 2456h0M1631 2454h0M1634 2454h0M1637 2455h0M242 2462h0M323 2459h0M328 2460h0M343 2459h0M1353 2460h0M1358 2460h0M1368 2462h0M1400 2459h0M1405 2461h0M1426 2460h0M1470 2462h0M1477 2459h0M1535 2461h0M1545 2461h0M1566 2458h0M1599 2461h0M1618 2459h0M1621 2460h0M1622 2459h0M1628 2462h0M1631 2459h0M1634 2459h0M219 2462h0M227 2463h0M262 2464h0M297 2464h0M309 2462h0M320 2466h0M337 2463h0M368 2464h0M1385 2463h0M1392 2463h0M1397 2464h0M1430 2465h0M1438 2464h0M1473 2464h0M1506 2464h0M1559 2466h0M1600 2464h0M1602 2465h0M1607 2462h0M1622 2465h0M1627 2465h0M1632 2466h0M215 2466h0M233 2467h0M261 2469h0M275 2468h0M298 2469h0M344 2467h0M793 2467h0M1332 2467h0M1372 2469h0M1374 2467h0M1381 2468h0M1382 2466h0M1382 2467h0M1429 2466h0M1443 2466h0M1451 2467h0M1493 2470h0M1514 2468h0M1538 2466h0M1578 2468h0M1615 2470h0M1616 2469h0M209 2472h0M215 2471h0M224 2472h0M261 2471h0M299 2470h0M300 2474h0M305 2474h0M305 2471h0M310 2471h0M314 2472h0M328 2473h0M354 2471h0M1352 2472h0M1366 2472h0M1398 2471h0M1419 2470h0M1429 2473h0M1467 2472h0M1522 2473h0M1535 2472h0M1568 2472h0M1578 2472h0M1593 2471h0M1601 2472h0M1609 2473h0M201 2477h0M274 2477h0M280 2475h0M295 2478h0M348 2477h0M349 2474h0M368 2474h0M881 2476h0M1333 2476h0M1610 2475h0M1643 2476h0M199 2480h0M215 2482h0M217 2480h0M222 2480h0M235 2480h0M260 2482h0M264 2479h0M277 2480h0M313 2480h0M329 2481h0M341 2481h0M341 2478h0M348 2480h0M351 2480h0M1370 2481h0M1385 2481h0M1394 2482h0M1420 2481h0M1449 2478h0M1451 2481h0M1504 2480h0M1580 2479h0M200 2483h0M227 2486h0M235 2483h0M243 2483h0M295 2485h0M317 2483h0M331 2485h0M346 2482h0M361 2485h0M795 2483h0M878 2484h0M1332 2485h0M1349 2484h0M1411 2485h0M1467 2483h0M1492 2485h0M1504 2485h0M1518 2486h0M1627 2483h0M201 2487h0M234 2489h0M245 2488h0M247 2488h0M254 2490h0M264 2487h0M268 2490h0M285 2486h0M293 2487h0M335 2486h0M339 2490h0M354 2489h0M1431 2488h0M1448 2489h0M1488 2487h0M1506 2486h0M1541 2488h0M1553 2486h0M1586 2490h0M1587 2489h0M1593 2487h0M1625 2487h0M1641 2486h0M228 2493h0M229 2493h0M260 2492h0M311 2491h0M340 2492h0M351 2490h0M364 2491h0M878 2492h0M1330 2491h0M1347 2490h0M1354 2492h0M1373 2490h0M1380 2493h0M1389 2491h0M1401 2491h0M1411 2492h0M1486 2494h0M1516 2490h0M1545 2493h0M1561 2491h0M1580 2494h0M1588 2492h0M1611 2494h0M1638 2492h0M1642 2493h0M247 2495h0M299 2495h0M1353 2496h0M1368 2495h0M1371 2494h0M1397 2497h0M1404 2496h0M1528 2498h0M1621 2496h0M263 2501h0M315 2500h0M336 2502h0M340 2500h0M356 2501h0M792 2501h0M874 2500h0M1333 2500h0M1378 2500h0M1382 2501h0M1391 2502h0M1408 2500h0M1528 2501h0M1600 2500h0M1634 2502h0M206 2506h0M265 2505h0M299 2503h0M304 2506h0M316 2504h0M317 2505h0M364 2503h0M1458 2505h0M1601 2503h0M1612 2503h0M1629 2504h0M199 2507h0M216 2509h0M217 2510h0M219 2507h0M228 2507h0M267 2508h0M299 2508h0M301 2509h0M796 2508h0M879 2510h0M1341 2508h0M1354 2507h0M1361 2510h0M1394 2510h0M1403 2507h0M1424 2507h0M1426 2508h0M1490 2508h0M1529 2508h0M1554 2510h0M1566 2507h0M1611 2510h0M1628 2507h0M1643 2506h0M292 2513h0M317 2512h0M334 2514h0M348 2513h0M1388 2512h0M1396 2513h0M1397 2514h0M1411 2511h0M1462 2513h0M1513 2512h0M1533 2510h0M1605 2513h0M204 2515h0M250 2516h0M315 2518h0M320 2516h0M321 2514h0M346 2515h0M1363 2517h0M1364 2517h0M1410 2517h0M1433 2514h0M1450 2515h0M1515 2516h0M1584 2516h0M1610 2518h0M1618 2517h0M242 2520h0M253 2521h0M282 2521h0M302 2519h0M318 2521h0M343 2519h0M361 2519h0M790 2519h0M876 2518h0M1334 2518h0M1349 2518h0M1354 2521h0M1357 2518h0M1395 2520h0M1403 2520h0M1460 2521h0M1491 2520h0M1551 2522h0M1603 2518h0M1634 2519h0M203 2522h0M209 2525h0M275 2522h0M1342 2523h0M1344 2523h0M1397 2525h0M1588 2524h0M1622 2523h0M1642 2524h0M1643 2526h0M232 2528h0M253 2527h0M283 2527h0M361 2529h0M797 2527h0M881 2529h0M1334 2528h0M1366 2527h0M1389 2530h0M1405 2526h0M1434 2527h0M1449 2528h0M1475 2529h0M1525 2528h0M1535 2529h0M1580 2527h0M1599 2528h0M1613 2528h0M1615 2526h0M1616 2529h0M227 2530h0M244 2532h0M252 2534h0M287 2530h0M310 2532h0M341 2531h0M1388 2534h0M1501 2533h0M1506 2531h0M1579 2530h0M1579 2533h0M1628 2533h0M211 2535h0M222 2534h0M228 2535h0M235 2535h0M248 2536h0M258 2535h0M289 2536h0M310 2536h0M349 2535h0M362 2537h0M791 2538h0M1332 2536h0M1377 2537h0M1405 2537h0M1430 2537h0M1487 2536h0M1490 2538h0M1518 2534h0M1523 2535h0M1593 2536h0M1604 2537h0M1605 2538h0M1616 2535h0M1621 2538h0M1622 2535h0M231 2539h0M235 2540h0M241 2542h0M241 2542h0M245 2542h0M251 2540h0M343 2540h0M1343 2539h0M1357 2539h0M1434 2540h0M1473 2541h0M1494 2539h0M1517 2542h0M1537 2540h0M1579 2541h0M1604 2541h0M1614 2539h0M1616 2540h0M208 2542h0M222 2542h0M223 2543h0M253 2545h0M292 2543h0M362 2545h0M876 2546h0M1359 2544h0M1379 2544h0M1425 2545h0M1512 2542h0M1539 2544h0M1541 2545h0M1541 2545h0M1554 2543h0M1555 2545h0M236 2548h0M346 2550h0M796 2547h0M1331 2546h0M1354 2548h0M1376 2547h0M1380 2546h0M1384 2549h0M1408 2547h0M1420 2549h0M1507 2547h0M1520 2548h0M1557 2548h0M1600 2550h0M1624 2549h0M249 2551h0M262 2553h0M302 2551h0M306 2554h0M335 2554h0M339 2551h0M1343 2552h0M1344 2552h0M1345 2553h0M1377 2554h0M1391 2551h0M1417 2553h0M1430 2553h0M1478 2553h0M1486 2551h0M1495 2551h0M1547 2550h0M1603 2553h0M1631 2554h0M1631 2554h0M1642 2554h0M231 2556h0M353 2558h0M362 2557h0M792 2557h0M1335 2556h0M1379 2556h0M1382 2558h0M1434 2557h0M1528 2558h0M1544 2554h0M1617 2555h0M1620 2557h0M1627 2554h0M217 2560h0M222 2560h0M246 2558h0M250 2559h0M264 2559h0M277 2561h0M282 2559h0M300 2561h0M1343 2558h0M1359 2561h0M1364 2560h0M1372 2561h0M1399 2560h0M1400 2559h0M1401 2561h0M1501 2562h0M1511 2560h0M1514 2559h0M1529 2561h0M1530 2560h0M1602 2560h0M1629 2561h0M1631 2562h0M1638 2559h0M241 2564h0M249 2564h0M276 2565h0M286 2562h0M296 2565h0M304 2564h0M312 2564h0M325 2566h0M362 2565h0M794 2563h0M876 2565h0M1330 2566h0M1352 2564h0M1356 2566h0M1367 2564h0M1414 2565h0M1521 2565h0M1527 2564h0M1590 2565h0M1629 2565h0M1631 2563h0M223 2570h0M243 2569h0M249 2568h0M284 2566h0M298 2567h0M312 2569h0M333 2569h0M1352 2568h0M1366 2568h0M1387 2568h0M1402 2567h0M1417 2567h0M1446 2569h0M1452 2569h0M1530 2568h0M1598 2567h0M1618 2568h0M1643 2568h0M199 2573h0M203 2570h0M262 2574h0M291 2572h0M319 2572h0M341 2570h0M342 2574h0M368 2574h0M797 2572h0M874 2573h0M1361 2573h0M1421 2572h0M1451 2571h0M1488 2571h0M1497 2570h0M1521 2571h0M1533 2571h0M1596 2572h0M1603 2574h0M1632 2571h0M220 2576h0M243 2575h0M294 2578h0M303 2575h0M322 2574h0M331 2577h0M1335 2575h0M1380 2577h0M1407 2575h0M1421 2575h0M1512 2577h0M1599 2578h0M1600 2575h0M1620 2574h0M249 2581h0M292 2582h0M295 2581h0M311 2581h0M313 2582h0M361 2581h0M880 2581h0M1357 2582h0M1392 2581h0M1400 2581h0M1481 2581h0M1499 2578h0M1519 2580h0M1566 2578h0M1596 2581h0M1602 2582h0M1605 2582h0M1607 2579h0M1618 2581h0M210 2583h0M214 2584h0M248 2586h0M287 2583h0M797 2583h0M1333 2582h0M1411 2583h0M1417 2585h0M1432 2586h0M1502 2585h0M1503 2585h0M1528 2585h0M1547 2584h0M1601 2584h0M1609 2583h0M1614 2584h0M1629 2584h0M1637 2583h0M201 2588h0M204 2587h0M223 2589h0M223 2588h0M225 2587h0M250 2588h0M254 2590h0M332 2589h0M354 2587h0M355 2588h0M1399 2590h0M1507 2589h0M1578 2588h0M1606 2588h0M1628 2589h0M203 2592h0M208 2592h0M264 2591h0M271 2592h0M288 2590h0M293 2591h0M324 2592h0M333 2594h0M361 2590h0M793 2592h0M881 2593h0M1329 2593h0M1374 2594h0M1415 2592h0M1427 2593h0M1451 2592h0M1461 2592h0M1475 2590h0M1504 2591h0M1516 2590h0M1525 2593h0M1526 2593h0M1612 2593h0M1615 2593h0M1634 2594h0M1641 2591h0M1643 2592h0M214 2594h0M232 2598h0M249 2594h0M282 2594h0M325 2597h0M329 2596h0M1375 2595h0M1413 2596h0M1418 2597h0M1437 2596h0M1501 2598h0M1554 2597h0M1607 2595h0M200 2600h0M224 2600h0M232 2601h0M240 2600h0M250 2600h0M250 2599h0M266 2600h0M289 2599h0M366 2599h0M792 2600h0M879 2601h0M1331 2600h0M1370 2599h0M1377 2599h0M1383 2600h0M1534 2601h0M1547 2598h0M1620 2599h0M1628 2600h0M1642 2600h0M203 2605h0M265 2604h0M301 2606h0M1343 2606h0M1385 2603h0M1404 2606h0M1486 2605h0M1507 2604h0M1583 2605h0M1593 2605h0M212 2608h0M244 2609h0M271 2607h0M273 2607h0M280 2607h0M289 2609h0M311 2606h0M793 2609h0M876 2608h0M1333 2609h0M1343 2610h0M1352 2608h0M1366 2607h0M1436 2606h0M1534 2610h0M1539 2609h0M1590 2609h0M1608 2606h0M1627 2610h0M1642 2608h0M1642 2609h0M203 2613h0M233 2610h0M367 2611h0M1354 2613h0M1364 2612h0M1403 2613h0M1441 2613h0M1481 2611h0M1495 2614h0M1534 2611h0M1549 2611h0M1612 2612h0M1619 2612h0M1629 2614h0M213 2615h0M247 2615h0M329 2616h0M346 2618h0M363 2617h0M876 2618h0M1335 2618h0M1390 2616h0M1392 2617h0M1518 2618h0M1522 2616h0M1539 2614h0M1551 2616h0M1559 2615h0M1614 2617h0M1620 2615h0M1639 2616h0M216 2620h0M276 2622h0M1350 2619h0M1411 2621h0M1440 2622h0M205 2623h0M219 2623h0M219 2626h0M235 2625h0M245 2624h0M251 2626h0M252 2623h0M292 2624h0M313 2625h0M345 2625h0M874 2626h0M1334 2625h0M1390 2623h0M1404 2624h0M1408 2624h0M1421 2626h0M1432 2626h0M1517 2624h0M1520 2623h0M1528 2625h0M1576 2623h0M1585 2626h0M1620 2624h0M223 2629h0M234 2628h0M244 2627h0M289 2627h0M363 2629h0M793 2628h0M1389 2630h0M1392 2626h0M1443 2627h0M1453 2626h0M1461 2627h0M1482 2629h0M1501 2627h0M1561 2629h0M1569 2628h0M1619 2628h0M1622 2629h0M1634 2629h0M1639 2628h0M319 2632h0M331 2633h0M1381 2631h0M1457 2631h0M1600 2632h0M1635 2632h0M218 2636h0M237 2637h0M247 2638h0M331 2636h0M796 2638h0M881 2636h0M1344 2636h0M1369 2634h0M1473 2638h0M1486 2635h0M1517 2636h0M1589 2637h0M1612 2635h0M1630 2637h0M1640 2636h0M198 2640h0M213 2641h0M221 2638h0M238 2642h0M254 2639h0M309 2642h0M1350 2642h0M1373 2638h0M1379 2639h0M1409 2642h0M1424 2640h0M1454 2640h0M1468 2640h0M1483 2639h0M1510 2642h0M1576 2638h0M1610 2642h0M1611 2640h0M1616 2640h0M1617 2639h0M1625 2638h0M1636 2641h0M200 2644h0M224 2643h0M225 2645h0M242 2646h0M255 2643h0M340 2642h0M364 2644h0M797 2645h0M875 2645h0M1386 2643h0M1404 2644h0M1447 2642h0M1464 2642h0M1465 2644h0M1482 2645h0M1514 2645h0M1586 2643h0M1604 2645h0M1611 2646h0M1619 2644h0M1626 2642h0M1634 2644h0M219 2648h0M235 2648h0M273 2648h0M313 2650h0M319 2649h0M328 2648h0M1331 2646h0M1364 2647h0M1374 2650h0M1430 2649h0M1467 2646h0M1512 2649h0M1554 2648h0M1589 2646h0M1612 2648h0M330 2653h0M340 2652h0M362 2654h0M792 2654h0M1365 2652h0M1386 2653h0M1398 2652h0M1480 2653h0M1537 2653h0M1641 2653h0M219 2655h0M222 2655h0M227 2656h0M246 2658h0M339 2658h0M877 2654h0M1331 2655h0M1370 2656h0M1566 2658h0M1623 2655h0M1627 2655h0M241 2659h0M327 2658h0M337 2661h0M882 2662h0M1398 2658h0M1458 2660h0M1518 2659h0M1605 2661h0M225 2666h0M231 2663h0M232 2666h0M279 2663h0M285 2662h0M318 2665h0M355 2663h0M368 2665h0M499 2664h0M558 2665h0M573 2665h0M585 2665h0M602 2665h0M617 2665h0M648 2665h0M663 2665h0M691 2665h0M704 2666h0M725 2665h0M746 2666h0M797 2663h0M1329 2664h0M1469 2664h0M1498 2666h0M1499 2666h0M1501 2665h0M1509 2663h0M1519 2663h0M1606 2664h0M1611 2663h0M1623 2665h0M1640 2663h0M241 2670h0M331 2669h0M402 2667h0M433 2669h0M458 2667h0M459 2667h0M465 2670h0M467 2669h0M473 2668h0M485 2669h0M517 2666h0M521 2669h0M538 2668h0M543 2669h0M545 2667h0M552 2666h0M567 2666h0M572 2666h0M592 2667h0M609 2667h0M610 2666h0M626 2668h0M637 2667h0M664 2666h0M671 2669h0M679 2668h0M683 2669h0M699 2668h0M716 2670h0M729 2667h0M733 2668h0M735 2668h0M743 2666h0M762 2669h0M770 2670h0M772 2670h0M777 2666h0M779 2669h0M787 2669h0M792 2668h0M1388 2669h0M1469 2668h0M1490 2667h0M1570 2669h0M1586 2666h0M1610 2667h0M1619 2669h0M1640 2669h0M204 2672h0M253 2671h0M270 2673h0M273 2672h0M335 2672h0M372 2672h0M381 2671h0M391 2670h0M418 2671h0M445 2672h0M450 2670h0M454 2671h0M455 2672h0M455 2670h0M474 2672h0M491 2671h0M510 2671h0M512 2672h0M536 2670h0M561 2671h0M582 2671h0M588 2670h0M597 2672h0M617 2671h0M628 2672h0M670 2671h0M687 2670h0M699 2672h0M717 2671h0M752 2671h0M877 2673h0M1369 2674h0M1386 2672h0M1424 2671h0M1428 2671h0M1439 2673h0M1446 2670h0M1471 2672h0M1600 2672h0M1617 2670h0M1640 2674h0M213 2675h0M254 2675h0M259 2675h0M271 2677h0M282 2678h0M327 2674h0M345 2675h0M411 2677h0M424 2677h0M427 2678h0M427 2677h0M438 2677h0M453 2676h0M458 2677h0M791 2676h0M1414 2675h0M1429 2675h0M1432 2677h0M1513 2677h0M1573 2674h0M1584 2675h0M1617 2676h0M239 2680h0M241 2680h0M251 2680h0M252 2679h0M412 2680h0M425 2679h0M428 2679h0M440 2680h0M468 2680h0M1335 2682h0M1345 2679h0M1365 2680h0M1445 2679h0M1452 2681h0M1454 2678h0M1594 2681h0M1609 2682h0M1619 2680h0M1642 2678h0M208 2686h0M216 2685h0M290 2683h0M370 2685h0M792 2685h0M879 2683h0M1368 2683h0M1426 2683h0M1434 2682h0M1492 2684h0M1551 2686h0M1595 2682h0M1623 2686h0M1637 2682h0M213 2686h0M300 2686h0M398 2688h0M458 2686h0M1347 2688h0M1373 2687h0M1454 2690h0M1459 2688h0M1606 2688h0M1609 2687h0M1617 2687h0M214 2693h0M251 2692h0M277 2693h0M366 2693h0M426 2693h0M427 2692h0M450 2692h0M460 2693h0M468 2694h0M554 2694h0M628 2694h0M756 2694h0M879 2692h0M1330 2692h0M1413 2692h0M1440 2692h0M1442 2694h0M1462 2692h0M1502 2692h0M1516 2694h0M1521 2693h0M1542 2693h0M1548 2691h0M1551 2692h0M1559 2691h0M1561 2691h0M1575 2691h0M1612 2691h0M1616 2690h0M1618 2693h0M1641 2694h0M204 2695h0M205 2698h0M252 2694h0M252 2696h0M294 2697h0M322 2696h0M362 2698h0M405 2698h0M439 2697h0M450 2697h0M530 2698h0M555 2696h0M564 2698h0M569 2698h0M575 2696h0M593 2697h0M594 2694h0M604 2696h0M610 2697h0M636 2698h0M682 2694h0M690 2696h0M709 2696h0M764 2696h0M781 2696h0M790 2695h0M792 2697h0M881 2698h0M1348 2695h0M1406 2696h0M1438 2697h0M1438 2695h0M1537 2698h0M1569 2694h0M1581 2694h0M1603 2696h0M1608 2697h0M1622 2698h0M1641 2697h0M207 2700h0M230 2699h0M235 2698h0M278 2701h0M293 2699h0M313 2699h0M325 2699h0M336 2699h0M389 2701h0M404 2701h0M424 2702h0M433 2702h0M462 2698h0M467 2700h0M469 2700h0M483 2702h0M493 2702h0M510 2701h0M537 2698h0M545 2701h0M549 2698h0M550 2699h0M563 2701h0M564 2699h0M582 2698h0M600 2700h0M611 2701h0M644 2701h0M647 2700h0M656 2702h0M657 2701h0M664 2699h0M665 2699h0M674 2701h0M674 2698h0M699 2700h0M710 2702h0M720 2699h0M721 2700h0M729 2701h0M737 2701h0M748 2701h0M753 2701h0M763 2698h0M770 2699h0M774 2699h0M781 2700h0M797 2698h0M968 2702h0M985 2702h0M1085 2702h0M1138 2701h0M1147 2702h0M1236 2702h0M1267 2702h0M1332 2701h0M1395 2699h0M1416 2700h0M1424 2698h0M1431 2701h0M1519 2700h0M1520 2700h0M1535 2700h0M1545 2701h0M1546 2699h0M1556 2702h0M1576 2698h0M1581 2699h0M1603 2700h0M1614 2701h0M1626 2700h0M1642 2701h0M213 2705h0M227 2706h0M232 2702h0M357 2704h0M384 2703h0M396 2702h0M428 2705h0M435 2703h0M447 2704h0M457 2702h0M476 2702h0M521 2705h0M536 2702h0M556 2703h0M558 2702h0M567 2706h0M620 2702h0M627 2703h0M635 2705h0M690 2704h0M725 2703h0M746 2702h0M790 2703h0M876 2704h0M887 2704h0M896 2705h0M933 2702h0M949 2702h0M977 2702h0M1003 2702h0M1047 2704h0M1066 2702h0M1092 2704h0M1110 2704h0M1121 2705h0M1155 2705h0M1166 2703h0M1201 2704h0M1228 2705h0M1275 2705h0M1281 2702h0M1292 2704h0M1301 2703h0M1308 2706h0M1317 2704h0M1327 2704h0M1479 2704h0M1559 2704h0M1564 2704h0M1579 2705h0M1588 2702h0M1598 2703h0M1641 2706h0M244 2706h0M312 2706h0M342 2707h0M361 2710h0M427 2710h0M436 2709h0M544 2709h0M555 2710h0M557 2708h0M575 2708h0M791 2707h0M880 2709h0M903 2709h0M907 2708h0M915 2706h0M924 2707h0M932 2707h0M940 2708h0M942 2707h0M951 2708h0M958 2706h0M960 2708h0M985 2707h0M994 2709h0M1002 2707h0M1011 2706h0M1013 2708h0M1021 2707h0M1022 2708h0M1029 2710h0M1042 2706h0M1057 2708h0M1075 2708h0M1211 2709h0M1219 2706h0M1248 2707h0M1258 2708h0M1406 2709h0M1414 2707h0M1493 2709h0M1498 2708h0M1513 2708h0M1557 2708h0M1587 2708h0M1591 2709h0M1605 2706h0M1609 2707h0M1625 2710h0M388 2712h0M394 2711h0M432 2713h0M438 2710h0M514 2711h0M524 2711h0M529 2714h0M565 2712h0M583 2712h0M877 2713h0M886 2711h0M922 2712h0M970 2712h0M1354 2714h0M1381 2714h0M1430 2711h0M1460 2713h0M1472 2710h0M1560 2712h0M1582 2712h0M201 2718h0M247 2716h0M286 2718h0M320 2716h0M340 2717h0M369 2718h0M380 2718h0M421 2717h0M448 2716h0M455 2717h0M484 2715h0M521 2716h0M535 2716h0M573 2717h0M792 2715h0M1011 2716h0M1048 2717h0M1060 2716h0M1064 2716h0M1073 2718h0M1074 2717h0M1105 2717h0M1164 2716h0M1223 2718h0M1238 2715h0M1349 2718h0M1372 2718h0M1376 2714h0M1447 2717h0M1457 2718h0M1500 2715h0M234 2721h0M322 2720h0M375 2719h0M396 2722h0M418 2722h0M434 2719h0M435 2719h0M471 2721h0M491 2721h0M537 2720h0M556 2720h0M594 2720h0M601 2718h0M610 2721h0M684 2721h0M719 2721h0M729 2719h0M745 2721h0M757 2719h0M790 2721h0M878 2719h0M1015 2721h0M1031 2720h0M1055 2720h0M1068 2719h0M1164 2721h0M1238 2719h0M1261 2720h0M1270 2722h0M1296 2718h0M1446 2720h0M1456 2719h0M1539 2719h0M1606 2720h0M227 2725h0M239 2723h0M254 2723h0M303 2726h0M335 2725h0M415 2724h0M460 2723h0M470 2724h0M534 2722h0M561 2724h0M562 2724h0M584 2725h0M619 2723h0M637 2723h0M648 2725h0M654 2725h0M664 2723h0M699 2723h0M708 2724h0M736 2725h0M774 2723h0M783 2725h0M1013 2723h0M1027 2724h0M1070 2724h0M1099 2725h0M1203 2723h0M1236 2724h0M1282 2724h0M1303 2722h0M1358 2725h0M1394 2724h0M1545 2724h0M1558 2724h0M1571 2724h0M1606 2723h0M1608 2724h0M1608 2722h0M1610 2725h0M1620 2724h0M207 2729h0M228 2728h0M254 2728h0M340 2729h0M341 2729h0M352 2729h0M378 2729h0M451 2728h0M524 2727h0M545 2729h0M550 2729h0M570 2729h0M593 2730h0M876 2727h0M1017 2726h0M1024 2727h0M1029 2728h0M1032 2729h0M1036 2727h0M1146 2729h0M1146 2727h0M1199 2729h0M1272 2729h0M1321 2729h0M1326 2728h0M1385 2727h0M1405 2729h0M1418 2729h0M1445 2727h0M1507 2729h0M1542 2727h0M1571 2727h0M1586 2730h0M1591 2730h0M1608 2728h0M1629 2727h0M1630 2729h0M210 2733h0M210 2733h0M215 2731h0M232 2732h0M243 2731h0M318 2733h0M452 2734h0M472 2734h0M567 2732h0M583 2732h0M681 2732h0M690 2730h0M1030 2731h0M1040 2732h0M1063 2731h0M1066 2733h0M1068 2730h0M1141 2732h0M1157 2732h0M1169 2731h0M1315 2732h0M1322 2733h0M1336 2732h0M1374 2732h0M1439 2732h0M1503 2733h0M1612 2731h0M220 2737h0M233 2737h0M238 2735h0M372 2736h0M373 2737h0M475 2735h0M601 2738h0M631 2736h0M660 2736h0M675 2737h0M715 2736h0M742 2735h0M751 2735h0M757 2737h0M874 2737h0M1023 2737h0M1026 2738h0M1031 2737h0M1056 2735h0M1097 2737h0M1210 2738h0M1215 2738h0M1277 2736h0M1340 2737h0M1370 2736h0M1469 2737h0M1520 2735h0M1525 2738h0M1630 2737h0M224 2740h0M268 2742h0M311 2739h0M447 2738h0M460 2740h0M509 2738h0M528 2740h0M649 2738h0M681 2741h0M692 2739h0M695 2738h0M752 2740h0M797 2741h0M896 2739h0M913 2742h0M921 2738h0M943 2740h0M960 2739h0M969 2739h0M978 2739h0M995 2741h0M1004 2739h0M1045 2739h0M1054 2740h0M1061 2739h0M1062 2741h0M1095 2740h0M1106 2742h0M1182 2741h0M1194 2741h0M1209 2741h0M1225 2739h0M1303 2741h0M1319 2740h0M1359 2739h0M1364 2738h0M1381 2742h0M1438 2739h0M1530 2741h0M1631 2739h0M311 2742h0M345 2745h0M352 2745h0M355 2742h0M433 2745h0M500 2745h0M503 2745h0M542 2743h0M577 2744h0M696 2742h0M771 2743h0M877 2744h0M948 2746h0M1021 2744h0M1056 2744h0M1058 2744h0M1061 2744h0M1091 2746h0M1100 2745h0M1115 2743h0M1143 2745h0M1153 2746h0M1185 2743h0M1245 2743h0M1248 2744h0M1265 2745h0M1272 2746h0M1281 2743h0M1313 2743h0M1322 2745h0M1323 2745h0M1349 2744h0M1369 2746h0M1379 2743h0M1388 2745h0M1389 2743h0M1390 2744h0M1410 2745h0M1415 2742h0M1603 2744h0M1606 2744h0M1623 2745h0M1628 2742h0M1630 2745h0M1640 2744h0M236 2748h0M314 2750h0M349 2747h0M373 2748h0M423 2749h0M475 2749h0M488 2747h0M509 2747h0M521 2747h0M533 2749h0M534 2748h0M555 2746h0M557 2748h0M573 2746h0M589 2748h0M618 2746h0M634 2750h0M638 2747h0M691 2749h0M739 2748h0M988 2746h0M1059 2749h0M1087 2749h0M1093 2750h0M1100 2748h0M1101 2750h0M1101 2749h0M1139 2750h0M1154 2747h0M1155 2749h0M1248 2749h0M1275 2749h0M1276 2748h0M1291 2747h0M1326 2747h0M1326 2749h0M1351 2750h0M1405 2746h0M1417 2749h0M1427 2750h0M1470 2747h0M1531 2748h0M1585 2747h0M1609 2748h0M1639 2746h0M208 2753h0M211 2754h0M218 2752h0M412 2752h0M478 2752h0M507 2753h0M652 2751h0M690 2753h0M700 2751h0M705 2752h0M744 2751h0M768 2753h0M773 2752h0M776 2752h0M792 2754h0M794 2752h0M952 2751h0M991 2752h0M994 2751h0M1006 2750h0M1034 2753h0M1073 2752h0M1079 2751h0M1102 2752h0M1112 2750h0M1121 2751h0M1124 2751h0M1159 2752h0M1193 2751h0M1288 2751h0M1306 2753h0M1394 2754h0M1492 2750h0M1599 2751h0M1630 2754h0M1643 2753h0M226 2756h0M315 2754h0M320 2755h0M376 2755h0M467 2755h0M517 2757h0M646 2754h0M648 2754h0M676 2757h0M686 2758h0M695 2757h0M710 2755h0M725 2758h0M772 2757h0M781 2755h0M895 2754h0M926 2758h0M951 2757h0M956 2757h0M971 2756h0M1139 2756h0M1189 2758h0M1217 2755h0M1377 2757h0M1473 2756h0M1517 2756h0M1558 2757h0M1560 2756h0M253 2760h0M319 2760h0M508 2758h0M514 2760h0M520 2759h0M579 2761h0M728 2762h0M766 2759h0M789 2759h0M1015 2761h0M1039 2761h0M1048 2758h0M1051 2762h0M1072 2761h0M1090 2760h0M1107 2759h0M1211 2760h0M1293 2760h0M1297 2761h0M1323 2759h0M1357 2759h0M1390 2759h0M1398 2762h0M1512 2760h0M1562 2762h0M1613 2761h0M1633 2759h0M199 2764h0M214 2765h0M232 2763h0M254 2764h0M491 2763h0M565 2765h0M568 2763h0M639 2762h0M646 2762h0M665 2765h0M667 2764h0M746 2764h0M777 2763h0M893 2763h0M906 2763h0M1047 2764h0M1048 2765h0M1087 2762h0M1089 2763h0M1100 2762h0M1157 2765h0M1175 2765h0M1230 2765h0M1239 2766h0M1256 2766h0M1264 2764h0M1297 2763h0M1318 2766h0M1327 2765h0M1348 2764h0M1449 2764h0M1450 2765h0M1472 2763h0M1532 2762h0M1547 2762h0M1561 2763h0M1566 2764h0M1600 2764h0M1606 2763h0M1635 2764h0M211 2767h0M216 2766h0M218 2766h0M222 2769h0M266 2767h0M339 2766h0M340 2769h0M382 2768h0M444 2769h0M478 2769h0M539 2767h0M555 2766h0M590 2768h0M710 2768h0M791 2767h0M798 2767h0M914 2768h0M930 2770h0M977 2769h0M995 2766h0M1062 2769h0M1072 2766h0M1100 2769h0M1115 2769h0M1176 2767h0M1253 2767h0M1256 2770h0M1390 2768h0M1495 2767h0M1572 2768h0M1617 2766h0M1629 2769h0M201 2772h0M241 2772h0M324 2770h0M615 2773h0M631 2771h0M687 2774h0M767 2772h0M980 2774h0M1062 2770h0M1378 2771h0M1420 2772h0M1455 2771h0M1547 2772h0M1581 2772h0M1607 2773h0M1636 2771h0M215 2775h0M227 2775h0M341 2775h0M369 2776h0M515 2775h0M561 2777h0M593 2775h0M595 2777h0M622 2775h0M654 2777h0M690 2778h0M691 2776h0M699 2775h0M711 2775h0M751 2777h0M759 2776h0M764 2775h0M771 2775h0M906 2777h0M926 2774h0M970 2777h0M1082 2776h0M1158 2774h0M1237 2774h0M1277 2776h0M1409 2777h0M1475 2775h0M1594 2778h0M283 2780h0M348 2781h0M354 2782h0M407 2780h0M615 2780h0M616 2780h0M624 2781h0M765 2780h0M790 2779h0M795 2780h0M801 2780h0M801 2780h0M885 2779h0M992 2780h0M1031 2782h0M1195 2781h0M1411 2782h0M1433 2780h0M1513 2781h0M1561 2781h0M1598 2782h0M1602 2780h0M1619 2779h0M1630 2779h0M1642 2780h0M299 2784h0M323 2786h0M330 2782h0M444 2783h0M568 2782h0M675 2782h0M751 2783h0M1024 2785h0M1137 2784h0M1413 2784h0M1505 2783h0M1542 2782h0M1602 2785h0M1622 2783h0M210 2786h0M283 2788h0M471 2786h0M509 2789h0M687 2788h0M709 2789h0M730 2789h0M938 2788h0M1093 2789h0M1130 2786h0M1385 2789h0M1401 2786h0M1421 2788h0M1426 2788h0M1439 2787h0M1440 2789h0M1494 2789h0M1515 2787h0M1542 2789h0M1561 2789h0M1618 2787h0M1618 2789h0M301 2793h0M323 2794h0M335 2791h0M347 2792h0M439 2791h0M460 2793h0M634 2792h0M706 2794h0M1067 2794h0M1143 2790h0M1339 2792h0M1352 2791h0M1412 2794h0M1452 2792h0M1561 2793h0M1604 2790h0M1608 2790h0M1609 2792h0M1612 2792h0M228 2795h0M231 2795h0M245 2796h0M427 2797h0M511 2794h0M576 2795h0M775 2797h0M982 2797h0M1018 2794h0M1018 2797h0M1020 2796h0M1133 2797h0M1161 2796h0M1182 2797h0M1203 2795h0M1271 2797h0M1380 2794h0M1403 2798h0M1421 2795h0M1423 2795h0M1459 2794h0M1471 2797h0M1533 2794h0M1543 2798h0M1573 2794h0M1595 2795h0M206 2801h0M333 2800h0M376 2800h0M644 2801h0M734 2801h0M752 2799h0M783 2801h0M894 2799h0M902 2798h0M975 2798h0M1022 2799h0M1091 2799h0M1298 2800h0M1339 2800h0M1351 2800h0M1354 2798h0M1372 2799h0M1430 2799h0M1458 2800h0M1473 2799h0M1496 2798h0M1529 2800h0M1529 2799h0M1585 2798h0M1603 2798h0M1634 2801h0M1640 2802h0M228 2804h0M231 2805h0M255 2803h0M309 2805h0M482 2804h0M680 2805h0M714 2803h0M724 2806h0M890 2805h0M1191 2804h0M1376 2804h0M1420 2804h0M1423 2805h0M1432 2804h0M1436 2806h0M1439 2804h0M1580 2804h0M1588 2803h0M1612 2803h0M1616 2804h0M1638 2805h0M223 2807h0M227 2808h0M269 2810h0M301 2808h0M395 2806h0M469 2809h0M630 2810h0M1122 2807h0M1132 2808h0M1164 2809h0M1261 2806h0M1323 2809h0M1475 2810h0M1517 2807h0M1546 2808h0M1630 2808h0M1639 2807h0M217 2812h0M226 2814h0M261 2812h0M338 2810h0M506 2813h0M759 2813h0M904 2813h0M972 2813h0M1044 2810h0M1104 2813h0M1235 2814h0M1271 2812h0M1307 2813h0M1406 2811h0M1421 2812h0M1424 2810h0M1517 2813h0M1520 2812h0M1633 2813h0M209 2814h0M246 2815h0M306 2818h0M358 2815h0M474 2816h0M546 2817h0M581 2816h0M652 2818h0M684 2818h0M989 2816h0M1020 2817h0M1115 2817h0M1246 2816h0M1251 2816h0M1285 2815h0M1399 2816h0M1543 2817h0M1612 2815h0M1631 2818h0M205 2819h0M215 2820h0M363 2822h0M615 2818h0M699 2819h0M729 2821h0M942 2821h0M1059 2820h0M1107 2818h0M1422 2820h0M1425 2821h0M1453 2819h0M1508 2821h0M1581 2819h0M1582 2819h0M1582 2821h0M1608 2819h0M1614 2819h0M1628 2821h0M208 2824h0M565 2826h0M578 2822h0M638 2824h0M732 2823h0M1043 2823h0M1045 2823h0M1087 2825h0M1268 2825h0M1273 2824h0M1362 2824h0M1445 2826h0M1465 2822h0M1471 2823h0M1478 2824h0M1497 2823h0M1513 2822h0M1543 2825h0M1601 2823h0M231 2828h0M252 2827h0M703 2829h0M736 2828h0M779 2829h0M1155 2829h0M1227 2827h0M1349 2826h0M1473 2828h0M1483 2826h0M1546 2826h0M1571 2826h0M1602 2829h0M1603 2829h0M1613 2827h0M1629 2827h0M203 2834h0M219 2831h0M223 2832h0M233 2830h0M329 2831h0M562 2833h0M563 2833h0M947 2831h0M951 2830h0M1059 2831h0M1445 2833h0M1511 2832h0M1557 2831h0M1587 2832h0M1632 2831h0M1636 2833h0M200 2836h0M201 2835h0M204 2835h0M204 2837h0M1358 2835h0M1506 2838h0M752 2839h0M1269 2842h0M1292 2839h0M990 2843h0M1060 2846h0M1279 2847h0M483 2851h0M1127 2852h0M1221 2851h0M1554 2852h0M1269 2861h0M1484 2861h0M645 2864h0M1424 2863h0M494 2868h0M733 2867h0M986 2867h0M1025 2873h0M630 2875h0M1620 2878h0M514 2883h0M797 2885h0M1282 2886h0M1500 2888h0M1076 2894h0M497 2894h0M554 2897h0M679 2895h0M964 2897h0M974 2896h0M1371 2902h0M904 2903h0M792 2907h0M1560 2910h0M775 2920h0M366 2922h0M699 2944h0M1137 2947h0" stroke="#1f287a" stroke-width="17.0" stroke-linecap="round" fill="none"/>
<g fill="#fff"><circle cx="471" cy="2395" r="2.7"/><circle cx="393" cy="2384" r="3.0"/><circle cx="500" cy="2399" r="1.4"/><circle cx="683" cy="2376" r="2.0"/><circle cx="733" cy="2387" r="2.6"/><circle cx="429" cy="2387" r="2.3"/><circle cx="408" cy="2387" r="2.5"/><circle cx="604" cy="2384" r="2.6"/><circle cx="551" cy="2392" r="2.5"/><circle cx="773" cy="2411" r="3.0"/><circle cx="473" cy="2374" r="2.1"/><circle cx="652" cy="2398" r="1.5"/><circle cx="375" cy="2396" r="1.7"/><circle cx="375" cy="2404" r="2.0"/><circle cx="583" cy="2387" r="2.5"/><circle cx="483" cy="2409" r="2.9"/><circle cx="361" cy="2405" r="2.0"/><circle cx="535" cy="2403" r="1.3"/><circle cx="369" cy="2375" r="2.7"/><circle cx="445" cy="2388" r="1.3"/><circle cx="759" cy="2382" r="1.4"/><circle cx="570" cy="2383" r="1.3"/><circle cx="581" cy="2392" r="1.5"/><circle cx="429" cy="2411" r="1.4"/><circle cx="695" cy="2372" r="2.4"/><circle cx="1264" cy="2384" r="2.1"/><circle cx="945" cy="2389" r="1.7"/><circle cx="1163" cy="2408" r="2.7"/><circle cx="1255" cy="2373" r="2.9"/><circle cx="1086" cy="2371" r="1.6"/><circle cx="1104" cy="2398" r="2.7"/><circle cx="1049" cy="2395" r="1.5"/><circle cx="901" cy="2374" r="3.0"/><circle cx="946" cy="2374" r="2.5"/><circle cx="923" cy="2379" r="2.8"/><circle cx="1282" cy="2405" r="2.6"/><circle cx="1056" cy="2385" r="2.8"/><circle cx="1118" cy="2389" r="1.8"/><circle cx="1279" cy="2393" r="2.5"/><circle cx="1143" cy="2393" r="2.9"/><circle cx="896" cy="2408" r="2.4"/><circle cx="1233" cy="2395" r="1.9"/><circle cx="1166" cy="2402" r="2.9"/><circle cx="1279" cy="2375" r="2.5"/><circle cx="1008" cy="2404" r="1.7"/><circle cx="1058" cy="2400" r="2.1"/><circle cx="1055" cy="2377" r="1.7"/><circle cx="969" cy="2384" r="2.5"/><circle cx="1089" cy="2379" r="1.6"/><circle cx="999" cy="2390" r="2.5"/><circle cx="533" cy="2592" r="2.0"/><circle cx="721" cy="2640" r="2.7"/><circle cx="589" cy="2628" r="1.5"/><circle cx="579" cy="2667" r="2.2"/><circle cx="551" cy="2677" r="2.8"/><circle cx="546" cy="2706" r="2.5"/><circle cx="751" cy="2612" r="2.7"/><circle cx="363" cy="2703" r="2.5"/><circle cx="500" cy="2591" r="2.7"/><circle cx="465" cy="2695" r="2.4"/><circle cx="443" cy="2596" r="2.6"/><circle cx="587" cy="2696" r="2.2"/></g>
<line x1="217.30" y1="589.0" x2="2100.0" y2="589.0" stroke="#000" stroke-width="8.5" stroke-dasharray="4.0 22.20" stroke-linecap="round"/>
<line x1="221.50" y1="1624.5" x2="2094.0" y2="1624.5" stroke="#000" stroke-width="8.5" stroke-dasharray="4.0 22.05" stroke-linecap="round"/>
<line x1="217.90" y1="2627.0" x2="2068.0" y2="2627.0" stroke="#000" stroke-width="8.5" stroke-dasharray="4.0 21.70" stroke-linecap="round"/>
<path d="M197.7 470.5 L200.7 514.5 L203.7 455.7 L206.3 505.6 L209.6 465.0 L213.6 506.0 L216.7 458.4 L221.1 513.4 L224.9 460.4 L228.3 500.6 L232.7 452.9 L235.7 499.2 L239.7 465.0 L242.5 513.3 L245.5 457.3 L248.7 488.2 L253.8 497.7 L259.0 510.8 L264.1 521.9 L269.2 516.0 L274.2 512.4 L279.3 509.0 L285.2 500.9 L291.2 486.2 L297.1 478.3 L303.5 444.8 L309.9 410.9 L315.1 407.3 L320.2 407.2 L327.7 455.5 L332.8 490.1 L338.0 523.8 L344.3 551.4 L350.6 574.7 L355.8 592.1 L362.2 595.7 L368.6 601.1 L374.3 605.3 L380.1 611.7 L385.8 620.6 L391.5 625.2 L396.7 623.2 L401.8 621.9 L406.9 618.2 L412.0 616.6 L417.1 611.0 L422.2 605.6 L427.3 614.0 L432.4 618.9 L437.5 622.2 L442.6 627.1 L447.7 636.0 L452.8 639.0 L457.9 645.1 L463.5 641.2 L469.1 636.7 L474.7 630.4 L480.4 622.9 L486.0 620.7 L491.7 623.4 L497.4 627.9 L503.2 628.4 L508.9 633.5 L514.0 635.4 L519.1 637.8 L524.2 641.4 L529.3 647.5 L534.4 649.8 L539.5 648.6 L544.6 647.1 L549.7 648.6 L554.8 644.4 L559.9 643.2 L564.9 639.4 L569.9 642.3 L575.0 642.5 L580.0 639.4 L585.1 647.6 L590.3 658.2 L595.4 658.0 L600.4 658.9 L605.5 659.6 L610.6 657.9 L615.7 661.3 L620.8 663.7 L625.9 663.9 L631.0 663.6 L636.1 662.9 L641.2 662.7 L646.2 659.7 L651.3 661.4 L656.4 664.7 L661.5 661.8 L666.6 660.9 L671.7 660.5 L676.8 658.8 L681.9 661.3 L686.7 656.5 L691.4 660.4 L696.1 657.8 L700.8 657.2 L705.6 658.0 L710.3 653.9 L715.0 653.8 L719.8 652.1 L724.5 652.7 L729.2 653.4 L733.9 648.9 L738.7 649.1 L743.4 647.8 L748.5 651.1 L753.6 656.1 L758.7 655.5 L763.8 655.8 L768.9 660.1 L773.9 657.1 L779.0 650.1 L784.1 642.6 L789.1 640.2 L794.1 639.6 L799.1 634.5 L807.0 617.6 L810.9 575.4 L814.7 552.4 L816.6 509.5 L823.7 500.6 L823.7 571.1 L823.7 445.9" fill="none" stroke="#e0181f" stroke-width="12" stroke-linejoin="round" stroke-linecap="round"/>
<path d="M873.4 611.7 L873.4 667.8 L878.5 668.3 L883.7 659.9 L889.0 661.9 L894.4 659.2 L899.7 659.5 L905.1 660.9 L910.4 660.6 L915.4 661.9 L920.3 659.8 L925.2 659.8 L930.1 661.9 L935.1 661.5 L940.0 659.2 L944.9 660.2 L949.8 660.1 L954.8 661.0 L959.7 661.0 L964.5 656.4 L969.3 658.1 L974.1 658.4 L979.0 656.6 L983.8 656.4 L988.6 656.2 L993.4 657.3 L998.2 655.4 L1003.1 656.4 L1007.9 658.3 L1012.7 660.2 L1017.5 657.3 L1022.3 660.7 L1027.2 658.4 L1032.0 661.6 L1036.8 660.3 L1041.5 660.0 L1046.3 661.3 L1051.0 659.4 L1055.7 661.5 L1060.5 662.5 L1065.2 663.1 L1070.0 664.2 L1074.7 664.7 L1079.8 667.6 L1084.8 665.1 L1089.9 667.3 L1095.0 670.2 L1100.0 669.5 L1105.1 672.3 L1110.2 674.4 L1115.2 677.6 L1120.3 678.8 L1125.5 673.6 L1130.7 672.6 L1135.8 672.1 L1141.0 671.8 L1146.2 666.6 L1151.4 663.0 L1156.3 663.9 L1161.2 663.4 L1166.1 665.4 L1171.0 661.7 L1175.9 663.3 L1180.8 662.3 L1185.7 660.2 L1190.6 661.4 L1195.5 659.3 L1200.5 659.9 L1205.4 659.4 L1210.3 657.3 L1215.2 655.7 L1217.5 623.3 L1222.7 615.5 L1227.8 608.0 L1233.0 604.2 L1238.1 599.6 L1243.2 594.9 L1248.3 602.0 L1253.4 603.0 L1258.4 607.9 L1263.8 643.5 L1268.8 645.4 L1273.8 647.4 L1278.8 651.6 L1283.5 648.8 L1288.3 648.4 L1293.0 647.3 L1297.8 642.9 L1302.5 642.3 L1307.2 642.8 L1312.0 641.2 L1318.1 634.3 L1324.1 626.6 L1330.2 623.6 L1335.1 616.9 L1340.0 613.1 L1345.0 615.5 L1350.0 613.1 L1354.9 611.9 L1359.9 610.7 L1364.8 608.3 L1369.8 608.6 L1375.6 585.5 L1381.4 567.8 L1387.0 560.6 L1392.7 554.1 L1398.5 559.0 L1404.3 562.5 L1410.1 567.6 L1415.9 571.5 L1425.1 589.8 L1431.7 680.3 L1436.4 693.9 L1443.3 681.5 L1450.2 677.5 L1457.2 671.3 L1463.3 687.6 L1469.3 707.6 L1475.4 726.4 L1482.2 755.2 L1491.5 735.2 L1498.4 737.8 L1505.4 741.2 L1514.4 684.0 L1523.6 657.5 L1530.6 584.6 L1539.6 582.7 L1544.8 584.9 L1550.0 587.9 L1555.2 591.3 L1560.4 597.4 L1564.9 611.6 L1571.8 680.2 L1576.5 750.1 L1578.8 795.7 L1582.9 798.9 L1590.0 822.0 L1597.0 845.5 L1604.1 814.5 L1608.6 727.0 L1615.5 676.3 L1622.4 660.2 L1629.4 648.1 L1634.7 644.1 L1640.1 639.1 L1645.4 632.4 L1651.2 633.7 L1656.9 630.0 L1662.6 628.3 L1668.3 627.9" fill="none" stroke="#e0181f" stroke-width="12" stroke-linejoin="round" stroke-linecap="round"/>
<path d="M813 573 L815 508 L816 496 L825 492 L825 573 L818 589Z" fill="#e0181f"/>
<path d="M201.5 1868.4 L208.6 1854.0 L215.6 1842.5 L220.7 1842.3 L225.8 1839.6 L230.9 1834.6 L238.5 1852.0 L243.6 1874.2 L248.7 1892.5 L255.0 1902.4 L261.3 1901.3 L266.4 1900.3 L271.5 1898.4 L276.6 1897.3 L281.8 1890.9 L286.9 1884.5 L292.1 1877.2 L298.1 1874.7 L304.0 1875.0 L310.0 1874.1 L316.3 1856.8 L322.7 1838.2 L330.4 1843.5 L335.5 1836.9 L340.6 1832.1 L345.7 1827.4 L353.3 1836.1 L359.7 1851.5 L366.1 1870.0 L372.5 1866.5 L378.8 1864.0 L384.0 1870.7 L389.1 1875.6 L394.2 1882.5 L399.3 1875.2 L404.4 1868.3 L409.5 1865.5 L414.6 1846.4 L419.7 1827.8 L424.7 1828.6 L429.8 1828.0 L434.8 1829.4 L439.9 1828.0 L445.0 1832.1 L450.2 1833.6 L455.3 1835.1 L460.5 1843.8 L465.6 1835.2 L470.7 1828.7 L475.7 1823.3 L480.8 1818.9 L485.8 1814.9 L490.9 1808.1 L496.9 1813.0 L502.9 1815.7 L509.0 1820.9 L515.2 1813.6 L521.5 1813.6 L527.9 1818.3 L534.3 1825.4 L540.3 1823.9 L546.3 1818.9 L552.3 1817.1 L557.9 1821.3 L563.4 1820.6 L568.9 1821.3 L574.4 1820.7 L580.0 1823.1 L586.3 1824.0 L592.7 1829.8 L597.5 1830.7 L602.3 1825.5 L607.1 1823.6 L611.9 1823.1 L616.6 1820.9 L621.4 1819.8 L626.2 1816.7 L631.0 1813.9 L635.8 1814.3 L640.6 1817.0 L645.3 1817.3 L650.1 1819.0 L654.9 1819.6 L659.7 1821.3 L664.5 1821.4 L669.3 1821.7 L674.4 1821.4 L679.5 1823.6 L684.6 1821.8 L689.7 1822.1 L694.8 1821.6 L699.9 1820.0 L705.0 1820.6 L710.1 1822.4 L715.2 1820.7 L720.3 1821.4 L725.4 1819.2 L730.5 1812.1 L735.6 1809.7 L740.7 1806.8 L745.8 1804.3 L750.5 1802.2 L755.3 1799.8 L760.0 1797.4 L764.7 1797.0 L769.5 1795.1 L774.2 1791.6 L779.0 1791.8 L784.7 1785.9 L790.4 1782.4 L796.2 1780.5 L801.9 1778.9 L809.6 1746.5 L814.7 1671.0 L818.5 1609.0 L823.6 1504.0 L823.6 1656.5" fill="none" stroke="#e0181f" stroke-width="10.5" stroke-linejoin="round" stroke-linecap="round"/>
<path d="M873.4 1837.0 L874.4 1807.6 L880.3 1808.7 L886.1 1807.2 L890.8 1810.0 L895.5 1808.1 L900.2 1809.8 L904.9 1811.0 L909.6 1812.9 L914.2 1811.8 L918.9 1808.9 L923.6 1811.3 L928.3 1812.5 L933.0 1809.3 L937.7 1810.7 L942.4 1812.0 L947.1 1812.1 L951.7 1811.8 L956.4 1812.4 L961.1 1813.0 L965.8 1812.8 L970.5 1815.2 L975.2 1812.8 L979.9 1815.6 L985.0 1815.8 L990.1 1815.0 L995.3 1814.3 L1000.4 1813.6 L1005.6 1813.9 L1010.7 1811.3 L1015.9 1818.9 L1021.1 1819.9 L1026.2 1827.3 L1031.4 1833.3 L1036.6 1835.0 L1041.8 1842.7 L1047.0 1845.9 L1052.2 1847.3 L1057.0 1851.3 L1061.8 1852.1 L1066.6 1856.3 L1071.5 1861.7 L1076.3 1864.9 L1081.1 1864.2 L1086.0 1865.2 L1090.8 1872.0 L1095.6 1872.6 L1100.5 1875.7 L1105.3 1877.8 L1110.4 1871.8 L1115.5 1867.3 L1120.6 1860.1 L1125.7 1854.2 L1130.8 1851.4 L1135.9 1844.4 L1141.0 1838.0 L1146.1 1830.7 L1151.2 1825.2 L1156.3 1818.8 L1161.2 1826.2 L1166.0 1829.1 L1170.8 1832.9 L1175.7 1838.0 L1180.5 1841.9 L1185.3 1844.7 L1190.1 1854.4 L1195.0 1857.4 L1199.8 1858.2 L1204.6 1867.3 L1209.5 1869.8 L1214.8 1845.1 L1220.1 1815.5 L1225.2 1808.6 L1230.3 1803.9 L1235.4 1799.0 L1240.5 1795.2 L1245.6 1790.2 L1250.9 1802.8 L1256.2 1816.6 L1261.6 1833.5 L1266.9 1846.4 L1271.7 1845.2 L1276.4 1845.6 L1281.2 1847.5 L1286.0 1848.9 L1290.8 1851.2 L1295.6 1849.9 L1300.4 1848.8 L1305.1 1852.0 L1309.9 1851.5 L1314.7 1853.0 L1319.5 1855.4 L1324.3 1854.8 L1329.6 1855.9 L1334.9 1857.4 L1340.2 1857.0 L1345.5 1859.3 L1350.9 1861.9 L1356.2 1862.8 L1362.5 1843.8 L1368.9 1867.2 L1375.3 1890.7 L1380.5 1886.4 L1385.6 1884.1 L1390.8 1882.0 L1396.0 1878.9 L1401.1 1874.2 L1406.3 1873.0 L1411.4 1869.9 L1417.8 1832.1 L1424.2 1792.5 L1429.7 1796.4 L1435.3 1802.6 L1440.8 1810.5 L1446.3 1815.6 L1451.8 1821.7 L1457.4 1818.5 L1462.9 1812.9 L1468.4 1809.5 L1474.0 1804.7 L1479.5 1800.6 L1484.6 1802.7 L1489.8 1799.3 L1495.0 1801.1 L1500.1 1797.9 L1505.3 1797.2 L1510.5 1799.4 L1515.6 1797.2 L1519.9 1829.2 L1524.7 1829.9 L1529.4 1829.6 L1534.2 1828.2 L1539.0 1829.0 L1543.8 1829.0 L1548.6 1828.4 L1553.4 1826.4 L1558.1 1828.8 L1563.1 1804.4 L1568.1 1778.5 L1573.0 1750.3 L1578.7 1753.5 L1584.4 1755.8 L1590.0 1756.7 L1595.3 1790.6 L1600.7 1822.0 L1605.6 1823.2 L1610.6 1824.9 L1615.5 1825.6 L1620.5 1820.4 L1625.5 1822.5 L1630.4 1821.6 L1635.5 1815.8 L1640.6 1814.8 L1645.7 1816.7 L1650.8 1811.0 L1655.9 1811.5" fill="none" stroke="#e0181f" stroke-width="10.5" stroke-linejoin="round" stroke-linecap="round"/>
<path d="M200.2 2354.8 L204.9 2355.2 L209.5 2351.8 L214.2 2354.0 L218.9 2353.5 L223.5 2352.4 L228.2 2348.9 L233.6 2350.5 L238.9 2350.7 L244.3 2354.5 L249.7 2353.6 L254.3 2356.7 L259.0 2355.0 L263.7 2358.6 L268.4 2358.3 L273.1 2355.2 L277.8 2356.5 L282.5 2357.3 L287.1 2356.1 L291.8 2357.9 L296.5 2355.1 L301.2 2357.0 L305.8 2356.4 L310.5 2359.0 L315.1 2358.4 L319.7 2357.9 L324.3 2357.0 L329.0 2356.3 L333.6 2357.2 L338.2 2357.2 L342.9 2356.5 L347.5 2358.0 L352.1 2358.1 L356.7 2354.6 L361.4 2353.2 L366.0 2355.5 L370.6 2357.6 L375.3 2357.0 L379.9 2353.9 L384.5 2355.6 L389.1 2355.3 L393.8 2354.5 L398.4 2356.2 L403.0 2354.8 L407.7 2353.3 L412.3 2356.2 L416.9 2354.4 L421.8 2353.2 L426.7 2352.7 L431.6 2356.3 L436.6 2355.7 L441.5 2355.6 L446.4 2358.3 L451.3 2358.6 L456.2 2356.3 L461.1 2354.6 L466.0 2356.3 L470.9 2358.4 L475.8 2356.1 L480.7 2358.0 L485.7 2357.6 L490.6 2358.5 L495.3 2359.5 L500.1 2355.0 L504.9 2357.1 L509.7 2356.9 L514.5 2358.5 L519.3 2358.3 L524.0 2358.0 L528.8 2357.4 L533.6 2358.3 L538.4 2361.5 L543.2 2362.4 L548.4 2360.4 L553.7 2358.2 L558.9 2358.2 L564.2 2359.3 L569.5 2357.7 L574.7 2361.3 L580.0 2358.2 L584.7 2358.4 L589.4 2358.3 L594.2 2359.1 L598.9 2356.3 L603.6 2356.7 L608.3 2356.8 L613.0 2355.7 L617.8 2355.3 L622.5 2359.1 L627.2 2354.9 L631.9 2353.5 L636.7 2356.8 L641.4 2356.7 L646.1 2355.2 L650.8 2353.0 L655.6 2353.3 L660.3 2353.1 L665.0 2355.1 L669.7 2354.8 L674.4 2353.4 L679.3 2355.2 L684.1 2355.0 L689.0 2355.2 L693.8 2354.3 L698.6 2357.5 L703.5 2357.8 L708.3 2357.3 L713.2 2359.7 L718.0 2359.3 L722.8 2358.8 L727.7 2361.7 L732.5 2359.4 L737.1 2359.6 L741.8 2360.6 L746.4 2363.6 L751.0 2360.5 L755.7 2361.5 L760.3 2363.1 L764.9 2361.8 L769.6 2360.6 L774.2 2360.3 L778.8 2363.8 L783.4 2362.3 L788.1 2360.3 L792.7 2362.1 L797.3 2361.4 L802.0 2360.9 L809.5 2376.8 L814.6 2412.2" fill="none" stroke="#f4a90f" stroke-width="10.5" stroke-linejoin="round" stroke-linecap="round"/>
<path d="M863.2 2335.8 L865.1 2355.0 L870.4 2361.6 L875.7 2359.4 L881.1 2361.2 L885.8 2360.2 L890.6 2361.2 L895.4 2357.9 L900.1 2361.4 L904.9 2361.9 L909.7 2361.4 L914.4 2362.2 L919.2 2362.4 L924.0 2360.2 L928.8 2362.7 L933.5 2361.5 L938.3 2361.9 L943.1 2361.2 L947.8 2359.5 L952.6 2359.7 L957.4 2360.9 L962.1 2361.7 L966.9 2360.7 L971.7 2362.0 L976.4 2361.4 L981.2 2361.0 L986.0 2362.4 L990.8 2362.0 L995.5 2362.3 L1000.2 2359.3 L1004.9 2360.9 L1009.6 2361.1 L1014.3 2362.2 L1018.9 2358.2 L1023.6 2360.4 L1028.3 2361.6 L1033.0 2359.9 L1037.7 2360.1 L1042.4 2357.0 L1047.0 2359.8 L1051.7 2360.4 L1056.4 2358.8 L1061.1 2359.7 L1065.8 2359.5 L1070.4 2358.3 L1075.1 2356.5 L1079.8 2356.6 L1084.5 2360.5 L1089.2 2358.2 L1093.9 2356.8 L1098.5 2358.5 L1103.2 2359.2 L1107.9 2357.1 L1112.6 2357.6 L1117.3 2358.8 L1122.0 2358.2 L1126.6 2355.1 L1131.3 2356.4 L1136.0 2357.1 L1140.7 2357.7 L1145.4 2358.3 L1150.0 2356.7 L1154.7 2357.5 L1159.4 2357.7 L1164.0 2356.9 L1168.7 2356.0 L1173.4 2356.4 L1178.0 2358.5 L1182.7 2359.4 L1187.3 2357.9 L1192.0 2356.7 L1196.7 2358.3 L1201.3 2357.0 L1206.0 2356.6 L1210.7 2355.4 L1215.3 2356.0 L1220.0 2356.8 L1224.7 2356.3 L1229.3 2358.3 L1234.0 2356.0 L1238.7 2355.2 L1243.3 2353.8 L1248.0 2356.8 L1252.9 2354.4 L1257.7 2356.4 L1262.6 2356.2 L1267.5 2356.1 L1272.4 2356.2 L1277.2 2357.2 L1282.1 2357.2 L1287.0 2353.6 L1291.9 2352.4 L1296.7 2354.5 L1301.6 2354.0 L1306.5 2356.2 L1311.3 2351.4 L1316.2 2353.4 L1321.1 2352.7 L1326.0 2350.1 L1330.8 2350.8 L1335.7 2352.6 L1340.6 2350.7 L1345.3 2351.8 L1350.0 2352.5 L1354.8 2351.6 L1359.5 2351.4 L1364.2 2349.8 L1369.0 2352.2 L1373.7 2350.1 L1378.4 2349.9 L1383.2 2351.5 L1387.9 2352.0 L1392.6 2352.3 L1397.4 2348.1 L1402.1 2352.8 L1406.9 2350.5 L1411.6 2348.9 L1416.3 2350.5 L1421.0 2350.8 L1425.6 2350.2 L1430.3 2349.1 L1435.0 2345.4 L1439.6 2347.8 L1444.3 2348.3 L1448.9 2345.1 L1453.6 2345.3 L1458.2 2340.9 L1462.9 2340.4 L1467.6 2339.8 L1472.2 2339.8 L1476.9 2341.2 L1481.5 2340.6 L1486.6 2341.5 L1491.6 2343.8 L1496.7 2341.8 L1501.7 2344.2 L1506.8 2350.2 L1512.3 2346.6 L1517.7 2348.2 L1523.2 2346.9 L1528.7 2348.9 L1534.1 2352.2 L1539.2 2350.2 L1544.2 2352.4 L1549.3 2349.9 L1554.3 2353.1 L1559.4 2349.9 L1564.4 2352.0 L1569.5 2351.4 L1574.5 2355.1 L1579.6 2354.3 L1584.6 2353.3 L1589.5 2353.2 L1594.5 2353.1 L1599.4 2352.9 L1604.3 2353.4 L1609.2 2352.0 L1614.1 2351.5 L1619.0 2354.3 L1623.9 2350.2 L1628.8 2353.5 L1633.7 2353.7 L1638.6 2352.0 L1643.6 2352.4" fill="none" stroke="#f4a90f" stroke-width="10.5" stroke-linejoin="round" stroke-linecap="round"/>
<path d="M200.2 2900.0 L205.1 2901.6 L210.0 2900.5 L214.9 2900.8 L219.8 2903.8 L224.8 2906.1 L229.7 2908.3 L235.0 2906.8 L240.4 2904.2 L245.8 2899.7 L251.1 2897.5 L255.8 2900.9 L260.5 2898.3 L265.2 2899.2 L269.9 2901.5 L274.7 2900.1 L279.4 2899.0 L284.1 2898.9 L288.8 2897.7 L293.5 2900.6 L298.2 2895.2 L302.9 2898.3 L307.6 2900.3 L312.3 2900.5 L317.0 2898.3 L321.7 2897.9 L326.4 2898.8 L331.1 2899.4 L335.8 2899.4 L340.5 2899.0 L345.2 2900.2 L349.9 2898.3 L354.6 2898.8 L359.3 2899.4 L364.1 2900.0 L368.8 2900.4 L373.5 2901.0 L378.2 2899.9 L382.9 2897.7 L387.6 2897.2 L392.3 2899.8 L397.0 2898.3 L401.7 2899.3 L406.4 2898.6 L411.1 2898.4 L415.7 2897.2 L420.4 2897.0 L425.1 2897.3 L429.7 2900.4 L434.4 2897.4 L439.1 2895.8 L443.8 2900.4 L448.4 2899.0 L453.1 2897.6 L457.8 2896.5 L462.4 2897.7 L467.1 2897.9 L471.8 2897.2 L476.4 2895.9 L481.1 2898.4 L485.8 2898.1 L490.5 2896.9 L495.1 2896.8 L499.8 2897.6 L504.5 2894.7 L509.1 2898.7 L513.8 2896.8 L518.5 2893.8 L523.1 2898.4 L527.8 2897.2 L532.5 2896.6 L537.2 2896.8 L541.8 2896.3 L546.5 2896.5 L551.2 2896.5 L555.8 2895.1 L560.5 2895.8 L565.2 2897.4 L569.8 2897.3 L574.5 2894.6 L579.2 2894.0 L583.9 2896.2 L588.5 2896.4 L593.2 2896.2 L597.9 2895.5 L602.5 2895.6 L607.1 2892.3 L611.8 2895.0 L616.4 2898.9 L621.1 2896.7 L625.7 2896.4 L630.3 2895.6 L635.0 2894.8 L639.6 2896.4 L644.2 2894.7 L648.9 2894.1 L653.5 2894.7 L658.2 2893.7 L662.8 2895.0 L667.4 2891.7 L672.1 2892.7 L676.7 2893.2 L681.4 2893.9 L686.0 2894.3 L690.6 2896.5 L695.3 2895.9 L699.9 2895.3 L704.5 2892.7 L709.2 2893.5 L713.8 2893.4 L718.5 2894.9 L723.1 2891.8 L727.7 2893.5 L732.4 2893.5 L737.0 2893.2 L741.7 2896.4 L746.3 2892.2 L750.9 2896.8 L755.6 2892.8 L760.2 2893.4 L764.8 2893.3 L769.5 2891.8 L774.1 2893.3 L778.8 2895.0 L783.4 2891.6 L788.0 2894.8 L792.7 2893.7 L797.3 2893.7 L802.0 2890.8 L807.2 2869.2 L812.5 2841.3" fill="none" stroke="#f4a90f" stroke-width="10.5" stroke-linejoin="round" stroke-linecap="round"/>
<path d="M863.4 2920.2 L865.1 2897.3 L869.7 2895.6 L874.4 2894.6 L879.1 2895.5 L883.7 2895.6 L888.4 2894.3 L893.0 2893.9 L897.7 2896.0 L902.4 2893.9 L907.0 2895.6 L911.7 2897.1 L916.4 2895.5 L921.0 2895.3 L925.7 2897.3 L930.4 2895.5 L935.0 2896.5 L939.7 2897.4 L944.3 2895.7 L949.0 2895.7 L953.7 2895.3 L958.3 2896.3 L963.0 2895.3 L967.7 2895.4 L972.3 2894.7 L977.0 2894.5 L981.6 2896.4 L986.3 2895.4 L991.0 2895.5 L995.6 2895.7 L1000.3 2894.5 L1005.0 2894.5 L1009.6 2895.6 L1014.3 2897.1 L1018.9 2896.7 L1023.6 2895.6 L1028.3 2895.4 L1032.9 2896.1 L1037.6 2897.2 L1042.3 2897.4 L1047.0 2896.2 L1051.6 2896.3 L1056.3 2896.2 L1061.0 2897.6 L1065.7 2894.3 L1070.3 2896.6 L1075.0 2895.9 L1079.7 2897.5 L1084.4 2897.8 L1089.0 2897.6 L1093.7 2897.2 L1098.4 2896.6 L1103.1 2896.2 L1107.7 2897.3 L1112.4 2894.0 L1117.1 2896.4 L1121.8 2896.5 L1126.4 2896.4 L1131.1 2895.8 L1135.8 2899.6 L1140.5 2895.0 L1145.1 2896.7 L1149.8 2897.7 L1154.5 2898.1 L1159.2 2899.0 L1163.8 2896.5 L1168.5 2896.9 L1173.2 2897.6 L1177.9 2896.7 L1182.5 2898.0 L1187.2 2898.8 L1191.9 2900.1 L1196.6 2897.2 L1201.2 2899.7 L1205.9 2898.4 L1210.6 2898.5 L1215.3 2899.1 L1219.9 2897.5 L1224.6 2900.5 L1229.3 2900.1 L1234.0 2897.7 L1238.6 2898.6 L1243.3 2900.1 L1248.0 2898.1 L1252.8 2898.6 L1257.6 2901.5 L1262.3 2901.1 L1267.1 2896.7 L1271.9 2900.2 L1276.7 2898.9 L1281.5 2898.3 L1286.3 2901.6 L1291.0 2902.4 L1295.8 2901.0 L1300.6 2903.0 L1305.4 2905.6 L1310.2 2904.1 L1314.9 2904.5 L1319.7 2902.7 L1324.5 2902.7 L1329.3 2903.6 L1334.1 2901.3 L1338.9 2902.9 L1343.6 2904.6 L1348.4 2906.3 L1353.2 2906.8 L1358.0 2905.4 L1362.8 2908.1 L1367.5 2908.2 L1372.3 2909.1 L1377.1 2908.9 L1381.9 2909.1 L1386.7 2909.4 L1391.5 2910.4 L1396.2 2911.3 L1401.0 2911.3 L1405.8 2911.1 L1410.5 2911.6 L1415.3 2913.6 L1420.0 2914.8 L1424.7 2910.8 L1429.5 2912.8 L1434.2 2911.6 L1438.9 2914.8 L1443.7 2915.5 L1448.4 2913.5 L1453.1 2913.4 L1457.9 2915.2 L1462.6 2913.0 L1467.3 2915.4 L1472.1 2918.0 L1476.8 2917.0 L1481.5 2916.5 L1486.3 2916.2 L1491.1 2915.1 L1495.9 2911.4 L1500.7 2911.5 L1505.5 2910.9 L1510.2 2908.6 L1515.0 2907.2 L1519.8 2904.4 L1524.6 2903.1 L1529.4 2902.5 L1534.1 2900.6 L1539.2 2899.9 L1544.2 2899.3 L1549.3 2904.3 L1554.3 2902.2 L1559.4 2900.9 L1564.4 2904.7 L1569.5 2902.7 L1574.5 2903.3 L1579.6 2902.3 L1584.6 2903.9 L1589.5 2905.2 L1594.5 2904.2 L1599.4 2903.5 L1604.3 2904.3 L1609.2 2906.2 L1614.1 2904.8 L1619.0 2906.3 L1623.9 2906.3 L1628.8 2903.8 L1633.7 2905.7 L1638.6 2904.7 L1643.6 2905.4" fill="none" stroke="#f4a90f" stroke-width="10.5" stroke-linejoin="round" stroke-linecap="round"/>
<path d="M200.2 2417.2 L204.9 2414.9 L209.5 2413.9 L214.2 2413.6 L218.9 2414.2 L223.5 2415.9 L228.2 2414.5 L233.8 2413.6 L239.4 2414.5 L245.1 2418.1 L250.7 2417.6 L255.4 2417.6 L260.1 2417.8 L264.9 2417.6 L269.6 2418.2 L274.3 2418.9 L279.0 2416.4 L283.7 2419.9 L288.4 2418.1 L293.2 2420.8 L297.9 2417.5 L302.6 2415.1 L307.3 2419.0 L312.0 2417.1 L316.8 2417.6 L321.5 2417.5 L326.2 2419.1 L330.9 2417.6 L335.6 2422.1 L340.3 2416.8 L345.1 2419.3 L349.8 2417.2 L354.5 2416.5 L359.2 2418.3 L363.9 2415.7 L368.7 2416.8 L373.4 2418.5 L378.1 2419.6 L382.8 2418.1 L387.5 2418.6 L392.2 2418.4 L397.0 2418.3 L401.7 2418.5 L406.4 2419.9 L411.2 2417.0 L416.0 2420.4 L420.7 2417.7 L425.5 2418.6 L430.3 2417.7 L435.1 2418.9 L439.9 2420.0 L444.7 2421.3 L449.4 2418.5 L454.2 2418.4 L459.0 2420.8 L463.8 2419.3 L468.6 2418.1 L473.3 2421.3 L478.1 2419.5 L482.9 2419.5 L487.7 2420.2 L492.5 2419.0 L497.3 2420.1 L502.0 2421.1 L506.8 2421.9 L511.6 2417.9 L516.5 2419.0 L521.4 2418.6 L526.3 2421.4 L531.1 2419.3 L536.0 2419.7 L540.9 2419.7 L545.8 2418.4 L550.7 2416.8 L555.6 2418.9 L560.4 2417.3 L565.3 2420.5 L570.2 2416.7 L575.1 2418.0 L580.0 2416.7 L584.6 2416.6 L589.3 2417.3 L593.9 2417.7 L598.5 2418.6 L603.2 2419.3 L607.8 2419.0 L612.5 2419.9 L617.1 2417.8 L621.8 2417.8 L626.4 2417.7 L631.0 2419.3 L635.7 2419.1 L640.3 2418.7 L645.0 2418.2 L649.6 2420.1 L654.2 2418.6 L658.9 2421.1 L663.6 2420.9 L668.4 2419.5 L673.1 2421.2 L677.9 2421.6 L682.6 2421.6 L687.4 2421.9 L692.1 2421.5 L696.9 2420.3 L701.6 2420.2 L706.4 2420.8 L711.2 2421.7 L715.9 2421.2 L720.7 2421.4 L725.4 2423.2 L730.2 2422.9 L734.9 2421.5 L739.7 2420.7 L744.4 2423.1 L749.2 2424.3 L753.9 2423.0 L758.7 2426.3 L763.4 2425.8 L768.2 2422.8 L772.9 2425.4 L777.7 2423.3 L782.4 2423.0 L787.2 2425.0 L791.9 2423.6 L796.7 2424.6 L801.4 2430.6 L806.2 2432.2 L812.1 2460.7" fill="none" stroke="#6cbc4a" stroke-width="10.5" stroke-linejoin="round" stroke-linecap="round"/>
<path d="M863.2 2394.5 L866.3 2416.1 L871.5 2420.4 L876.7 2419.4 L881.9 2422.0 L886.6 2423.4 L891.3 2420.5 L896.1 2419.1 L900.8 2420.8 L905.5 2422.3 L910.2 2423.7 L914.9 2423.6 L919.6 2421.7 L924.4 2424.0 L929.1 2419.7 L933.8 2422.6 L938.5 2422.3 L943.2 2419.4 L948.0 2423.2 L952.7 2424.0 L957.4 2421.6 L962.1 2421.0 L966.8 2422.8 L971.5 2421.6 L976.3 2420.7 L981.0 2421.0 L985.7 2421.6 L990.4 2421.7 L995.1 2421.1 L999.9 2421.9 L1004.6 2420.0 L1009.3 2421.0 L1014.0 2424.2 L1018.7 2422.8 L1023.4 2422.2 L1028.2 2421.3 L1032.9 2419.1 L1037.6 2421.1 L1042.3 2421.2 L1046.9 2420.7 L1051.6 2422.8 L1056.2 2422.4 L1060.9 2418.6 L1065.6 2420.1 L1070.2 2422.6 L1074.9 2419.2 L1079.6 2421.7 L1084.2 2422.2 L1088.9 2420.8 L1093.5 2419.6 L1098.2 2419.0 L1102.9 2421.7 L1107.5 2419.8 L1112.2 2422.7 L1116.8 2422.7 L1121.5 2421.0 L1126.2 2420.4 L1130.8 2419.0 L1135.5 2420.4 L1140.1 2421.9 L1144.8 2421.5 L1149.5 2421.1 L1154.1 2423.0 L1158.8 2418.9 L1163.5 2421.5 L1168.1 2421.1 L1172.8 2420.9 L1177.4 2419.6 L1182.1 2420.1 L1186.8 2420.7 L1191.4 2420.9 L1196.1 2419.9 L1200.7 2419.9 L1205.4 2421.7 L1210.1 2422.2 L1214.7 2422.6 L1219.4 2420.1 L1224.0 2421.9 L1228.7 2420.4 L1233.4 2418.2 L1238.0 2420.5 L1242.7 2418.8 L1247.4 2420.6 L1252.0 2420.9 L1256.7 2420.3 L1261.3 2420.1 L1266.0 2419.9 L1270.7 2419.2 L1275.3 2420.7 L1280.0 2421.9 L1284.6 2422.8 L1289.3 2420.8 L1294.0 2417.6 L1298.6 2422.6 L1303.3 2420.6 L1307.9 2418.6 L1312.6 2423.4 L1317.3 2421.2 L1321.9 2418.1 L1326.6 2419.2 L1331.3 2419.6 L1335.9 2421.1 L1340.6 2418.6 L1345.3 2417.8 L1350.0 2420.8 L1354.8 2416.9 L1359.5 2422.1 L1364.2 2418.2 L1369.0 2419.5 L1373.7 2417.3 L1378.4 2416.1 L1383.2 2418.7 L1387.9 2418.8 L1392.6 2417.6 L1397.4 2416.9 L1402.1 2416.3 L1406.9 2415.9 L1411.6 2417.5 L1416.3 2413.8 L1421.0 2417.1 L1425.6 2414.2 L1430.3 2413.8 L1435.0 2416.6 L1439.6 2410.7 L1444.3 2412.2 L1448.9 2413.2 L1453.6 2408.7 L1458.2 2413.8 L1462.9 2409.6 L1467.6 2408.3 L1472.2 2408.7 L1476.9 2406.7 L1481.5 2407.5 L1486.5 2409.9 L1491.4 2411.3 L1496.3 2411.7 L1501.2 2408.5 L1506.1 2412.9 L1511.0 2411.7 L1515.8 2413.0 L1520.6 2412.3 L1525.3 2415.4 L1530.1 2414.4 L1534.9 2413.1 L1539.7 2410.8 L1544.5 2414.5 L1549.3 2413.3 L1554.0 2413.7 L1558.8 2413.2 L1563.6 2413.5 L1568.3 2412.6 L1573.0 2412.3 L1577.7 2412.6 L1582.4 2414.2 L1587.1 2413.7 L1591.8 2412.0 L1596.5 2413.0 L1601.2 2414.0 L1605.9 2412.3 L1610.6 2410.9 L1615.3 2413.5 L1620.0 2410.9 L1624.7 2410.9 L1629.4 2413.2 L1634.1 2410.7 L1638.8 2413.9 L1643.6 2412.2" fill="none" stroke="#6cbc4a" stroke-width="10.5" stroke-linejoin="round" stroke-linecap="round"/>
<path d="M200.2 2843.8 L205.1 2845.3 L210.0 2843.6 L214.9 2845.1 L219.8 2847.4 L224.8 2842.9 L229.7 2846.8 L235.0 2842.8 L240.4 2844.8 L245.8 2841.9 L251.1 2841.4 L255.8 2842.0 L260.5 2839.6 L265.2 2841.5 L269.9 2841.3 L274.7 2839.3 L279.4 2841.7 L284.1 2840.3 L288.8 2839.9 L293.5 2843.4 L298.2 2842.0 L302.9 2840.9 L307.6 2843.5 L312.3 2839.2 L317.0 2840.9 L321.7 2841.9 L326.4 2840.9 L331.1 2842.6 L335.8 2841.3 L340.5 2842.7 L345.2 2841.1 L349.9 2841.3 L354.6 2840.1 L359.3 2843.3 L364.1 2839.8 L368.8 2840.9 L373.5 2840.5 L378.2 2840.9 L382.9 2838.6 L387.6 2839.4 L392.3 2839.4 L397.0 2839.5 L401.7 2839.3 L406.4 2838.7 L411.1 2837.7 L415.7 2840.5 L420.4 2838.6 L425.1 2839.3 L429.7 2840.4 L434.4 2839.4 L439.1 2839.8 L443.8 2837.8 L448.4 2838.5 L453.1 2839.1 L457.8 2836.9 L462.4 2838.1 L467.1 2841.0 L471.8 2839.4 L476.4 2840.8 L481.1 2838.6 L485.8 2838.9 L490.5 2836.7 L495.1 2838.2 L499.8 2836.8 L504.5 2838.1 L509.1 2838.5 L513.8 2836.8 L518.5 2837.5 L523.1 2837.4 L527.8 2836.8 L532.5 2837.8 L537.2 2835.0 L541.8 2838.4 L546.5 2837.0 L551.2 2835.7 L555.8 2837.7 L560.5 2839.4 L565.2 2836.8 L569.8 2837.4 L574.5 2836.1 L579.2 2834.9 L583.9 2836.3 L588.5 2835.8 L593.2 2835.7 L597.9 2835.5 L602.5 2835.3 L607.1 2835.2 L611.8 2834.9 L616.4 2836.5 L621.1 2839.6 L625.7 2836.3 L630.3 2834.6 L635.0 2834.7 L639.6 2835.1 L644.2 2837.2 L648.9 2836.7 L653.5 2836.0 L658.2 2835.7 L662.8 2835.8 L667.4 2837.2 L672.1 2836.2 L676.7 2835.1 L681.4 2835.7 L686.0 2833.7 L690.6 2833.9 L695.3 2835.6 L699.9 2836.4 L704.5 2833.3 L709.2 2835.3 L713.8 2834.6 L718.5 2834.8 L723.1 2834.5 L727.7 2834.0 L732.4 2834.4 L737.0 2833.7 L741.7 2835.0 L746.3 2835.4 L750.9 2836.8 L755.6 2833.0 L760.2 2835.6 L764.8 2835.2 L769.5 2835.7 L774.1 2835.1 L778.8 2832.8 L783.4 2836.1 L788.0 2836.4 L792.7 2833.7 L797.3 2833.7 L802.0 2836.0 L809.9 2795.1" fill="none" stroke="#6cbc4a" stroke-width="10.5" stroke-linejoin="round" stroke-linecap="round"/>
<path d="M863.4 2859.1 L865.1 2835.6 L869.7 2835.3 L874.4 2836.4 L879.1 2835.8 L883.7 2837.9 L888.4 2835.1 L893.0 2835.2 L897.7 2838.1 L902.4 2837.3 L907.0 2835.9 L911.7 2836.8 L916.4 2835.5 L921.0 2834.3 L925.7 2835.8 L930.4 2836.7 L935.0 2836.5 L939.7 2837.1 L944.3 2832.7 L949.0 2836.7 L953.7 2836.5 L958.3 2838.2 L963.0 2835.9 L967.7 2838.5 L972.3 2838.1 L977.0 2836.8 L981.6 2841.0 L986.3 2838.5 L991.0 2836.7 L995.6 2838.0 L1000.3 2839.1 L1005.0 2839.3 L1009.6 2836.5 L1014.3 2836.5 L1018.9 2835.9 L1023.6 2836.7 L1028.3 2837.5 L1032.9 2839.3 L1037.6 2835.6 L1042.3 2837.5 L1047.0 2837.7 L1051.6 2838.9 L1056.3 2837.6 L1061.0 2837.4 L1065.7 2839.0 L1070.3 2838.8 L1075.0 2839.7 L1079.7 2837.2 L1084.4 2837.6 L1089.0 2837.1 L1093.7 2839.1 L1098.4 2837.2 L1103.1 2840.0 L1107.7 2840.3 L1112.4 2839.0 L1117.1 2840.2 L1121.8 2835.2 L1126.4 2838.6 L1131.1 2843.2 L1135.8 2837.6 L1140.5 2841.7 L1145.1 2837.0 L1149.8 2839.0 L1154.5 2838.8 L1159.2 2839.7 L1163.8 2840.6 L1168.5 2838.3 L1173.2 2839.2 L1177.9 2841.2 L1182.5 2840.5 L1187.2 2839.5 L1191.9 2841.2 L1196.6 2841.8 L1201.2 2842.2 L1205.9 2838.6 L1210.6 2838.7 L1215.3 2839.4 L1219.9 2840.2 L1224.6 2841.9 L1229.3 2840.8 L1234.0 2840.1 L1238.6 2842.7 L1243.3 2840.5 L1248.0 2839.9 L1252.8 2839.6 L1257.6 2842.4 L1262.3 2840.3 L1267.1 2841.6 L1271.9 2841.6 L1276.7 2840.3 L1281.5 2840.7 L1286.3 2844.1 L1291.0 2841.6 L1295.8 2841.8 L1300.6 2845.0 L1305.4 2842.8 L1310.2 2843.1 L1314.9 2844.9 L1319.7 2844.5 L1324.5 2843.0 L1329.3 2843.6 L1334.1 2842.7 L1338.9 2844.5 L1343.6 2844.6 L1348.4 2845.4 L1353.2 2846.0 L1358.0 2845.2 L1362.8 2846.6 L1367.5 2846.4 L1372.3 2847.2 L1377.1 2849.1 L1381.9 2849.2 L1386.7 2847.8 L1391.5 2848.5 L1396.2 2847.8 L1401.0 2849.8 L1405.8 2845.6 L1410.5 2847.0 L1415.3 2848.9 L1420.0 2850.7 L1424.7 2850.4 L1429.5 2851.1 L1434.2 2852.6 L1438.9 2853.7 L1443.7 2852.8 L1448.4 2853.7 L1453.1 2853.5 L1457.9 2852.3 L1462.6 2853.1 L1467.3 2852.7 L1472.1 2856.8 L1476.8 2856.7 L1481.5 2856.2 L1486.5 2852.8 L1491.4 2854.5 L1496.3 2849.2 L1501.2 2848.8 L1506.1 2847.7 L1511.0 2843.9 L1515.8 2845.8 L1520.6 2844.7 L1525.3 2844.9 L1530.1 2846.9 L1534.9 2849.5 L1539.7 2847.2 L1544.5 2848.4 L1549.3 2846.6 L1554.0 2848.0 L1558.8 2848.2 L1563.6 2847.4 L1568.3 2849.3 L1573.0 2848.0 L1577.7 2849.9 L1582.4 2847.7 L1587.1 2848.1 L1591.8 2846.7 L1596.5 2848.8 L1601.2 2848.6 L1605.9 2847.6 L1610.6 2847.5 L1615.3 2850.1 L1620.0 2849.9 L1624.7 2847.9 L1629.4 2848.7 L1634.1 2847.6 L1638.8 2849.3 L1643.6 2848.8" fill="none" stroke="#6cbc4a" stroke-width="10.5" stroke-linejoin="round" stroke-linecap="round"/>
<path d="M200.6 2440.8 L203.8 2465.2 L206.9 2440.9 L209.9 2462.4 L213.6 2439.4 L216.8 2469.1 L219.5 2440.2 L223.1 2469.0 L225.7 2437.3 L228.4 2468.7 L232.4 2436.8 L235.0 2464.1 L238.7 2437.5 L241.3 2471.3 L245.1 2438.4 L249.9 2432.9 L255.5 2438.3 L261.2 2441.7 L267.3 2444.6 L273.3 2449.4 L279.3 2452.7 L285.2 2451.8 L291.1 2446.2 L297.0 2441.1 L303.4 2432.5 L309.8 2428.1 L315.0 2426.7 L320.1 2429.7 L326.4 2449.8 L332.8 2467.3 L337.9 2484.1 L343.1 2498.1 L349.5 2503.2 L355.9 2506.8 L360.6 2506.8 L365.3 2507.3 L370.1 2509.4 L374.8 2508.8 L379.5 2508.2 L384.2 2510.7 L388.9 2514.7 L394.9 2515.3 L400.9 2520.8 L406.8 2524.8 L411.9 2527.7 L417.0 2528.7 L422.1 2529.4 L427.2 2533.4 L432.3 2535.0 L437.1 2537.8 L441.9 2537.5 L446.6 2538.1 L451.4 2537.5 L456.2 2540.9 L461.0 2539.7 L465.8 2540.9 L470.6 2541.8 L475.4 2542.0 L480.1 2544.7 L484.9 2546.2 L489.7 2549.1 L494.5 2549.6 L499.3 2548.9 L504.1 2551.9 L508.9 2551.7 L513.7 2552.8 L518.4 2555.1 L523.2 2554.1 L528.0 2554.8 L532.8 2555.6 L537.6 2557.3 L542.4 2557.0 L547.2 2554.9 L552.2 2557.1 L557.3 2553.2 L562.3 2553.8 L567.4 2551.9 L573.0 2554.3 L578.7 2556.2 L584.4 2561.5 L590.1 2561.6 L594.7 2563.8 L599.4 2560.8 L604.0 2560.6 L608.7 2559.1 L613.4 2559.3 L618.0 2557.8 L622.7 2556.9 L627.3 2557.7 L632.3 2558.4 L637.3 2556.0 L642.2 2557.2 L647.2 2557.3 L652.2 2556.5 L657.2 2558.5 L662.1 2557.0 L667.1 2556.0 L672.1 2557.2 L677.1 2557.5 L682.0 2557.6 L686.8 2558.0 L691.6 2560.6 L696.4 2560.7 L701.2 2560.5 L706.0 2562.1 L710.7 2562.4 L715.5 2564.5 L720.3 2563.4 L725.1 2565.2 L729.9 2565.3 L734.7 2566.7 L739.5 2568.8 L744.2 2567.8 L749.0 2567.6 L753.8 2566.9 L758.6 2570.1 L763.7 2571.7 L768.8 2571.0 L773.9 2571.3 L779.0 2569.7 L784.1 2568.6 L789.2 2568.6 L794.3 2568.1 L799.4 2566.9 L804.5 2569.3 L809.5 2589.5 L814.6 2611.3" fill="none" stroke="#e0181f" stroke-width="11.5" stroke-linejoin="round" stroke-linecap="round"/>
<path d="M864.9 2529.3 L864.9 2571.8 L872.9 2569.5 L877.5 2568.9 L882.1 2569.1 L886.7 2569.2 L891.4 2571.0 L896.0 2570.8 L900.6 2568.1 L905.3 2570.3 L909.9 2569.0 L914.5 2570.3 L919.1 2572.2 L923.8 2568.9 L929.0 2568.3 L934.1 2570.5 L939.3 2565.7 L944.5 2566.8 L949.7 2564.3 L954.9 2563.6 L960.0 2563.2 L965.2 2562.9 L970.2 2565.4 L975.1 2564.6 L980.1 2564.8 L985.0 2563.2 L990.0 2562.6 L995.0 2565.1 L999.9 2563.7 L1004.9 2564.4 L1009.8 2567.3 L1015.4 2560.9 L1021.0 2556.2 L1026.6 2553.2 L1032.1 2548.4 L1037.5 2545.8 L1042.8 2546.9 L1048.1 2547.0 L1053.5 2545.6 L1058.8 2547.7 L1064.1 2544.3 L1069.2 2544.2 L1074.3 2543.0 L1079.4 2541.3 L1084.5 2540.4 L1089.6 2536.0 L1094.5 2540.8 L1099.4 2541.6 L1104.2 2542.7 L1109.1 2546.6 L1114.1 2546.2 L1119.1 2550.5 L1124.0 2551.8 L1129.0 2555.9 L1133.9 2557.4 L1138.9 2560.4 L1143.9 2564.5 L1149.6 2562.3 L1155.4 2563.2 L1161.1 2557.5 L1166.8 2552.3 L1172.5 2548.9 L1177.3 2545.3 L1182.0 2539.4 L1186.8 2536.5 L1191.6 2534.4 L1196.2 2535.4 L1200.9 2535.7 L1205.5 2539.3 L1210.1 2539.2 L1214.8 2540.6 L1219.4 2543.6 L1224.1 2543.9 L1228.8 2543.6 L1233.4 2547.3 L1238.1 2549.2 L1242.7 2547.4 L1247.8 2544.7 L1252.9 2545.6 L1258.0 2543.9 L1263.1 2540.6 L1268.2 2539.3 L1273.5 2540.4 L1278.8 2539.1 L1284.1 2538.2 L1289.4 2536.0 L1294.7 2535.7 L1300.0 2537.3 L1306.4 2525.8 L1312.8 2518.8 L1317.9 2517.4 L1323.0 2518.8 L1328.1 2514.5 L1333.2 2515.3 L1338.3 2512.9 L1344.8 2504.6 L1347.9 2515.1 L1354.8 2492.3 L1361.6 2471.6 L1366.5 2472.7 L1371.4 2477.8 L1376.3 2478.3 L1381.3 2483.5 L1386.2 2488.1 L1391.1 2488.4 L1396.3 2492.5 L1401.6 2499.0 L1406.9 2549.4 L1412.1 2597.3 L1417.4 2583.2 L1422.6 2565.6 L1427.9 2570.0 L1433.2 2576.8 L1438.4 2582.5 L1443.7 2585.0 L1448.6 2596.7 L1453.5 2608.0 L1458.4 2617.7 L1463.7 2616.8 L1468.9 2610.6 L1474.2 2613.0 L1479.4 2607.5 L1484.9 2590.5 L1490.4 2573.7 L1495.9 2554.4 L1501.3 2539.0 L1506.8 2519.3 L1511.8 2519.8 L1516.9 2519.2 L1521.9 2520.0 L1527.0 2519.1 L1532.0 2518.0 L1537.3 2557.2 L1542.6 2596.0 L1547.8 2632.8 L1553.1 2671.2 L1558.3 2674.8 L1563.6 2679.5 L1568.9 2681.3 L1574.1 2688.1 L1579.4 2639.9 L1584.6 2595.1 L1590.3 2581.4 L1595.9 2569.6 L1601.5 2555.8 L1606.1 2558.5 L1610.8 2552.9 L1615.5 2556.1 L1620.2 2557.4 L1624.8 2555.3 L1629.5 2554.9 L1634.2 2552.8 L1638.9 2553.0 L1643.6 2552.7" fill="none" stroke="#e0181f" stroke-width="11.5" stroke-linejoin="round" stroke-linecap="round"/>
<defs><pattern id="chk" width="10" height="10" patternUnits="userSpaceOnUse" patternTransform="rotate(45)"><rect width="10" height="10" fill="#b4b4bc" fill-opacity="0.39"/><rect width="5" height="5" fill="#a8a8b0" fill-opacity="0.12"/><rect x="5" y="5" width="5" height="5" fill="#a8a8b0" fill-opacity="0.12"/></pattern></defs>
<path d="M259.5 100.3H344A7 7 0 0 1 351 107.3V2880.8A7 7 0 0 1 344 2887.8H259.5A7 7 0 0 1 252.5 2880.8V107.3A7 7 0 0 1 259.5 100.3Z" fill="url(#chk)"/>
<path d="M259.5 90.7H344A12 12 0 0 1 356 102.7V2885.4A12 12 0 0 1 344 2897.4H259.5A12 12 0 0 1 247.5 2885.4V102.7A12 12 0 0 1 259.5 90.7ZM259.5 100.3H344A7 7 0 0 1 351 107.3V2880.8A7 7 0 0 1 344 2887.8H259.5A7 7 0 0 1 252.5 2880.8V107.3A7 7 0 0 1 259.5 100.3Z" fill="#e21a22" fill-rule="evenodd"/>
<text x="703.5" y="110.5" class="ttl" fill="#297a34" stroke="#297a34" textLength="437" lengthAdjust="spacingAndGlyphs"><tspan font-style="italic">bmr6</tspan> bulk</text>
<text x="798.5" y="1170" class="ttl" fill="#f2a20a" stroke="#f2a20a" textLength="524" lengthAdjust="spacingAndGlyphs">normal bulk</text>
<text x="645.5" y="2183" class="ttl" fill="#1c2270" stroke="#1c2270" textLength="782" lengthAdjust="spacingAndGlyphs"><tspan font-style="italic">bmr6</tspan>-normal bulk</text>
<line x1="174.0" y1="992.0" x2="193.0" y2="992.0" stroke="#8a8a8a" stroke-width="3.5"/>
<line x1="174.0" y1="830.8" x2="193.0" y2="830.8" stroke="#8a8a8a" stroke-width="3.5"/>
<line x1="174.0" y1="669.6" x2="193.0" y2="669.6" stroke="#8a8a8a" stroke-width="3.5"/>
<line x1="174.0" y1="508.4" x2="193.0" y2="508.4" stroke="#8a8a8a" stroke-width="3.5"/>
<line x1="174.0" y1="347.2" x2="193.0" y2="347.2" stroke="#8a8a8a" stroke-width="3.5"/>
<line x1="174.0" y1="186.0" x2="193.0" y2="186.0" stroke="#8a8a8a" stroke-width="3.5"/>
<line x1="193.0" y1="992.0" x2="193.0" y2="1005.0" stroke="#b0b0b0" stroke-width="2.5"/>
<line x1="621.3" y1="992.0" x2="621.3" y2="1005.0" stroke="#b0b0b0" stroke-width="2.5"/>
<line x1="1049.6" y1="992.0" x2="1049.6" y2="1005.0" stroke="#b0b0b0" stroke-width="2.5"/>
<line x1="1478.0" y1="992.0" x2="1478.0" y2="1005.0" stroke="#b0b0b0" stroke-width="2.5"/>
<line x1="1906.3" y1="992.0" x2="1906.3" y2="1005.0" stroke="#b0b0b0" stroke-width="2.5"/>
<path d="M193.0 107.7V992.0H2096.3" fill="none" stroke="#000" stroke-width="7.5" stroke-linecap="round"/>
<text transform="translate(147.0,992.0) rotate(-90)" class="tky" text-anchor="middle">0.0</text>
<text transform="translate(147.0,830.8) rotate(-90)" class="tky" text-anchor="middle">0.2</text>
<text transform="translate(147.0,669.6) rotate(-90)" class="tky" text-anchor="middle">0.4</text>
<text transform="translate(147.0,508.4) rotate(-90)" class="tky" text-anchor="middle">0.6</text>
<text transform="translate(147.0,347.2) rotate(-90)" class="tky" text-anchor="middle">0.8</text>
<text transform="translate(147.0,186.0) rotate(-90)" class="tky" text-anchor="middle">1.0</text>
<text x="193.0" y="1056.0" class="tk" text-anchor="middle">0</text>
<text x="621.3" y="1056.0" class="tk" text-anchor="middle">20</text>
<text x="1049.6" y="1056.0" class="tk" text-anchor="middle">40</text>
<text x="1478.0" y="1056.0" class="tk" text-anchor="middle">60</text>
<text x="1906.3" y="1056.0" class="tk" text-anchor="middle">80</text>
<text transform="translate(78.0,598.0) rotate(-90)" class="lab" text-anchor="middle">SNP-index</text>
<line x1="178.5" y1="2024.0" x2="197.5" y2="2024.0" stroke="#8a8a8a" stroke-width="3.5"/>
<line x1="178.5" y1="1864.2" x2="197.5" y2="1864.2" stroke="#8a8a8a" stroke-width="3.5"/>
<line x1="178.5" y1="1704.4" x2="197.5" y2="1704.4" stroke="#8a8a8a" stroke-width="3.5"/>
<line x1="178.5" y1="1544.6" x2="197.5" y2="1544.6" stroke="#8a8a8a" stroke-width="3.5"/>
<line x1="178.5" y1="1384.8" x2="197.5" y2="1384.8" stroke="#8a8a8a" stroke-width="3.5"/>
<line x1="178.5" y1="1225.0" x2="197.5" y2="1225.0" stroke="#8a8a8a" stroke-width="3.5"/>
<line x1="197.5" y1="2024.0" x2="197.5" y2="2037.0" stroke="#b0b0b0" stroke-width="2.5"/>
<line x1="622.7" y1="2024.0" x2="622.7" y2="2037.0" stroke="#b0b0b0" stroke-width="2.5"/>
<line x1="1047.9" y1="2024.0" x2="1047.9" y2="2037.0" stroke="#b0b0b0" stroke-width="2.5"/>
<line x1="1473.1" y1="2024.0" x2="1473.1" y2="2037.0" stroke="#b0b0b0" stroke-width="2.5"/>
<line x1="1898.3" y1="2024.0" x2="1898.3" y2="2037.0" stroke="#b0b0b0" stroke-width="2.5"/>
<path d="M197.5 1145.7V2024.0H2090.3" fill="none" stroke="#000" stroke-width="7.5" stroke-linecap="round"/>
<text transform="translate(152.0,2024.0) rotate(-90)" class="tky" text-anchor="middle">0.0</text>
<text transform="translate(152.0,1864.2) rotate(-90)" class="tky" text-anchor="middle">0.2</text>
<text transform="translate(152.0,1704.4) rotate(-90)" class="tky" text-anchor="middle">0.4</text>
<text transform="translate(152.0,1544.6) rotate(-90)" class="tky" text-anchor="middle">0.6</text>
<text transform="translate(152.0,1384.8) rotate(-90)" class="tky" text-anchor="middle">0.8</text>
<text transform="translate(152.0,1225.0) rotate(-90)" class="tky" text-anchor="middle">1.0</text>
<text x="197.5" y="2088.0" class="tk" text-anchor="middle">0</text>
<text x="622.7" y="2088.0" class="tk" text-anchor="middle">20</text>
<text x="1047.9" y="2088.0" class="tk" text-anchor="middle">40</text>
<text x="1473.1" y="2088.0" class="tk" text-anchor="middle">60</text>
<text x="1898.3" y="2088.0" class="tk" text-anchor="middle">80</text>
<text transform="translate(85.0,1632.0) rotate(-90)" class="lab" text-anchor="middle">SNP-index</text>
<line x1="177.0" y1="3040.0" x2="196.0" y2="3040.0" stroke="#8a8a8a" stroke-width="3.5"/>
<line x1="177.0" y1="2833.5" x2="196.0" y2="2833.5" stroke="#8a8a8a" stroke-width="3.5"/>
<line x1="177.0" y1="2627.0" x2="196.0" y2="2627.0" stroke="#8a8a8a" stroke-width="3.5"/>
<line x1="177.0" y1="2420.5" x2="196.0" y2="2420.5" stroke="#8a8a8a" stroke-width="3.5"/>
<line x1="177.0" y1="2214.0" x2="196.0" y2="2214.0" stroke="#8a8a8a" stroke-width="3.5"/>
<line x1="196.0" y1="3040.0" x2="196.0" y2="3053.0" stroke="#b0b0b0" stroke-width="2.5"/>
<line x1="616.8" y1="3040.0" x2="616.8" y2="3053.0" stroke="#b0b0b0" stroke-width="2.5"/>
<line x1="1037.6" y1="3040.0" x2="1037.6" y2="3053.0" stroke="#b0b0b0" stroke-width="2.5"/>
<line x1="1458.4" y1="3040.0" x2="1458.4" y2="3053.0" stroke="#b0b0b0" stroke-width="2.5"/>
<line x1="1879.2" y1="3040.0" x2="1879.2" y2="3053.0" stroke="#b0b0b0" stroke-width="2.5"/>
<path d="M196.0 2177.7V3040.0H2069.3" fill="none" stroke="#000" stroke-width="7.5" stroke-linecap="round"/>
<text transform="translate(150.0,3040.0) rotate(-90)" class="tky" text-anchor="middle">-1.0</text>
<text transform="translate(150.0,2833.5) rotate(-90)" class="tky" text-anchor="middle">-0.5</text>
<text transform="translate(150.0,2627.0) rotate(-90)" class="tky" text-anchor="middle">0.0</text>
<text transform="translate(150.0,2420.5) rotate(-90)" class="tky" text-anchor="middle">0.5</text>
<text transform="translate(150.0,2214.0) rotate(-90)" class="tky" text-anchor="middle">1.0</text>
<text x="196.0" y="3107.0" class="tk" text-anchor="middle">0</text>
<text x="616.8" y="3107.0" class="tk" text-anchor="middle">20</text>
<text x="1037.6" y="3107.0" class="tk" text-anchor="middle">40</text>
<text x="1458.4" y="3107.0" class="tk" text-anchor="middle">60</text>
<text x="1879.2" y="3107.0" class="tk" text-anchor="middle">80</text>
<text transform="translate(84.0,2626.0) rotate(-90)" class="lab" text-anchor="middle"><tspan font-size="61.5px">delta(SNP-index)</tspan></text>
<text x="1129" y="3176" class="lab" text-anchor="middle">chr_position (Mb)</text>
</svg></div></body></html>
